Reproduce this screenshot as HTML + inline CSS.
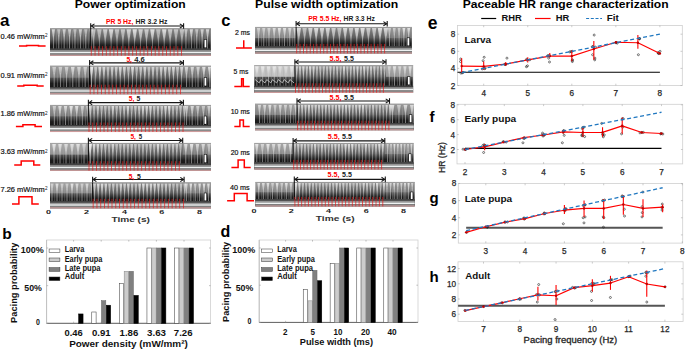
<!DOCTYPE html>
<html><head><meta charset="utf-8"><style>
html,body{margin:0;padding:0;background:#fff;}
svg{display:block;font-family:"Liberation Sans",sans-serif;}
</style></head><body>
<svg width="685" height="350" viewBox="0 0 685 350">
<defs>
<linearGradient id="kbody" x1="0" y1="0" x2="0" y2="1">
<stop offset="0" stop-color="#8a8a8a"/>
<stop offset="0.4" stop-color="#5c5c5c"/>
<stop offset="0.62" stop-color="#1c1c1c"/>
<stop offset="1" stop-color="#141414"/>
</linearGradient>
<linearGradient id="kbeat" x1="0" y1="0" x2="0" y2="1">
<stop offset="0" stop-color="#f4f4f4" stop-opacity="0.95"/>
<stop offset="0.5" stop-color="#e0e0e0" stop-opacity="0.8"/>
<stop offset="1" stop-color="#a0a0a0" stop-opacity="0.15"/>
</linearGradient>
</defs>
<rect width="685" height="350" fill="#fff"/>
<text x="74.7" y="8.2" font-size="10" font-weight="bold" fill="#000" text-anchor="start" textLength="111" lengthAdjust="spacingAndGlyphs">Power optimization</text>
<text x="255.1" y="8.2" font-size="10.3" font-weight="bold" fill="#000" text-anchor="start" textLength="143.2" lengthAdjust="spacingAndGlyphs">Pulse width optimization</text>
<text x="462.8" y="7.9" font-size="10" font-weight="bold" fill="#000" text-anchor="start" textLength="205.8" lengthAdjust="spacingAndGlyphs">Paceable HR range characterization</text>
<text x="0" y="25.9" font-size="17" font-weight="bold" fill="#000" text-anchor="start">a</text>
<text x="221.2" y="25.6" font-size="16.5" font-weight="bold" fill="#000" text-anchor="start">c</text>
<text x="427.8" y="29" font-size="17.5" font-weight="bold" fill="#000" text-anchor="start">e</text>
<text x="2.2" y="238.9" font-size="15.5" font-weight="bold" fill="#000" text-anchor="start">b</text>
<text x="220.4" y="236.5" font-size="16" font-weight="bold" fill="#000" text-anchor="start">d</text>
<text x="429.6" y="121.8" font-size="15" font-weight="bold" fill="#000" text-anchor="start">f</text>
<text x="429.4" y="203.2" font-size="15" font-weight="bold" fill="#000" text-anchor="start">g</text>
<text x="429.4" y="282.1" font-size="15" font-weight="bold" fill="#000" text-anchor="start">h</text>
<g>
<rect x="50" y="28.2" width="161" height="27.5" fill="url(#kbody)"/>
<path d="M51.75,29.2 L54.99,29.2 L53.37,41.95 Z" fill="url(#kbeat)" opacity="0.8"/>
<line x1="53.37" y1="35.08" x2="53.37" y2="48.7" stroke="#d0d0d0" stroke-width="0.7" opacity="0.8"/>
<line x1="56.34" y1="30.2" x2="56.34" y2="48.7" stroke="#a8a8a8" stroke-width="0.5" opacity="0.7"/>
<path d="M57.15,29.2 L60.39,29.2 L58.77,41.95 Z" fill="url(#kbeat)" opacity="0.62"/>
<line x1="58.77" y1="35.08" x2="58.77" y2="48.7" stroke="#d0d0d0" stroke-width="0.7" opacity="0.8"/>
<line x1="61.74" y1="30.2" x2="61.74" y2="48.7" stroke="#a8a8a8" stroke-width="0.5" opacity="0.7"/>
<path d="M62.55,29.2 L65.79,29.2 L64.17,41.95 Z" fill="url(#kbeat)" opacity="0.76"/>
<line x1="64.17" y1="35.08" x2="64.17" y2="48.7" stroke="#d0d0d0" stroke-width="0.7" opacity="0.8"/>
<line x1="67.14" y1="30.2" x2="67.14" y2="48.7" stroke="#a8a8a8" stroke-width="0.5" opacity="0.7"/>
<path d="M67.95,29.2 L71.19,29.2 L69.57,41.95 Z" fill="url(#kbeat)" opacity="0.71"/>
<line x1="69.57" y1="35.08" x2="69.57" y2="48.7" stroke="#d0d0d0" stroke-width="0.7" opacity="0.8"/>
<line x1="72.54" y1="30.2" x2="72.54" y2="48.7" stroke="#a8a8a8" stroke-width="0.5" opacity="0.7"/>
<path d="M73.35,29.2 L76.59,29.2 L74.97,41.95 Z" fill="url(#kbeat)" opacity="0.62"/>
<line x1="74.97" y1="35.08" x2="74.97" y2="48.7" stroke="#d0d0d0" stroke-width="0.7" opacity="0.8"/>
<line x1="77.94" y1="30.2" x2="77.94" y2="48.7" stroke="#a8a8a8" stroke-width="0.5" opacity="0.7"/>
<path d="M78.75,29.2 L81.99,29.2 L80.37,41.95 Z" fill="url(#kbeat)" opacity="0.75"/>
<line x1="80.37" y1="35.08" x2="80.37" y2="48.7" stroke="#d0d0d0" stroke-width="0.7" opacity="0.8"/>
<line x1="83.34" y1="30.2" x2="83.34" y2="48.7" stroke="#a8a8a8" stroke-width="0.5" opacity="0.7"/>
<path d="M84.15,29.2 L87.39,29.2 L85.77,41.95 Z" fill="url(#kbeat)" opacity="0.61"/>
<line x1="85.77" y1="35.08" x2="85.77" y2="48.7" stroke="#d0d0d0" stroke-width="0.7" opacity="0.8"/>
<line x1="88.74" y1="30.2" x2="88.74" y2="48.7" stroke="#a8a8a8" stroke-width="0.5" opacity="0.7"/>
<path d="M89.55,29.2 L92.79,29.2 L91.17,41.95 Z" fill="url(#kbeat)" opacity="0.73"/>
<line x1="91.17" y1="35.08" x2="91.17" y2="48.7" stroke="#d0d0d0" stroke-width="0.7" opacity="0.8"/>
<line x1="94.14" y1="30.2" x2="94.14" y2="48.7" stroke="#a8a8a8" stroke-width="0.5" opacity="0.7"/>
<path d="M91.2,29.2 L95.62,29.2 L93.41,44.7 Z" fill="url(#kbeat)" opacity="0.62"/>
<line x1="93.41" y1="35.08" x2="93.41" y2="48.7" stroke="#d0d0d0" stroke-width="0.55" opacity="0.8"/>
<path d="M97.1,29.2 L101.53,29.2 L99.31,44.7 Z" fill="url(#kbeat)" opacity="0.63"/>
<line x1="99.31" y1="35.08" x2="99.31" y2="48.7" stroke="#d0d0d0" stroke-width="0.55" opacity="0.8"/>
<path d="M103,29.2 L107.43,29.2 L105.21,44.7 Z" fill="url(#kbeat)" opacity="0.73"/>
<line x1="105.21" y1="35.08" x2="105.21" y2="48.7" stroke="#d0d0d0" stroke-width="0.55" opacity="0.8"/>
<path d="M108.9,29.2 L113.33,29.2 L111.11,44.7 Z" fill="url(#kbeat)" opacity="0.85"/>
<line x1="111.11" y1="35.08" x2="111.11" y2="48.7" stroke="#d0d0d0" stroke-width="0.55" opacity="0.8"/>
<path d="M114.8,29.2 L119.23,29.2 L117.01,44.7 Z" fill="url(#kbeat)" opacity="0.64"/>
<line x1="117.01" y1="35.08" x2="117.01" y2="48.7" stroke="#d0d0d0" stroke-width="0.55" opacity="0.8"/>
<path d="M120.7,29.2 L125.13,29.2 L122.91,44.7 Z" fill="url(#kbeat)" opacity="0.67"/>
<line x1="122.91" y1="35.08" x2="122.91" y2="48.7" stroke="#d0d0d0" stroke-width="0.55" opacity="0.8"/>
<path d="M126.6,29.2 L131.03,29.2 L128.81,44.7 Z" fill="url(#kbeat)" opacity="0.79"/>
<line x1="128.81" y1="35.08" x2="128.81" y2="48.7" stroke="#d0d0d0" stroke-width="0.55" opacity="0.8"/>
<path d="M132.5,29.2 L136.93,29.2 L134.71,44.7 Z" fill="url(#kbeat)" opacity="0.88"/>
<line x1="134.71" y1="35.08" x2="134.71" y2="48.7" stroke="#d0d0d0" stroke-width="0.55" opacity="0.8"/>
<path d="M138.4,29.2 L142.83,29.2 L140.61,44.7 Z" fill="url(#kbeat)" opacity="0.77"/>
<line x1="140.61" y1="35.08" x2="140.61" y2="48.7" stroke="#d0d0d0" stroke-width="0.55" opacity="0.8"/>
<path d="M144.3,29.2 L148.73,29.2 L146.51,44.7 Z" fill="url(#kbeat)" opacity="0.72"/>
<line x1="146.51" y1="35.08" x2="146.51" y2="48.7" stroke="#d0d0d0" stroke-width="0.55" opacity="0.8"/>
<path d="M150.2,29.2 L154.63,29.2 L152.41,44.7 Z" fill="url(#kbeat)" opacity="0.89"/>
<line x1="152.41" y1="35.08" x2="152.41" y2="48.7" stroke="#d0d0d0" stroke-width="0.55" opacity="0.8"/>
<path d="M156.1,29.2 L160.53,29.2 L158.31,44.7 Z" fill="url(#kbeat)" opacity="0.61"/>
<line x1="158.31" y1="35.08" x2="158.31" y2="48.7" stroke="#d0d0d0" stroke-width="0.55" opacity="0.8"/>
<path d="M162,29.2 L166.43,29.2 L164.21,44.7 Z" fill="url(#kbeat)" opacity="0.86"/>
<line x1="164.21" y1="35.08" x2="164.21" y2="48.7" stroke="#d0d0d0" stroke-width="0.55" opacity="0.8"/>
<path d="M167.9,29.2 L172.33,29.2 L170.11,44.7 Z" fill="url(#kbeat)" opacity="0.69"/>
<line x1="170.11" y1="35.08" x2="170.11" y2="48.7" stroke="#d0d0d0" stroke-width="0.55" opacity="0.8"/>
<path d="M173.8,29.2 L178.23,29.2 L176.01,44.7 Z" fill="url(#kbeat)" opacity="0.64"/>
<line x1="176.01" y1="35.08" x2="176.01" y2="48.7" stroke="#d0d0d0" stroke-width="0.55" opacity="0.8"/>
<path d="M179.7,29.2 L184.13,29.2 L181.91,44.7 Z" fill="url(#kbeat)" opacity="0.64"/>
<line x1="181.91" y1="35.08" x2="181.91" y2="48.7" stroke="#d0d0d0" stroke-width="0.55" opacity="0.8"/>
<path d="M184.33,29.2 L187.57,29.2 L185.95,41.95 Z" fill="url(#kbeat)" opacity="0.69"/>
<line x1="185.95" y1="35.08" x2="185.95" y2="48.7" stroke="#d0d0d0" stroke-width="0.7" opacity="0.8"/>
<line x1="188.92" y1="30.2" x2="188.92" y2="48.7" stroke="#a8a8a8" stroke-width="0.5" opacity="0.7"/>
<path d="M189.73,29.2 L192.97,29.2 L191.35,41.95 Z" fill="url(#kbeat)" opacity="0.84"/>
<line x1="191.35" y1="35.08" x2="191.35" y2="48.7" stroke="#d0d0d0" stroke-width="0.7" opacity="0.8"/>
<line x1="194.32" y1="30.2" x2="194.32" y2="48.7" stroke="#a8a8a8" stroke-width="0.5" opacity="0.7"/>
<path d="M195.13,29.2 L198.37,29.2 L196.75,41.95 Z" fill="url(#kbeat)" opacity="0.65"/>
<line x1="196.75" y1="35.08" x2="196.75" y2="48.7" stroke="#d0d0d0" stroke-width="0.7" opacity="0.8"/>
<line x1="199.72" y1="30.2" x2="199.72" y2="48.7" stroke="#a8a8a8" stroke-width="0.5" opacity="0.7"/>
<path d="M200.53,29.2 L203.77,29.2 L202.15,41.95 Z" fill="url(#kbeat)" opacity="0.77"/>
<line x1="202.15" y1="35.08" x2="202.15" y2="48.7" stroke="#d0d0d0" stroke-width="0.7" opacity="0.8"/>
<line x1="205.12" y1="30.2" x2="205.12" y2="48.7" stroke="#a8a8a8" stroke-width="0.5" opacity="0.7"/>
<path d="M205.93,29.2 L209.17,29.2 L207.55,41.95 Z" fill="url(#kbeat)" opacity="0.79"/>
<line x1="207.55" y1="35.08" x2="207.55" y2="48.7" stroke="#d0d0d0" stroke-width="0.7" opacity="0.8"/>
<line x1="210.52" y1="30.2" x2="210.52" y2="48.7" stroke="#a8a8a8" stroke-width="0.5" opacity="0.7"/>
<line x1="50" y1="28.6" x2="211" y2="28.6" stroke="#a0a0a0" stroke-width="0.8"/>
<rect x="50" y="48.7" width="161" height="7" fill="#6a6a6a"/>
<line x1="50" y1="49.3" x2="211" y2="49.3" stroke="#3a3a3a" stroke-width="1"/>
<line x1="50" y1="50.9" x2="211" y2="50.9" stroke="#9a9a9a" stroke-width="1"/>
<line x1="50" y1="52.5" x2="211" y2="52.5" stroke="#eef2f2" stroke-width="1.5"/>
<line x1="50" y1="54.2" x2="211" y2="54.2" stroke="#8a8a8a" stroke-width="1"/>
<line x1="50" y1="55.3" x2="211" y2="55.3" stroke="#f4b0b0" stroke-width="0.8"/>
<line x1="90.7" y1="28.2" x2="90.7" y2="48.7" stroke="#000" stroke-width="0.9"/>
<line x1="91.3" y1="46.2" x2="91.3" y2="55.7" stroke="#e81818" stroke-width="0.85" opacity="0.8"/>
<line x1="95.06" y1="46.2" x2="95.06" y2="55.7" stroke="#e81818" stroke-width="0.85" opacity="0.8"/>
<line x1="98.82" y1="46.2" x2="98.82" y2="55.7" stroke="#e81818" stroke-width="0.85" opacity="0.8"/>
<line x1="102.58" y1="46.2" x2="102.58" y2="55.7" stroke="#e81818" stroke-width="0.85" opacity="0.8"/>
<line x1="106.34" y1="46.2" x2="106.34" y2="55.7" stroke="#e81818" stroke-width="0.85" opacity="0.8"/>
<line x1="110.1" y1="46.2" x2="110.1" y2="55.7" stroke="#e81818" stroke-width="0.85" opacity="0.8"/>
<line x1="113.86" y1="46.2" x2="113.86" y2="55.7" stroke="#e81818" stroke-width="0.85" opacity="0.8"/>
<line x1="117.62" y1="46.2" x2="117.62" y2="55.7" stroke="#e81818" stroke-width="0.85" opacity="0.8"/>
<line x1="121.38" y1="46.2" x2="121.38" y2="55.7" stroke="#e81818" stroke-width="0.85" opacity="0.8"/>
<line x1="125.14" y1="46.2" x2="125.14" y2="55.7" stroke="#e81818" stroke-width="0.85" opacity="0.8"/>
<line x1="128.9" y1="46.2" x2="128.9" y2="55.7" stroke="#e81818" stroke-width="0.85" opacity="0.8"/>
<line x1="132.66" y1="46.2" x2="132.66" y2="55.7" stroke="#e81818" stroke-width="0.85" opacity="0.8"/>
<line x1="136.42" y1="46.2" x2="136.42" y2="55.7" stroke="#e81818" stroke-width="0.85" opacity="0.8"/>
<line x1="140.18" y1="46.2" x2="140.18" y2="55.7" stroke="#e81818" stroke-width="0.85" opacity="0.8"/>
<line x1="143.94" y1="46.2" x2="143.94" y2="55.7" stroke="#e81818" stroke-width="0.85" opacity="0.8"/>
<line x1="147.7" y1="46.2" x2="147.7" y2="55.7" stroke="#e81818" stroke-width="0.85" opacity="0.8"/>
<line x1="151.46" y1="46.2" x2="151.46" y2="55.7" stroke="#e81818" stroke-width="0.85" opacity="0.8"/>
<line x1="155.22" y1="46.2" x2="155.22" y2="55.7" stroke="#e81818" stroke-width="0.85" opacity="0.8"/>
<line x1="158.98" y1="46.2" x2="158.98" y2="55.7" stroke="#e81818" stroke-width="0.85" opacity="0.8"/>
<line x1="162.74" y1="46.2" x2="162.74" y2="55.7" stroke="#e81818" stroke-width="0.85" opacity="0.8"/>
<line x1="166.5" y1="46.2" x2="166.5" y2="55.7" stroke="#e81818" stroke-width="0.85" opacity="0.8"/>
<line x1="170.26" y1="46.2" x2="170.26" y2="55.7" stroke="#e81818" stroke-width="0.85" opacity="0.8"/>
<line x1="174.02" y1="46.2" x2="174.02" y2="55.7" stroke="#e81818" stroke-width="0.85" opacity="0.8"/>
<line x1="177.78" y1="46.2" x2="177.78" y2="55.7" stroke="#e81818" stroke-width="0.85" opacity="0.8"/>
<line x1="181.54" y1="46.2" x2="181.54" y2="55.7" stroke="#e81818" stroke-width="0.85" opacity="0.8"/>
<rect x="203.9" y="39.15" width="3" height="8.9" fill="#111111"/>
<rect x="204.5" y="39.75" width="1.8" height="7.7" fill="#ffffff"/>
</g>
<line x1="90.7" y1="26" x2="183.6" y2="26" stroke="#151515" stroke-width="1.15"/>
<line x1="90.7" y1="23.2" x2="90.7" y2="28.8" stroke="#151515" stroke-width="1.1"/>
<line x1="183.6" y1="23.2" x2="183.6" y2="28.8" stroke="#151515" stroke-width="1.1"/>
<path d="M91.3,26 l3.2,-2.1 M91.3,26 l3.2,2.1 M183,26 l-3.2,-2.1 M183,26 l-3.2,2.1" stroke="#151515" stroke-width="1.05" fill="none"/>
<g>
<rect x="50" y="65.8" width="161" height="28.4" fill="url(#kbody)"/>
<rect x="50" y="65.8" width="39.6" height="11.93" fill="#d8d8d8" opacity="0.25"/>
<rect x="183.4" y="65.8" width="27.6" height="11.93" fill="#d8d8d8" opacity="0.15"/>
<path d="M52.31,66.8 L56.03,66.8 L54.17,80 Z" fill="url(#kbeat)" opacity="0.62"/>
<line x1="54.17" y1="72.9" x2="54.17" y2="87.2" stroke="#d0d0d0" stroke-width="0.7" opacity="0.8"/>
<line x1="57.58" y1="67.8" x2="57.58" y2="87.2" stroke="#a8a8a8" stroke-width="0.5" opacity="0.7"/>
<path d="M58.51,66.8 L62.23,66.8 L60.37,80 Z" fill="url(#kbeat)" opacity="0.62"/>
<line x1="60.37" y1="72.9" x2="60.37" y2="87.2" stroke="#d0d0d0" stroke-width="0.7" opacity="0.8"/>
<line x1="63.78" y1="67.8" x2="63.78" y2="87.2" stroke="#a8a8a8" stroke-width="0.5" opacity="0.7"/>
<path d="M64.71,66.8 L68.43,66.8 L66.57,80 Z" fill="url(#kbeat)" opacity="0.66"/>
<line x1="66.57" y1="72.9" x2="66.57" y2="87.2" stroke="#d0d0d0" stroke-width="0.7" opacity="0.8"/>
<line x1="69.98" y1="67.8" x2="69.98" y2="87.2" stroke="#a8a8a8" stroke-width="0.5" opacity="0.7"/>
<path d="M70.91,66.8 L74.63,66.8 L72.77,80 Z" fill="url(#kbeat)" opacity="0.8"/>
<line x1="72.77" y1="72.9" x2="72.77" y2="87.2" stroke="#d0d0d0" stroke-width="0.7" opacity="0.8"/>
<line x1="76.18" y1="67.8" x2="76.18" y2="87.2" stroke="#a8a8a8" stroke-width="0.5" opacity="0.7"/>
<path d="M77.11,66.8 L80.83,66.8 L78.97,80 Z" fill="url(#kbeat)" opacity="0.73"/>
<line x1="78.97" y1="72.9" x2="78.97" y2="87.2" stroke="#d0d0d0" stroke-width="0.7" opacity="0.8"/>
<line x1="82.38" y1="67.8" x2="82.38" y2="87.2" stroke="#a8a8a8" stroke-width="0.5" opacity="0.7"/>
<path d="M83.31,66.8 L87.03,66.8 L85.17,80 Z" fill="url(#kbeat)" opacity="0.69"/>
<line x1="85.17" y1="72.9" x2="85.17" y2="87.2" stroke="#d0d0d0" stroke-width="0.7" opacity="0.8"/>
<line x1="88.58" y1="67.8" x2="88.58" y2="87.2" stroke="#a8a8a8" stroke-width="0.5" opacity="0.7"/>
<path d="M89.51,66.8 L93.23,66.8 L91.37,80 Z" fill="url(#kbeat)" opacity="0.78"/>
<line x1="91.37" y1="72.9" x2="91.37" y2="87.2" stroke="#d0d0d0" stroke-width="0.7" opacity="0.8"/>
<line x1="94.78" y1="67.8" x2="94.78" y2="87.2" stroke="#a8a8a8" stroke-width="0.5" opacity="0.7"/>
<path d="M90.1,66.8 L93.17,66.8 L91.63,82.84 Z" fill="url(#kbeat)" opacity="0.74"/>
<line x1="91.63" y1="72.9" x2="91.63" y2="87.2" stroke="#d0d0d0" stroke-width="0.55" opacity="0.8"/>
<path d="M94.19,66.8 L97.26,66.8 L95.72,82.84 Z" fill="url(#kbeat)" opacity="0.69"/>
<line x1="95.72" y1="72.9" x2="95.72" y2="87.2" stroke="#d0d0d0" stroke-width="0.55" opacity="0.8"/>
<path d="M98.28,66.8 L101.35,66.8 L99.81,82.84 Z" fill="url(#kbeat)" opacity="0.84"/>
<line x1="99.81" y1="72.9" x2="99.81" y2="87.2" stroke="#d0d0d0" stroke-width="0.55" opacity="0.8"/>
<path d="M102.37,66.8 L105.44,66.8 L103.9,82.84 Z" fill="url(#kbeat)" opacity="0.81"/>
<line x1="103.9" y1="72.9" x2="103.9" y2="87.2" stroke="#d0d0d0" stroke-width="0.55" opacity="0.8"/>
<path d="M106.46,66.8 L109.53,66.8 L107.99,82.84 Z" fill="url(#kbeat)" opacity="0.67"/>
<line x1="107.99" y1="72.9" x2="107.99" y2="87.2" stroke="#d0d0d0" stroke-width="0.55" opacity="0.8"/>
<path d="M110.55,66.8 L113.62,66.8 L112.08,82.84 Z" fill="url(#kbeat)" opacity="0.77"/>
<line x1="112.08" y1="72.9" x2="112.08" y2="87.2" stroke="#d0d0d0" stroke-width="0.55" opacity="0.8"/>
<path d="M114.64,66.8 L117.71,66.8 L116.17,82.84 Z" fill="url(#kbeat)" opacity="0.76"/>
<line x1="116.17" y1="72.9" x2="116.17" y2="87.2" stroke="#d0d0d0" stroke-width="0.55" opacity="0.8"/>
<path d="M118.73,66.8 L121.8,66.8 L120.26,82.84 Z" fill="url(#kbeat)" opacity="0.86"/>
<line x1="120.26" y1="72.9" x2="120.26" y2="87.2" stroke="#d0d0d0" stroke-width="0.55" opacity="0.8"/>
<path d="M122.82,66.8 L125.89,66.8 L124.35,82.84 Z" fill="url(#kbeat)" opacity="0.82"/>
<line x1="124.35" y1="72.9" x2="124.35" y2="87.2" stroke="#d0d0d0" stroke-width="0.55" opacity="0.8"/>
<path d="M126.91,66.8 L129.98,66.8 L128.44,82.84 Z" fill="url(#kbeat)" opacity="0.69"/>
<line x1="128.44" y1="72.9" x2="128.44" y2="87.2" stroke="#d0d0d0" stroke-width="0.55" opacity="0.8"/>
<path d="M131,66.8 L134.07,66.8 L132.53,82.84 Z" fill="url(#kbeat)" opacity="0.89"/>
<line x1="132.53" y1="72.9" x2="132.53" y2="87.2" stroke="#d0d0d0" stroke-width="0.55" opacity="0.8"/>
<path d="M135.09,66.8 L138.16,66.8 L136.62,82.84 Z" fill="url(#kbeat)" opacity="0.64"/>
<line x1="136.62" y1="72.9" x2="136.62" y2="87.2" stroke="#d0d0d0" stroke-width="0.55" opacity="0.8"/>
<path d="M139.18,66.8 L142.25,66.8 L140.71,82.84 Z" fill="url(#kbeat)" opacity="0.73"/>
<line x1="140.71" y1="72.9" x2="140.71" y2="87.2" stroke="#d0d0d0" stroke-width="0.55" opacity="0.8"/>
<path d="M143.27,66.8 L146.34,66.8 L144.8,82.84 Z" fill="url(#kbeat)" opacity="0.83"/>
<line x1="144.8" y1="72.9" x2="144.8" y2="87.2" stroke="#d0d0d0" stroke-width="0.55" opacity="0.8"/>
<path d="M147.36,66.8 L150.43,66.8 L148.89,82.84 Z" fill="url(#kbeat)" opacity="0.65"/>
<line x1="148.89" y1="72.9" x2="148.89" y2="87.2" stroke="#d0d0d0" stroke-width="0.55" opacity="0.8"/>
<path d="M151.45,66.8 L154.52,66.8 L152.98,82.84 Z" fill="url(#kbeat)" opacity="0.75"/>
<line x1="152.98" y1="72.9" x2="152.98" y2="87.2" stroke="#d0d0d0" stroke-width="0.55" opacity="0.8"/>
<path d="M155.54,66.8 L158.61,66.8 L157.07,82.84 Z" fill="url(#kbeat)" opacity="0.61"/>
<line x1="157.07" y1="72.9" x2="157.07" y2="87.2" stroke="#d0d0d0" stroke-width="0.55" opacity="0.8"/>
<path d="M159.63,66.8 L162.7,66.8 L161.16,82.84 Z" fill="url(#kbeat)" opacity="0.8"/>
<line x1="161.16" y1="72.9" x2="161.16" y2="87.2" stroke="#d0d0d0" stroke-width="0.55" opacity="0.8"/>
<path d="M163.72,66.8 L166.79,66.8 L165.25,82.84 Z" fill="url(#kbeat)" opacity="0.83"/>
<line x1="165.25" y1="72.9" x2="165.25" y2="87.2" stroke="#d0d0d0" stroke-width="0.55" opacity="0.8"/>
<path d="M167.81,66.8 L170.88,66.8 L169.34,82.84 Z" fill="url(#kbeat)" opacity="0.77"/>
<line x1="169.34" y1="72.9" x2="169.34" y2="87.2" stroke="#d0d0d0" stroke-width="0.55" opacity="0.8"/>
<path d="M171.9,66.8 L174.97,66.8 L173.43,82.84 Z" fill="url(#kbeat)" opacity="0.86"/>
<line x1="173.43" y1="72.9" x2="173.43" y2="87.2" stroke="#d0d0d0" stroke-width="0.55" opacity="0.8"/>
<path d="M175.99,66.8 L179.06,66.8 L177.52,82.84 Z" fill="url(#kbeat)" opacity="0.69"/>
<line x1="177.52" y1="72.9" x2="177.52" y2="87.2" stroke="#d0d0d0" stroke-width="0.55" opacity="0.8"/>
<path d="M180.08,66.8 L183.15,66.8 L181.61,82.84 Z" fill="url(#kbeat)" opacity="0.81"/>
<line x1="181.61" y1="72.9" x2="181.61" y2="87.2" stroke="#d0d0d0" stroke-width="0.55" opacity="0.8"/>
<path d="M184.72,66.8 L188.2,66.8 L186.46,80 Z" fill="url(#kbeat)" opacity="0.78"/>
<line x1="186.46" y1="72.9" x2="186.46" y2="87.2" stroke="#d0d0d0" stroke-width="0.7" opacity="0.8"/>
<line x1="189.65" y1="67.8" x2="189.65" y2="87.2" stroke="#a8a8a8" stroke-width="0.5" opacity="0.7"/>
<path d="M190.52,66.8 L194,66.8 L192.26,80 Z" fill="url(#kbeat)" opacity="0.77"/>
<line x1="192.26" y1="72.9" x2="192.26" y2="87.2" stroke="#d0d0d0" stroke-width="0.7" opacity="0.8"/>
<line x1="195.45" y1="67.8" x2="195.45" y2="87.2" stroke="#a8a8a8" stroke-width="0.5" opacity="0.7"/>
<path d="M196.32,66.8 L199.8,66.8 L198.06,80 Z" fill="url(#kbeat)" opacity="0.74"/>
<line x1="198.06" y1="72.9" x2="198.06" y2="87.2" stroke="#d0d0d0" stroke-width="0.7" opacity="0.8"/>
<line x1="201.25" y1="67.8" x2="201.25" y2="87.2" stroke="#a8a8a8" stroke-width="0.5" opacity="0.7"/>
<path d="M202.12,66.8 L205.6,66.8 L203.86,80 Z" fill="url(#kbeat)" opacity="0.85"/>
<line x1="203.86" y1="72.9" x2="203.86" y2="87.2" stroke="#d0d0d0" stroke-width="0.7" opacity="0.8"/>
<line x1="207.05" y1="67.8" x2="207.05" y2="87.2" stroke="#a8a8a8" stroke-width="0.5" opacity="0.7"/>
<path d="M207.92,66.8 L211,66.8 L209.66,80 Z" fill="url(#kbeat)" opacity="0.88"/>
<line x1="209.66" y1="72.9" x2="209.66" y2="87.2" stroke="#d0d0d0" stroke-width="0.7" opacity="0.8"/>
<line x1="210.6" y1="67.8" x2="210.6" y2="87.2" stroke="#a8a8a8" stroke-width="0.5" opacity="0.7"/>
<line x1="50" y1="66.2" x2="211" y2="66.2" stroke="#a0a0a0" stroke-width="0.8"/>
<rect x="50" y="87.2" width="161" height="7" fill="#6a6a6a"/>
<line x1="50" y1="87.8" x2="211" y2="87.8" stroke="#3a3a3a" stroke-width="1"/>
<line x1="50" y1="89.4" x2="211" y2="89.4" stroke="#9a9a9a" stroke-width="1"/>
<line x1="50" y1="91" x2="211" y2="91" stroke="#eef2f2" stroke-width="1.5"/>
<line x1="50" y1="92.7" x2="211" y2="92.7" stroke="#8a8a8a" stroke-width="1"/>
<line x1="50" y1="93.8" x2="211" y2="93.8" stroke="#f4b0b0" stroke-width="0.8"/>
<line x1="89.6" y1="65.8" x2="89.6" y2="87.2" stroke="#000" stroke-width="0.9"/>
<line x1="90.2" y1="84.7" x2="90.2" y2="94.2" stroke="#e81818" stroke-width="0.85" opacity="0.8"/>
<line x1="93.96" y1="84.7" x2="93.96" y2="94.2" stroke="#e81818" stroke-width="0.85" opacity="0.8"/>
<line x1="97.72" y1="84.7" x2="97.72" y2="94.2" stroke="#e81818" stroke-width="0.85" opacity="0.8"/>
<line x1="101.48" y1="84.7" x2="101.48" y2="94.2" stroke="#e81818" stroke-width="0.85" opacity="0.8"/>
<line x1="105.24" y1="84.7" x2="105.24" y2="94.2" stroke="#e81818" stroke-width="0.85" opacity="0.8"/>
<line x1="109" y1="84.7" x2="109" y2="94.2" stroke="#e81818" stroke-width="0.85" opacity="0.8"/>
<line x1="112.76" y1="84.7" x2="112.76" y2="94.2" stroke="#e81818" stroke-width="0.85" opacity="0.8"/>
<line x1="116.52" y1="84.7" x2="116.52" y2="94.2" stroke="#e81818" stroke-width="0.85" opacity="0.8"/>
<line x1="120.28" y1="84.7" x2="120.28" y2="94.2" stroke="#e81818" stroke-width="0.85" opacity="0.8"/>
<line x1="124.04" y1="84.7" x2="124.04" y2="94.2" stroke="#e81818" stroke-width="0.85" opacity="0.8"/>
<line x1="127.8" y1="84.7" x2="127.8" y2="94.2" stroke="#e81818" stroke-width="0.85" opacity="0.8"/>
<line x1="131.56" y1="84.7" x2="131.56" y2="94.2" stroke="#e81818" stroke-width="0.85" opacity="0.8"/>
<line x1="135.32" y1="84.7" x2="135.32" y2="94.2" stroke="#e81818" stroke-width="0.85" opacity="0.8"/>
<line x1="139.08" y1="84.7" x2="139.08" y2="94.2" stroke="#e81818" stroke-width="0.85" opacity="0.8"/>
<line x1="142.84" y1="84.7" x2="142.84" y2="94.2" stroke="#e81818" stroke-width="0.85" opacity="0.8"/>
<line x1="146.6" y1="84.7" x2="146.6" y2="94.2" stroke="#e81818" stroke-width="0.85" opacity="0.8"/>
<line x1="150.36" y1="84.7" x2="150.36" y2="94.2" stroke="#e81818" stroke-width="0.85" opacity="0.8"/>
<line x1="154.12" y1="84.7" x2="154.12" y2="94.2" stroke="#e81818" stroke-width="0.85" opacity="0.8"/>
<line x1="157.88" y1="84.7" x2="157.88" y2="94.2" stroke="#e81818" stroke-width="0.85" opacity="0.8"/>
<line x1="161.64" y1="84.7" x2="161.64" y2="94.2" stroke="#e81818" stroke-width="0.85" opacity="0.8"/>
<line x1="165.4" y1="84.7" x2="165.4" y2="94.2" stroke="#e81818" stroke-width="0.85" opacity="0.8"/>
<line x1="169.16" y1="84.7" x2="169.16" y2="94.2" stroke="#e81818" stroke-width="0.85" opacity="0.8"/>
<line x1="172.92" y1="84.7" x2="172.92" y2="94.2" stroke="#e81818" stroke-width="0.85" opacity="0.8"/>
<line x1="176.68" y1="84.7" x2="176.68" y2="94.2" stroke="#e81818" stroke-width="0.85" opacity="0.8"/>
<line x1="180.44" y1="84.7" x2="180.44" y2="94.2" stroke="#e81818" stroke-width="0.85" opacity="0.8"/>
<rect x="203.9" y="77.13" width="3" height="9.15" fill="#111111"/>
<rect x="204.5" y="77.73" width="1.8" height="7.95" fill="#ffffff"/>
</g>
<line x1="89.6" y1="62.8" x2="183.4" y2="62.8" stroke="#151515" stroke-width="1.15"/>
<line x1="89.6" y1="60" x2="89.6" y2="65.6" stroke="#151515" stroke-width="1.1"/>
<line x1="183.4" y1="60" x2="183.4" y2="65.6" stroke="#151515" stroke-width="1.1"/>
<path d="M90.2,62.8 l3.2,-2.1 M90.2,62.8 l3.2,2.1 M182.8,62.8 l-3.2,-2.1 M182.8,62.8 l-3.2,2.1" stroke="#151515" stroke-width="1.05" fill="none"/>
<g>
<rect x="50" y="105" width="161" height="27" fill="url(#kbody)"/>
<rect x="50" y="105" width="38.4" height="11.34" fill="#d8d8d8" opacity="0.25"/>
<rect x="183.4" y="105" width="27.6" height="11.34" fill="#d8d8d8" opacity="0.15"/>
<path d="M52.65,106 L56.01,106 L54.33,118.5 Z" fill="url(#kbeat)" opacity="0.62"/>
<line x1="54.33" y1="111.75" x2="54.33" y2="125" stroke="#d0d0d0" stroke-width="0.7" opacity="0.8"/>
<line x1="57.41" y1="107" x2="57.41" y2="125" stroke="#a8a8a8" stroke-width="0.5" opacity="0.7"/>
<path d="M58.25,106 L61.61,106 L59.93,118.5 Z" fill="url(#kbeat)" opacity="0.81"/>
<line x1="59.93" y1="111.75" x2="59.93" y2="125" stroke="#d0d0d0" stroke-width="0.7" opacity="0.8"/>
<line x1="63.01" y1="107" x2="63.01" y2="125" stroke="#a8a8a8" stroke-width="0.5" opacity="0.7"/>
<path d="M63.85,106 L67.21,106 L65.53,118.5 Z" fill="url(#kbeat)" opacity="0.79"/>
<line x1="65.53" y1="111.75" x2="65.53" y2="125" stroke="#d0d0d0" stroke-width="0.7" opacity="0.8"/>
<line x1="68.61" y1="107" x2="68.61" y2="125" stroke="#a8a8a8" stroke-width="0.5" opacity="0.7"/>
<path d="M69.45,106 L72.81,106 L71.13,118.5 Z" fill="url(#kbeat)" opacity="0.9"/>
<line x1="71.13" y1="111.75" x2="71.13" y2="125" stroke="#d0d0d0" stroke-width="0.7" opacity="0.8"/>
<line x1="74.21" y1="107" x2="74.21" y2="125" stroke="#a8a8a8" stroke-width="0.5" opacity="0.7"/>
<path d="M75.05,106 L78.41,106 L76.73,118.5 Z" fill="url(#kbeat)" opacity="0.85"/>
<line x1="76.73" y1="111.75" x2="76.73" y2="125" stroke="#d0d0d0" stroke-width="0.7" opacity="0.8"/>
<line x1="79.81" y1="107" x2="79.81" y2="125" stroke="#a8a8a8" stroke-width="0.5" opacity="0.7"/>
<path d="M80.65,106 L84.01,106 L82.33,118.5 Z" fill="url(#kbeat)" opacity="0.69"/>
<line x1="82.33" y1="111.75" x2="82.33" y2="125" stroke="#d0d0d0" stroke-width="0.7" opacity="0.8"/>
<line x1="85.41" y1="107" x2="85.41" y2="125" stroke="#a8a8a8" stroke-width="0.5" opacity="0.7"/>
<path d="M86.25,106 L89.61,106 L87.93,118.5 Z" fill="url(#kbeat)" opacity="0.72"/>
<line x1="87.93" y1="111.75" x2="87.93" y2="125" stroke="#d0d0d0" stroke-width="0.7" opacity="0.8"/>
<line x1="91.01" y1="107" x2="91.01" y2="125" stroke="#a8a8a8" stroke-width="0.5" opacity="0.7"/>
<path d="M88.9,106 L91.72,106 L90.31,121.2 Z" fill="url(#kbeat)" opacity="0.8"/>
<line x1="90.31" y1="111.75" x2="90.31" y2="125" stroke="#d0d0d0" stroke-width="0.55" opacity="0.8"/>
<path d="M92.66,106 L95.48,106 L94.07,121.2 Z" fill="url(#kbeat)" opacity="0.61"/>
<line x1="94.07" y1="111.75" x2="94.07" y2="125" stroke="#d0d0d0" stroke-width="0.55" opacity="0.8"/>
<path d="M96.42,106 L99.24,106 L97.83,121.2 Z" fill="url(#kbeat)" opacity="0.74"/>
<line x1="97.83" y1="111.75" x2="97.83" y2="125" stroke="#d0d0d0" stroke-width="0.55" opacity="0.8"/>
<path d="M100.18,106 L103,106 L101.59,121.2 Z" fill="url(#kbeat)" opacity="0.65"/>
<line x1="101.59" y1="111.75" x2="101.59" y2="125" stroke="#d0d0d0" stroke-width="0.55" opacity="0.8"/>
<path d="M103.94,106 L106.76,106 L105.35,121.2 Z" fill="url(#kbeat)" opacity="0.64"/>
<line x1="105.35" y1="111.75" x2="105.35" y2="125" stroke="#d0d0d0" stroke-width="0.55" opacity="0.8"/>
<path d="M107.7,106 L110.52,106 L109.11,121.2 Z" fill="url(#kbeat)" opacity="0.62"/>
<line x1="109.11" y1="111.75" x2="109.11" y2="125" stroke="#d0d0d0" stroke-width="0.55" opacity="0.8"/>
<path d="M111.46,106 L114.28,106 L112.87,121.2 Z" fill="url(#kbeat)" opacity="0.83"/>
<line x1="112.87" y1="111.75" x2="112.87" y2="125" stroke="#d0d0d0" stroke-width="0.55" opacity="0.8"/>
<path d="M115.22,106 L118.04,106 L116.63,121.2 Z" fill="url(#kbeat)" opacity="0.64"/>
<line x1="116.63" y1="111.75" x2="116.63" y2="125" stroke="#d0d0d0" stroke-width="0.55" opacity="0.8"/>
<path d="M118.98,106 L121.8,106 L120.39,121.2 Z" fill="url(#kbeat)" opacity="0.67"/>
<line x1="120.39" y1="111.75" x2="120.39" y2="125" stroke="#d0d0d0" stroke-width="0.55" opacity="0.8"/>
<path d="M122.74,106 L125.56,106 L124.15,121.2 Z" fill="url(#kbeat)" opacity="0.72"/>
<line x1="124.15" y1="111.75" x2="124.15" y2="125" stroke="#d0d0d0" stroke-width="0.55" opacity="0.8"/>
<path d="M126.5,106 L129.32,106 L127.91,121.2 Z" fill="url(#kbeat)" opacity="0.86"/>
<line x1="127.91" y1="111.75" x2="127.91" y2="125" stroke="#d0d0d0" stroke-width="0.55" opacity="0.8"/>
<path d="M130.26,106 L133.08,106 L131.67,121.2 Z" fill="url(#kbeat)" opacity="0.62"/>
<line x1="131.67" y1="111.75" x2="131.67" y2="125" stroke="#d0d0d0" stroke-width="0.55" opacity="0.8"/>
<path d="M134.02,106 L136.84,106 L135.43,121.2 Z" fill="url(#kbeat)" opacity="0.73"/>
<line x1="135.43" y1="111.75" x2="135.43" y2="125" stroke="#d0d0d0" stroke-width="0.55" opacity="0.8"/>
<path d="M137.78,106 L140.6,106 L139.19,121.2 Z" fill="url(#kbeat)" opacity="0.76"/>
<line x1="139.19" y1="111.75" x2="139.19" y2="125" stroke="#d0d0d0" stroke-width="0.55" opacity="0.8"/>
<path d="M141.54,106 L144.36,106 L142.95,121.2 Z" fill="url(#kbeat)" opacity="0.87"/>
<line x1="142.95" y1="111.75" x2="142.95" y2="125" stroke="#d0d0d0" stroke-width="0.55" opacity="0.8"/>
<path d="M145.3,106 L148.12,106 L146.71,121.2 Z" fill="url(#kbeat)" opacity="0.85"/>
<line x1="146.71" y1="111.75" x2="146.71" y2="125" stroke="#d0d0d0" stroke-width="0.55" opacity="0.8"/>
<path d="M149.06,106 L151.88,106 L150.47,121.2 Z" fill="url(#kbeat)" opacity="0.86"/>
<line x1="150.47" y1="111.75" x2="150.47" y2="125" stroke="#d0d0d0" stroke-width="0.55" opacity="0.8"/>
<path d="M152.82,106 L155.64,106 L154.23,121.2 Z" fill="url(#kbeat)" opacity="0.68"/>
<line x1="154.23" y1="111.75" x2="154.23" y2="125" stroke="#d0d0d0" stroke-width="0.55" opacity="0.8"/>
<path d="M156.58,106 L159.4,106 L157.99,121.2 Z" fill="url(#kbeat)" opacity="0.72"/>
<line x1="157.99" y1="111.75" x2="157.99" y2="125" stroke="#d0d0d0" stroke-width="0.55" opacity="0.8"/>
<path d="M160.34,106 L163.16,106 L161.75,121.2 Z" fill="url(#kbeat)" opacity="0.71"/>
<line x1="161.75" y1="111.75" x2="161.75" y2="125" stroke="#d0d0d0" stroke-width="0.55" opacity="0.8"/>
<path d="M164.1,106 L166.92,106 L165.51,121.2 Z" fill="url(#kbeat)" opacity="0.87"/>
<line x1="165.51" y1="111.75" x2="165.51" y2="125" stroke="#d0d0d0" stroke-width="0.55" opacity="0.8"/>
<path d="M167.86,106 L170.68,106 L169.27,121.2 Z" fill="url(#kbeat)" opacity="0.89"/>
<line x1="169.27" y1="111.75" x2="169.27" y2="125" stroke="#d0d0d0" stroke-width="0.55" opacity="0.8"/>
<path d="M171.62,106 L174.44,106 L173.03,121.2 Z" fill="url(#kbeat)" opacity="0.65"/>
<line x1="173.03" y1="111.75" x2="173.03" y2="125" stroke="#d0d0d0" stroke-width="0.55" opacity="0.8"/>
<path d="M175.38,106 L178.2,106 L176.79,121.2 Z" fill="url(#kbeat)" opacity="0.65"/>
<line x1="176.79" y1="111.75" x2="176.79" y2="125" stroke="#d0d0d0" stroke-width="0.55" opacity="0.8"/>
<path d="M179.14,106 L181.96,106 L180.55,121.2 Z" fill="url(#kbeat)" opacity="0.67"/>
<line x1="180.55" y1="111.75" x2="180.55" y2="125" stroke="#d0d0d0" stroke-width="0.55" opacity="0.8"/>
<path d="M182.9,106 L185.72,106 L184.31,121.2 Z" fill="url(#kbeat)" opacity="0.67"/>
<line x1="184.31" y1="111.75" x2="184.31" y2="125" stroke="#d0d0d0" stroke-width="0.55" opacity="0.8"/>
<path d="M184.9,106 L188.26,106 L186.58,118.5 Z" fill="url(#kbeat)" opacity="0.75"/>
<line x1="186.58" y1="111.75" x2="186.58" y2="125" stroke="#d0d0d0" stroke-width="0.7" opacity="0.8"/>
<line x1="189.66" y1="107" x2="189.66" y2="125" stroke="#a8a8a8" stroke-width="0.5" opacity="0.7"/>
<path d="M190.5,106 L193.86,106 L192.18,118.5 Z" fill="url(#kbeat)" opacity="0.78"/>
<line x1="192.18" y1="111.75" x2="192.18" y2="125" stroke="#d0d0d0" stroke-width="0.7" opacity="0.8"/>
<line x1="195.26" y1="107" x2="195.26" y2="125" stroke="#a8a8a8" stroke-width="0.5" opacity="0.7"/>
<path d="M196.1,106 L199.46,106 L197.78,118.5 Z" fill="url(#kbeat)" opacity="0.68"/>
<line x1="197.78" y1="111.75" x2="197.78" y2="125" stroke="#d0d0d0" stroke-width="0.7" opacity="0.8"/>
<line x1="200.86" y1="107" x2="200.86" y2="125" stroke="#a8a8a8" stroke-width="0.5" opacity="0.7"/>
<path d="M201.7,106 L205.06,106 L203.38,118.5 Z" fill="url(#kbeat)" opacity="0.6"/>
<line x1="203.38" y1="111.75" x2="203.38" y2="125" stroke="#d0d0d0" stroke-width="0.7" opacity="0.8"/>
<line x1="206.46" y1="107" x2="206.46" y2="125" stroke="#a8a8a8" stroke-width="0.5" opacity="0.7"/>
<path d="M207.3,106 L210.66,106 L208.98,118.5 Z" fill="url(#kbeat)" opacity="0.73"/>
<line x1="208.98" y1="111.75" x2="208.98" y2="125" stroke="#d0d0d0" stroke-width="0.7" opacity="0.8"/>
<line x1="210.6" y1="107" x2="210.6" y2="125" stroke="#a8a8a8" stroke-width="0.5" opacity="0.7"/>
<line x1="50" y1="105.4" x2="211" y2="105.4" stroke="#a0a0a0" stroke-width="0.8"/>
<rect x="50" y="125" width="161" height="7" fill="#6a6a6a"/>
<line x1="50" y1="125.6" x2="211" y2="125.6" stroke="#3a3a3a" stroke-width="1"/>
<line x1="50" y1="127.2" x2="211" y2="127.2" stroke="#9a9a9a" stroke-width="1"/>
<line x1="50" y1="128.8" x2="211" y2="128.8" stroke="#eef2f2" stroke-width="1.5"/>
<line x1="50" y1="130.5" x2="211" y2="130.5" stroke="#8a8a8a" stroke-width="1"/>
<line x1="50" y1="131.6" x2="211" y2="131.6" stroke="#f4b0b0" stroke-width="0.8"/>
<line x1="88.4" y1="105" x2="88.4" y2="125" stroke="#000" stroke-width="0.9"/>
<line x1="89" y1="122.5" x2="89" y2="132" stroke="#e81818" stroke-width="0.85" opacity="0.8"/>
<line x1="92.76" y1="122.5" x2="92.76" y2="132" stroke="#e81818" stroke-width="0.85" opacity="0.8"/>
<line x1="96.52" y1="122.5" x2="96.52" y2="132" stroke="#e81818" stroke-width="0.85" opacity="0.8"/>
<line x1="100.28" y1="122.5" x2="100.28" y2="132" stroke="#e81818" stroke-width="0.85" opacity="0.8"/>
<line x1="104.04" y1="122.5" x2="104.04" y2="132" stroke="#e81818" stroke-width="0.85" opacity="0.8"/>
<line x1="107.8" y1="122.5" x2="107.8" y2="132" stroke="#e81818" stroke-width="0.85" opacity="0.8"/>
<line x1="111.56" y1="122.5" x2="111.56" y2="132" stroke="#e81818" stroke-width="0.85" opacity="0.8"/>
<line x1="115.32" y1="122.5" x2="115.32" y2="132" stroke="#e81818" stroke-width="0.85" opacity="0.8"/>
<line x1="119.08" y1="122.5" x2="119.08" y2="132" stroke="#e81818" stroke-width="0.85" opacity="0.8"/>
<line x1="122.84" y1="122.5" x2="122.84" y2="132" stroke="#e81818" stroke-width="0.85" opacity="0.8"/>
<line x1="126.6" y1="122.5" x2="126.6" y2="132" stroke="#e81818" stroke-width="0.85" opacity="0.8"/>
<line x1="130.36" y1="122.5" x2="130.36" y2="132" stroke="#e81818" stroke-width="0.85" opacity="0.8"/>
<line x1="134.12" y1="122.5" x2="134.12" y2="132" stroke="#e81818" stroke-width="0.85" opacity="0.8"/>
<line x1="137.88" y1="122.5" x2="137.88" y2="132" stroke="#e81818" stroke-width="0.85" opacity="0.8"/>
<line x1="141.64" y1="122.5" x2="141.64" y2="132" stroke="#e81818" stroke-width="0.85" opacity="0.8"/>
<line x1="145.4" y1="122.5" x2="145.4" y2="132" stroke="#e81818" stroke-width="0.85" opacity="0.8"/>
<line x1="149.16" y1="122.5" x2="149.16" y2="132" stroke="#e81818" stroke-width="0.85" opacity="0.8"/>
<line x1="152.92" y1="122.5" x2="152.92" y2="132" stroke="#e81818" stroke-width="0.85" opacity="0.8"/>
<line x1="156.68" y1="122.5" x2="156.68" y2="132" stroke="#e81818" stroke-width="0.85" opacity="0.8"/>
<line x1="160.44" y1="122.5" x2="160.44" y2="132" stroke="#e81818" stroke-width="0.85" opacity="0.8"/>
<line x1="164.2" y1="122.5" x2="164.2" y2="132" stroke="#e81818" stroke-width="0.85" opacity="0.8"/>
<line x1="167.96" y1="122.5" x2="167.96" y2="132" stroke="#e81818" stroke-width="0.85" opacity="0.8"/>
<line x1="171.72" y1="122.5" x2="171.72" y2="132" stroke="#e81818" stroke-width="0.85" opacity="0.8"/>
<line x1="175.48" y1="122.5" x2="175.48" y2="132" stroke="#e81818" stroke-width="0.85" opacity="0.8"/>
<line x1="179.24" y1="122.5" x2="179.24" y2="132" stroke="#e81818" stroke-width="0.85" opacity="0.8"/>
<line x1="183" y1="122.5" x2="183" y2="132" stroke="#e81818" stroke-width="0.85" opacity="0.8"/>
<rect x="203.9" y="115.74" width="3" height="8.76" fill="#111111"/>
<rect x="204.5" y="116.34" width="1.8" height="7.56" fill="#ffffff"/>
</g>
<line x1="88.4" y1="102.6" x2="183.4" y2="102.6" stroke="#151515" stroke-width="1.15"/>
<line x1="88.4" y1="99.8" x2="88.4" y2="105.4" stroke="#151515" stroke-width="1.1"/>
<line x1="183.4" y1="99.8" x2="183.4" y2="105.4" stroke="#151515" stroke-width="1.1"/>
<path d="M89,102.6 l3.2,-2.1 M89,102.6 l3.2,2.1 M182.8,102.6 l-3.2,-2.1 M182.8,102.6 l-3.2,2.1" stroke="#151515" stroke-width="1.05" fill="none"/>
<g>
<rect x="50" y="143" width="161" height="27.7" fill="url(#kbody)"/>
<rect x="50" y="143" width="38.4" height="11.63" fill="#d8d8d8" opacity="0.45"/>
<rect x="182.7" y="143" width="28.3" height="11.63" fill="#d8d8d8" opacity="0.27"/>
<path d="M52.22,144 L55.82,144 L54.02,156.85 Z" fill="url(#kbeat)" opacity="0.89"/>
<line x1="54.02" y1="149.93" x2="54.02" y2="163.7" stroke="#d0d0d0" stroke-width="0.7" opacity="0.8"/>
<line x1="57.32" y1="145" x2="57.32" y2="163.7" stroke="#a8a8a8" stroke-width="0.5" opacity="0.7"/>
<path d="M58.22,144 L61.82,144 L60.02,156.85 Z" fill="url(#kbeat)" opacity="0.81"/>
<line x1="60.02" y1="149.93" x2="60.02" y2="163.7" stroke="#d0d0d0" stroke-width="0.7" opacity="0.8"/>
<line x1="63.32" y1="145" x2="63.32" y2="163.7" stroke="#a8a8a8" stroke-width="0.5" opacity="0.7"/>
<path d="M64.22,144 L67.82,144 L66.02,156.85 Z" fill="url(#kbeat)" opacity="0.75"/>
<line x1="66.02" y1="149.93" x2="66.02" y2="163.7" stroke="#d0d0d0" stroke-width="0.7" opacity="0.8"/>
<line x1="69.32" y1="145" x2="69.32" y2="163.7" stroke="#a8a8a8" stroke-width="0.5" opacity="0.7"/>
<path d="M70.22,144 L73.82,144 L72.02,156.85 Z" fill="url(#kbeat)" opacity="0.79"/>
<line x1="72.02" y1="149.93" x2="72.02" y2="163.7" stroke="#d0d0d0" stroke-width="0.7" opacity="0.8"/>
<line x1="75.32" y1="145" x2="75.32" y2="163.7" stroke="#a8a8a8" stroke-width="0.5" opacity="0.7"/>
<path d="M76.22,144 L79.82,144 L78.02,156.85 Z" fill="url(#kbeat)" opacity="0.8"/>
<line x1="78.02" y1="149.93" x2="78.02" y2="163.7" stroke="#d0d0d0" stroke-width="0.7" opacity="0.8"/>
<line x1="81.32" y1="145" x2="81.32" y2="163.7" stroke="#a8a8a8" stroke-width="0.5" opacity="0.7"/>
<path d="M82.22,144 L85.82,144 L84.02,156.85 Z" fill="url(#kbeat)" opacity="0.62"/>
<line x1="84.02" y1="149.93" x2="84.02" y2="163.7" stroke="#d0d0d0" stroke-width="0.7" opacity="0.8"/>
<line x1="87.32" y1="145" x2="87.32" y2="163.7" stroke="#a8a8a8" stroke-width="0.5" opacity="0.7"/>
<path d="M88.22,144 L91.82,144 L90.02,156.85 Z" fill="url(#kbeat)" opacity="0.87"/>
<line x1="90.02" y1="149.93" x2="90.02" y2="163.7" stroke="#d0d0d0" stroke-width="0.7" opacity="0.8"/>
<line x1="93.32" y1="145" x2="93.32" y2="163.7" stroke="#a8a8a8" stroke-width="0.5" opacity="0.7"/>
<path d="M88.9,144 L91.72,144 L90.31,159.62 Z" fill="url(#kbeat)" opacity="0.83"/>
<line x1="90.31" y1="149.93" x2="90.31" y2="163.7" stroke="#d0d0d0" stroke-width="0.55" opacity="0.8"/>
<path d="M92.66,144 L95.48,144 L94.07,159.62 Z" fill="url(#kbeat)" opacity="0.86"/>
<line x1="94.07" y1="149.93" x2="94.07" y2="163.7" stroke="#d0d0d0" stroke-width="0.55" opacity="0.8"/>
<path d="M96.42,144 L99.24,144 L97.83,159.62 Z" fill="url(#kbeat)" opacity="0.84"/>
<line x1="97.83" y1="149.93" x2="97.83" y2="163.7" stroke="#d0d0d0" stroke-width="0.55" opacity="0.8"/>
<path d="M100.18,144 L103,144 L101.59,159.62 Z" fill="url(#kbeat)" opacity="0.72"/>
<line x1="101.59" y1="149.93" x2="101.59" y2="163.7" stroke="#d0d0d0" stroke-width="0.55" opacity="0.8"/>
<path d="M103.94,144 L106.76,144 L105.35,159.62 Z" fill="url(#kbeat)" opacity="0.72"/>
<line x1="105.35" y1="149.93" x2="105.35" y2="163.7" stroke="#d0d0d0" stroke-width="0.55" opacity="0.8"/>
<path d="M107.7,144 L110.52,144 L109.11,159.62 Z" fill="url(#kbeat)" opacity="0.63"/>
<line x1="109.11" y1="149.93" x2="109.11" y2="163.7" stroke="#d0d0d0" stroke-width="0.55" opacity="0.8"/>
<path d="M111.46,144 L114.28,144 L112.87,159.62 Z" fill="url(#kbeat)" opacity="0.79"/>
<line x1="112.87" y1="149.93" x2="112.87" y2="163.7" stroke="#d0d0d0" stroke-width="0.55" opacity="0.8"/>
<path d="M115.22,144 L118.04,144 L116.63,159.62 Z" fill="url(#kbeat)" opacity="0.62"/>
<line x1="116.63" y1="149.93" x2="116.63" y2="163.7" stroke="#d0d0d0" stroke-width="0.55" opacity="0.8"/>
<path d="M118.98,144 L121.8,144 L120.39,159.62 Z" fill="url(#kbeat)" opacity="0.62"/>
<line x1="120.39" y1="149.93" x2="120.39" y2="163.7" stroke="#d0d0d0" stroke-width="0.55" opacity="0.8"/>
<path d="M122.74,144 L125.56,144 L124.15,159.62 Z" fill="url(#kbeat)" opacity="0.66"/>
<line x1="124.15" y1="149.93" x2="124.15" y2="163.7" stroke="#d0d0d0" stroke-width="0.55" opacity="0.8"/>
<path d="M126.5,144 L129.32,144 L127.91,159.62 Z" fill="url(#kbeat)" opacity="0.65"/>
<line x1="127.91" y1="149.93" x2="127.91" y2="163.7" stroke="#d0d0d0" stroke-width="0.55" opacity="0.8"/>
<path d="M130.26,144 L133.08,144 L131.67,159.62 Z" fill="url(#kbeat)" opacity="0.7"/>
<line x1="131.67" y1="149.93" x2="131.67" y2="163.7" stroke="#d0d0d0" stroke-width="0.55" opacity="0.8"/>
<path d="M134.02,144 L136.84,144 L135.43,159.62 Z" fill="url(#kbeat)" opacity="0.62"/>
<line x1="135.43" y1="149.93" x2="135.43" y2="163.7" stroke="#d0d0d0" stroke-width="0.55" opacity="0.8"/>
<path d="M137.78,144 L140.6,144 L139.19,159.62 Z" fill="url(#kbeat)" opacity="0.6"/>
<line x1="139.19" y1="149.93" x2="139.19" y2="163.7" stroke="#d0d0d0" stroke-width="0.55" opacity="0.8"/>
<path d="M141.54,144 L144.36,144 L142.95,159.62 Z" fill="url(#kbeat)" opacity="0.65"/>
<line x1="142.95" y1="149.93" x2="142.95" y2="163.7" stroke="#d0d0d0" stroke-width="0.55" opacity="0.8"/>
<path d="M145.3,144 L148.12,144 L146.71,159.62 Z" fill="url(#kbeat)" opacity="0.63"/>
<line x1="146.71" y1="149.93" x2="146.71" y2="163.7" stroke="#d0d0d0" stroke-width="0.55" opacity="0.8"/>
<path d="M149.06,144 L151.88,144 L150.47,159.62 Z" fill="url(#kbeat)" opacity="0.71"/>
<line x1="150.47" y1="149.93" x2="150.47" y2="163.7" stroke="#d0d0d0" stroke-width="0.55" opacity="0.8"/>
<path d="M152.82,144 L155.64,144 L154.23,159.62 Z" fill="url(#kbeat)" opacity="0.61"/>
<line x1="154.23" y1="149.93" x2="154.23" y2="163.7" stroke="#d0d0d0" stroke-width="0.55" opacity="0.8"/>
<path d="M156.58,144 L159.4,144 L157.99,159.62 Z" fill="url(#kbeat)" opacity="0.86"/>
<line x1="157.99" y1="149.93" x2="157.99" y2="163.7" stroke="#d0d0d0" stroke-width="0.55" opacity="0.8"/>
<path d="M160.34,144 L163.16,144 L161.75,159.62 Z" fill="url(#kbeat)" opacity="0.78"/>
<line x1="161.75" y1="149.93" x2="161.75" y2="163.7" stroke="#d0d0d0" stroke-width="0.55" opacity="0.8"/>
<path d="M164.1,144 L166.92,144 L165.51,159.62 Z" fill="url(#kbeat)" opacity="0.64"/>
<line x1="165.51" y1="149.93" x2="165.51" y2="163.7" stroke="#d0d0d0" stroke-width="0.55" opacity="0.8"/>
<path d="M167.86,144 L170.68,144 L169.27,159.62 Z" fill="url(#kbeat)" opacity="0.68"/>
<line x1="169.27" y1="149.93" x2="169.27" y2="163.7" stroke="#d0d0d0" stroke-width="0.55" opacity="0.8"/>
<path d="M171.62,144 L174.44,144 L173.03,159.62 Z" fill="url(#kbeat)" opacity="0.7"/>
<line x1="173.03" y1="149.93" x2="173.03" y2="163.7" stroke="#d0d0d0" stroke-width="0.55" opacity="0.8"/>
<path d="M175.38,144 L178.2,144 L176.79,159.62 Z" fill="url(#kbeat)" opacity="0.71"/>
<line x1="176.79" y1="149.93" x2="176.79" y2="163.7" stroke="#d0d0d0" stroke-width="0.55" opacity="0.8"/>
<path d="M179.14,144 L181.96,144 L180.55,159.62 Z" fill="url(#kbeat)" opacity="0.64"/>
<line x1="180.55" y1="149.93" x2="180.55" y2="163.7" stroke="#d0d0d0" stroke-width="0.55" opacity="0.8"/>
<path d="M184.05,144 L187.53,144 L185.79,156.85 Z" fill="url(#kbeat)" opacity="0.85"/>
<line x1="185.79" y1="149.93" x2="185.79" y2="163.7" stroke="#d0d0d0" stroke-width="0.7" opacity="0.8"/>
<line x1="188.98" y1="145" x2="188.98" y2="163.7" stroke="#a8a8a8" stroke-width="0.5" opacity="0.7"/>
<path d="M189.85,144 L193.33,144 L191.59,156.85 Z" fill="url(#kbeat)" opacity="0.9"/>
<line x1="191.59" y1="149.93" x2="191.59" y2="163.7" stroke="#d0d0d0" stroke-width="0.7" opacity="0.8"/>
<line x1="194.78" y1="145" x2="194.78" y2="163.7" stroke="#a8a8a8" stroke-width="0.5" opacity="0.7"/>
<path d="M195.65,144 L199.13,144 L197.39,156.85 Z" fill="url(#kbeat)" opacity="0.74"/>
<line x1="197.39" y1="149.93" x2="197.39" y2="163.7" stroke="#d0d0d0" stroke-width="0.7" opacity="0.8"/>
<line x1="200.58" y1="145" x2="200.58" y2="163.7" stroke="#a8a8a8" stroke-width="0.5" opacity="0.7"/>
<path d="M201.45,144 L204.93,144 L203.19,156.85 Z" fill="url(#kbeat)" opacity="0.75"/>
<line x1="203.19" y1="149.93" x2="203.19" y2="163.7" stroke="#d0d0d0" stroke-width="0.7" opacity="0.8"/>
<line x1="206.38" y1="145" x2="206.38" y2="163.7" stroke="#a8a8a8" stroke-width="0.5" opacity="0.7"/>
<path d="M207.25,144 L210.73,144 L208.99,156.85 Z" fill="url(#kbeat)" opacity="0.63"/>
<line x1="208.99" y1="149.93" x2="208.99" y2="163.7" stroke="#d0d0d0" stroke-width="0.7" opacity="0.8"/>
<line x1="210.6" y1="145" x2="210.6" y2="163.7" stroke="#a8a8a8" stroke-width="0.5" opacity="0.7"/>
<line x1="50" y1="143.4" x2="211" y2="143.4" stroke="#a0a0a0" stroke-width="0.8"/>
<rect x="50" y="163.7" width="161" height="7" fill="#6a6a6a"/>
<line x1="50" y1="164.3" x2="211" y2="164.3" stroke="#3a3a3a" stroke-width="1"/>
<line x1="50" y1="165.9" x2="211" y2="165.9" stroke="#9a9a9a" stroke-width="1"/>
<line x1="50" y1="167.5" x2="211" y2="167.5" stroke="#eef2f2" stroke-width="1.5"/>
<line x1="50" y1="169.2" x2="211" y2="169.2" stroke="#8a8a8a" stroke-width="1"/>
<line x1="50" y1="170.3" x2="211" y2="170.3" stroke="#f4b0b0" stroke-width="0.8"/>
<line x1="88.4" y1="143" x2="88.4" y2="163.7" stroke="#000" stroke-width="0.9"/>
<line x1="89" y1="161.2" x2="89" y2="170.7" stroke="#e81818" stroke-width="0.85" opacity="0.8"/>
<line x1="92.76" y1="161.2" x2="92.76" y2="170.7" stroke="#e81818" stroke-width="0.85" opacity="0.8"/>
<line x1="96.52" y1="161.2" x2="96.52" y2="170.7" stroke="#e81818" stroke-width="0.85" opacity="0.8"/>
<line x1="100.28" y1="161.2" x2="100.28" y2="170.7" stroke="#e81818" stroke-width="0.85" opacity="0.8"/>
<line x1="104.04" y1="161.2" x2="104.04" y2="170.7" stroke="#e81818" stroke-width="0.85" opacity="0.8"/>
<line x1="107.8" y1="161.2" x2="107.8" y2="170.7" stroke="#e81818" stroke-width="0.85" opacity="0.8"/>
<line x1="111.56" y1="161.2" x2="111.56" y2="170.7" stroke="#e81818" stroke-width="0.85" opacity="0.8"/>
<line x1="115.32" y1="161.2" x2="115.32" y2="170.7" stroke="#e81818" stroke-width="0.85" opacity="0.8"/>
<line x1="119.08" y1="161.2" x2="119.08" y2="170.7" stroke="#e81818" stroke-width="0.85" opacity="0.8"/>
<line x1="122.84" y1="161.2" x2="122.84" y2="170.7" stroke="#e81818" stroke-width="0.85" opacity="0.8"/>
<line x1="126.6" y1="161.2" x2="126.6" y2="170.7" stroke="#e81818" stroke-width="0.85" opacity="0.8"/>
<line x1="130.36" y1="161.2" x2="130.36" y2="170.7" stroke="#e81818" stroke-width="0.85" opacity="0.8"/>
<line x1="134.12" y1="161.2" x2="134.12" y2="170.7" stroke="#e81818" stroke-width="0.85" opacity="0.8"/>
<line x1="137.88" y1="161.2" x2="137.88" y2="170.7" stroke="#e81818" stroke-width="0.85" opacity="0.8"/>
<line x1="141.64" y1="161.2" x2="141.64" y2="170.7" stroke="#e81818" stroke-width="0.85" opacity="0.8"/>
<line x1="145.4" y1="161.2" x2="145.4" y2="170.7" stroke="#e81818" stroke-width="0.85" opacity="0.8"/>
<line x1="149.16" y1="161.2" x2="149.16" y2="170.7" stroke="#e81818" stroke-width="0.85" opacity="0.8"/>
<line x1="152.92" y1="161.2" x2="152.92" y2="170.7" stroke="#e81818" stroke-width="0.85" opacity="0.8"/>
<line x1="156.68" y1="161.2" x2="156.68" y2="170.7" stroke="#e81818" stroke-width="0.85" opacity="0.8"/>
<line x1="160.44" y1="161.2" x2="160.44" y2="170.7" stroke="#e81818" stroke-width="0.85" opacity="0.8"/>
<line x1="164.2" y1="161.2" x2="164.2" y2="170.7" stroke="#e81818" stroke-width="0.85" opacity="0.8"/>
<line x1="167.96" y1="161.2" x2="167.96" y2="170.7" stroke="#e81818" stroke-width="0.85" opacity="0.8"/>
<line x1="171.72" y1="161.2" x2="171.72" y2="170.7" stroke="#e81818" stroke-width="0.85" opacity="0.8"/>
<line x1="175.48" y1="161.2" x2="175.48" y2="170.7" stroke="#e81818" stroke-width="0.85" opacity="0.8"/>
<line x1="179.24" y1="161.2" x2="179.24" y2="170.7" stroke="#e81818" stroke-width="0.85" opacity="0.8"/>
<rect x="203.9" y="154.03" width="3" height="8.96" fill="#111111"/>
<rect x="204.5" y="154.63" width="1.8" height="7.76" fill="#ffffff"/>
</g>
<line x1="88.4" y1="140.5" x2="182.7" y2="140.5" stroke="#151515" stroke-width="1.15"/>
<line x1="88.4" y1="137.7" x2="88.4" y2="143.3" stroke="#151515" stroke-width="1.1"/>
<line x1="182.7" y1="137.7" x2="182.7" y2="143.3" stroke="#151515" stroke-width="1.1"/>
<path d="M89,140.5 l3.2,-2.1 M89,140.5 l3.2,2.1 M182.1,140.5 l-3.2,-2.1 M182.1,140.5 l-3.2,2.1" stroke="#151515" stroke-width="1.05" fill="none"/>
<g>
<rect x="50" y="182.4" width="161" height="25.9" fill="url(#kbody)"/>
<rect x="50" y="182.4" width="42.6" height="10.88" fill="#d8d8d8" opacity="0.35"/>
<rect x="184.1" y="182.4" width="26.9" height="10.88" fill="#d8d8d8" opacity="0.21"/>
<path d="M50.51,183.4 L53.51,183.4 L52.01,195.35 Z" fill="url(#kbeat)" opacity="0.68"/>
<line x1="52.01" y1="188.88" x2="52.01" y2="201.3" stroke="#d0d0d0" stroke-width="0.7" opacity="0.8"/>
<line x1="54.76" y1="184.4" x2="54.76" y2="201.3" stroke="#a8a8a8" stroke-width="0.5" opacity="0.7"/>
<path d="M55.51,183.4 L58.51,183.4 L57.01,195.35 Z" fill="url(#kbeat)" opacity="0.85"/>
<line x1="57.01" y1="188.88" x2="57.01" y2="201.3" stroke="#d0d0d0" stroke-width="0.7" opacity="0.8"/>
<line x1="59.76" y1="184.4" x2="59.76" y2="201.3" stroke="#a8a8a8" stroke-width="0.5" opacity="0.7"/>
<path d="M60.51,183.4 L63.51,183.4 L62.01,195.35 Z" fill="url(#kbeat)" opacity="0.65"/>
<line x1="62.01" y1="188.88" x2="62.01" y2="201.3" stroke="#d0d0d0" stroke-width="0.7" opacity="0.8"/>
<line x1="64.76" y1="184.4" x2="64.76" y2="201.3" stroke="#a8a8a8" stroke-width="0.5" opacity="0.7"/>
<path d="M65.51,183.4 L68.51,183.4 L67.01,195.35 Z" fill="url(#kbeat)" opacity="0.61"/>
<line x1="67.01" y1="188.88" x2="67.01" y2="201.3" stroke="#d0d0d0" stroke-width="0.7" opacity="0.8"/>
<line x1="69.76" y1="184.4" x2="69.76" y2="201.3" stroke="#a8a8a8" stroke-width="0.5" opacity="0.7"/>
<path d="M70.51,183.4 L73.51,183.4 L72.01,195.35 Z" fill="url(#kbeat)" opacity="0.89"/>
<line x1="72.01" y1="188.88" x2="72.01" y2="201.3" stroke="#d0d0d0" stroke-width="0.7" opacity="0.8"/>
<line x1="74.76" y1="184.4" x2="74.76" y2="201.3" stroke="#a8a8a8" stroke-width="0.5" opacity="0.7"/>
<path d="M75.51,183.4 L78.51,183.4 L77.01,195.35 Z" fill="url(#kbeat)" opacity="0.76"/>
<line x1="77.01" y1="188.88" x2="77.01" y2="201.3" stroke="#d0d0d0" stroke-width="0.7" opacity="0.8"/>
<line x1="79.76" y1="184.4" x2="79.76" y2="201.3" stroke="#a8a8a8" stroke-width="0.5" opacity="0.7"/>
<path d="M80.51,183.4 L83.51,183.4 L82.01,195.35 Z" fill="url(#kbeat)" opacity="0.64"/>
<line x1="82.01" y1="188.88" x2="82.01" y2="201.3" stroke="#d0d0d0" stroke-width="0.7" opacity="0.8"/>
<line x1="84.76" y1="184.4" x2="84.76" y2="201.3" stroke="#a8a8a8" stroke-width="0.5" opacity="0.7"/>
<path d="M85.51,183.4 L88.51,183.4 L87.01,195.35 Z" fill="url(#kbeat)" opacity="0.76"/>
<line x1="87.01" y1="188.88" x2="87.01" y2="201.3" stroke="#d0d0d0" stroke-width="0.7" opacity="0.8"/>
<line x1="89.76" y1="184.4" x2="89.76" y2="201.3" stroke="#a8a8a8" stroke-width="0.5" opacity="0.7"/>
<path d="M90.51,183.4 L93.51,183.4 L92.01,195.35 Z" fill="url(#kbeat)" opacity="0.61"/>
<line x1="92.01" y1="188.88" x2="92.01" y2="201.3" stroke="#d0d0d0" stroke-width="0.7" opacity="0.8"/>
<line x1="94.76" y1="184.4" x2="94.76" y2="201.3" stroke="#a8a8a8" stroke-width="0.5" opacity="0.7"/>
<path d="M93.1,183.4 L95.92,183.4 L94.51,197.94 Z" fill="url(#kbeat)" opacity="0.76"/>
<line x1="94.51" y1="188.88" x2="94.51" y2="201.3" stroke="#d0d0d0" stroke-width="0.55" opacity="0.8"/>
<path d="M96.86,183.4 L99.68,183.4 L98.27,197.94 Z" fill="url(#kbeat)" opacity="0.89"/>
<line x1="98.27" y1="188.88" x2="98.27" y2="201.3" stroke="#d0d0d0" stroke-width="0.55" opacity="0.8"/>
<path d="M100.62,183.4 L103.44,183.4 L102.03,197.94 Z" fill="url(#kbeat)" opacity="0.86"/>
<line x1="102.03" y1="188.88" x2="102.03" y2="201.3" stroke="#d0d0d0" stroke-width="0.55" opacity="0.8"/>
<path d="M104.38,183.4 L107.2,183.4 L105.79,197.94 Z" fill="url(#kbeat)" opacity="0.81"/>
<line x1="105.79" y1="188.88" x2="105.79" y2="201.3" stroke="#d0d0d0" stroke-width="0.55" opacity="0.8"/>
<path d="M108.14,183.4 L110.96,183.4 L109.55,197.94 Z" fill="url(#kbeat)" opacity="0.68"/>
<line x1="109.55" y1="188.88" x2="109.55" y2="201.3" stroke="#d0d0d0" stroke-width="0.55" opacity="0.8"/>
<path d="M111.9,183.4 L114.72,183.4 L113.31,197.94 Z" fill="url(#kbeat)" opacity="0.71"/>
<line x1="113.31" y1="188.88" x2="113.31" y2="201.3" stroke="#d0d0d0" stroke-width="0.55" opacity="0.8"/>
<path d="M115.66,183.4 L118.48,183.4 L117.07,197.94 Z" fill="url(#kbeat)" opacity="0.65"/>
<line x1="117.07" y1="188.88" x2="117.07" y2="201.3" stroke="#d0d0d0" stroke-width="0.55" opacity="0.8"/>
<path d="M119.42,183.4 L122.24,183.4 L120.83,197.94 Z" fill="url(#kbeat)" opacity="0.83"/>
<line x1="120.83" y1="188.88" x2="120.83" y2="201.3" stroke="#d0d0d0" stroke-width="0.55" opacity="0.8"/>
<path d="M123.18,183.4 L126,183.4 L124.59,197.94 Z" fill="url(#kbeat)" opacity="0.76"/>
<line x1="124.59" y1="188.88" x2="124.59" y2="201.3" stroke="#d0d0d0" stroke-width="0.55" opacity="0.8"/>
<path d="M126.94,183.4 L129.76,183.4 L128.35,197.94 Z" fill="url(#kbeat)" opacity="0.83"/>
<line x1="128.35" y1="188.88" x2="128.35" y2="201.3" stroke="#d0d0d0" stroke-width="0.55" opacity="0.8"/>
<path d="M130.7,183.4 L133.52,183.4 L132.11,197.94 Z" fill="url(#kbeat)" opacity="0.7"/>
<line x1="132.11" y1="188.88" x2="132.11" y2="201.3" stroke="#d0d0d0" stroke-width="0.55" opacity="0.8"/>
<path d="M134.46,183.4 L137.28,183.4 L135.87,197.94 Z" fill="url(#kbeat)" opacity="0.67"/>
<line x1="135.87" y1="188.88" x2="135.87" y2="201.3" stroke="#d0d0d0" stroke-width="0.55" opacity="0.8"/>
<path d="M138.22,183.4 L141.04,183.4 L139.63,197.94 Z" fill="url(#kbeat)" opacity="0.84"/>
<line x1="139.63" y1="188.88" x2="139.63" y2="201.3" stroke="#d0d0d0" stroke-width="0.55" opacity="0.8"/>
<path d="M141.98,183.4 L144.8,183.4 L143.39,197.94 Z" fill="url(#kbeat)" opacity="0.9"/>
<line x1="143.39" y1="188.88" x2="143.39" y2="201.3" stroke="#d0d0d0" stroke-width="0.55" opacity="0.8"/>
<path d="M145.74,183.4 L148.56,183.4 L147.15,197.94 Z" fill="url(#kbeat)" opacity="0.86"/>
<line x1="147.15" y1="188.88" x2="147.15" y2="201.3" stroke="#d0d0d0" stroke-width="0.55" opacity="0.8"/>
<path d="M149.5,183.4 L152.32,183.4 L150.91,197.94 Z" fill="url(#kbeat)" opacity="0.84"/>
<line x1="150.91" y1="188.88" x2="150.91" y2="201.3" stroke="#d0d0d0" stroke-width="0.55" opacity="0.8"/>
<path d="M153.26,183.4 L156.08,183.4 L154.67,197.94 Z" fill="url(#kbeat)" opacity="0.85"/>
<line x1="154.67" y1="188.88" x2="154.67" y2="201.3" stroke="#d0d0d0" stroke-width="0.55" opacity="0.8"/>
<path d="M157.02,183.4 L159.84,183.4 L158.43,197.94 Z" fill="url(#kbeat)" opacity="0.82"/>
<line x1="158.43" y1="188.88" x2="158.43" y2="201.3" stroke="#d0d0d0" stroke-width="0.55" opacity="0.8"/>
<path d="M160.78,183.4 L163.6,183.4 L162.19,197.94 Z" fill="url(#kbeat)" opacity="0.67"/>
<line x1="162.19" y1="188.88" x2="162.19" y2="201.3" stroke="#d0d0d0" stroke-width="0.55" opacity="0.8"/>
<path d="M164.54,183.4 L167.36,183.4 L165.95,197.94 Z" fill="url(#kbeat)" opacity="0.76"/>
<line x1="165.95" y1="188.88" x2="165.95" y2="201.3" stroke="#d0d0d0" stroke-width="0.55" opacity="0.8"/>
<path d="M168.3,183.4 L171.12,183.4 L169.71,197.94 Z" fill="url(#kbeat)" opacity="0.71"/>
<line x1="169.71" y1="188.88" x2="169.71" y2="201.3" stroke="#d0d0d0" stroke-width="0.55" opacity="0.8"/>
<path d="M172.06,183.4 L174.88,183.4 L173.47,197.94 Z" fill="url(#kbeat)" opacity="0.61"/>
<line x1="173.47" y1="188.88" x2="173.47" y2="201.3" stroke="#d0d0d0" stroke-width="0.55" opacity="0.8"/>
<path d="M175.82,183.4 L178.64,183.4 L177.23,197.94 Z" fill="url(#kbeat)" opacity="0.61"/>
<line x1="177.23" y1="188.88" x2="177.23" y2="201.3" stroke="#d0d0d0" stroke-width="0.55" opacity="0.8"/>
<path d="M179.58,183.4 L182.4,183.4 L180.99,197.94 Z" fill="url(#kbeat)" opacity="0.68"/>
<line x1="180.99" y1="188.88" x2="180.99" y2="201.3" stroke="#d0d0d0" stroke-width="0.55" opacity="0.8"/>
<path d="M183.34,183.4 L186.16,183.4 L184.75,197.94 Z" fill="url(#kbeat)" opacity="0.68"/>
<line x1="184.75" y1="188.88" x2="184.75" y2="201.3" stroke="#d0d0d0" stroke-width="0.55" opacity="0.8"/>
<path d="M185.11,183.4 L187.75,183.4 L186.43,195.35 Z" fill="url(#kbeat)" opacity="0.81"/>
<line x1="186.43" y1="188.88" x2="186.43" y2="201.3" stroke="#d0d0d0" stroke-width="0.7" opacity="0.8"/>
<line x1="188.85" y1="184.4" x2="188.85" y2="201.3" stroke="#a8a8a8" stroke-width="0.5" opacity="0.7"/>
<path d="M189.51,183.4 L192.15,183.4 L190.83,195.35 Z" fill="url(#kbeat)" opacity="0.89"/>
<line x1="190.83" y1="188.88" x2="190.83" y2="201.3" stroke="#d0d0d0" stroke-width="0.7" opacity="0.8"/>
<line x1="193.25" y1="184.4" x2="193.25" y2="201.3" stroke="#a8a8a8" stroke-width="0.5" opacity="0.7"/>
<path d="M193.91,183.4 L196.55,183.4 L195.23,195.35 Z" fill="url(#kbeat)" opacity="0.73"/>
<line x1="195.23" y1="188.88" x2="195.23" y2="201.3" stroke="#d0d0d0" stroke-width="0.7" opacity="0.8"/>
<line x1="197.65" y1="184.4" x2="197.65" y2="201.3" stroke="#a8a8a8" stroke-width="0.5" opacity="0.7"/>
<path d="M198.31,183.4 L200.95,183.4 L199.63,195.35 Z" fill="url(#kbeat)" opacity="0.88"/>
<line x1="199.63" y1="188.88" x2="199.63" y2="201.3" stroke="#d0d0d0" stroke-width="0.7" opacity="0.8"/>
<line x1="202.05" y1="184.4" x2="202.05" y2="201.3" stroke="#a8a8a8" stroke-width="0.5" opacity="0.7"/>
<path d="M202.71,183.4 L205.35,183.4 L204.03,195.35 Z" fill="url(#kbeat)" opacity="0.9"/>
<line x1="204.03" y1="188.88" x2="204.03" y2="201.3" stroke="#d0d0d0" stroke-width="0.7" opacity="0.8"/>
<line x1="206.45" y1="184.4" x2="206.45" y2="201.3" stroke="#a8a8a8" stroke-width="0.5" opacity="0.7"/>
<path d="M207.11,183.4 L209.75,183.4 L208.43,195.35 Z" fill="url(#kbeat)" opacity="0.89"/>
<line x1="208.43" y1="188.88" x2="208.43" y2="201.3" stroke="#d0d0d0" stroke-width="0.7" opacity="0.8"/>
<line x1="210.6" y1="184.4" x2="210.6" y2="201.3" stroke="#a8a8a8" stroke-width="0.5" opacity="0.7"/>
<line x1="50" y1="182.8" x2="211" y2="182.8" stroke="#a0a0a0" stroke-width="0.8"/>
<rect x="50" y="201.3" width="161" height="7" fill="#6a6a6a"/>
<line x1="50" y1="201.9" x2="211" y2="201.9" stroke="#3a3a3a" stroke-width="1"/>
<line x1="50" y1="203.5" x2="211" y2="203.5" stroke="#9a9a9a" stroke-width="1"/>
<line x1="50" y1="205.1" x2="211" y2="205.1" stroke="#eef2f2" stroke-width="1.5"/>
<line x1="50" y1="206.8" x2="211" y2="206.8" stroke="#8a8a8a" stroke-width="1"/>
<line x1="50" y1="207.9" x2="211" y2="207.9" stroke="#f4b0b0" stroke-width="0.8"/>
<line x1="92.6" y1="182.4" x2="92.6" y2="201.3" stroke="#000" stroke-width="0.9"/>
<line x1="93.2" y1="198.8" x2="93.2" y2="208.3" stroke="#e81818" stroke-width="0.85" opacity="0.8"/>
<line x1="96.96" y1="198.8" x2="96.96" y2="208.3" stroke="#e81818" stroke-width="0.85" opacity="0.8"/>
<line x1="100.72" y1="198.8" x2="100.72" y2="208.3" stroke="#e81818" stroke-width="0.85" opacity="0.8"/>
<line x1="104.48" y1="198.8" x2="104.48" y2="208.3" stroke="#e81818" stroke-width="0.85" opacity="0.8"/>
<line x1="108.24" y1="198.8" x2="108.24" y2="208.3" stroke="#e81818" stroke-width="0.85" opacity="0.8"/>
<line x1="112" y1="198.8" x2="112" y2="208.3" stroke="#e81818" stroke-width="0.85" opacity="0.8"/>
<line x1="115.76" y1="198.8" x2="115.76" y2="208.3" stroke="#e81818" stroke-width="0.85" opacity="0.8"/>
<line x1="119.52" y1="198.8" x2="119.52" y2="208.3" stroke="#e81818" stroke-width="0.85" opacity="0.8"/>
<line x1="123.28" y1="198.8" x2="123.28" y2="208.3" stroke="#e81818" stroke-width="0.85" opacity="0.8"/>
<line x1="127.04" y1="198.8" x2="127.04" y2="208.3" stroke="#e81818" stroke-width="0.85" opacity="0.8"/>
<line x1="130.8" y1="198.8" x2="130.8" y2="208.3" stroke="#e81818" stroke-width="0.85" opacity="0.8"/>
<line x1="134.56" y1="198.8" x2="134.56" y2="208.3" stroke="#e81818" stroke-width="0.85" opacity="0.8"/>
<line x1="138.32" y1="198.8" x2="138.32" y2="208.3" stroke="#e81818" stroke-width="0.85" opacity="0.8"/>
<line x1="142.08" y1="198.8" x2="142.08" y2="208.3" stroke="#e81818" stroke-width="0.85" opacity="0.8"/>
<line x1="145.84" y1="198.8" x2="145.84" y2="208.3" stroke="#e81818" stroke-width="0.85" opacity="0.8"/>
<line x1="149.6" y1="198.8" x2="149.6" y2="208.3" stroke="#e81818" stroke-width="0.85" opacity="0.8"/>
<line x1="153.36" y1="198.8" x2="153.36" y2="208.3" stroke="#e81818" stroke-width="0.85" opacity="0.8"/>
<line x1="157.12" y1="198.8" x2="157.12" y2="208.3" stroke="#e81818" stroke-width="0.85" opacity="0.8"/>
<line x1="160.88" y1="198.8" x2="160.88" y2="208.3" stroke="#e81818" stroke-width="0.85" opacity="0.8"/>
<line x1="164.64" y1="198.8" x2="164.64" y2="208.3" stroke="#e81818" stroke-width="0.85" opacity="0.8"/>
<line x1="168.4" y1="198.8" x2="168.4" y2="208.3" stroke="#e81818" stroke-width="0.85" opacity="0.8"/>
<line x1="172.16" y1="198.8" x2="172.16" y2="208.3" stroke="#e81818" stroke-width="0.85" opacity="0.8"/>
<line x1="175.92" y1="198.8" x2="175.92" y2="208.3" stroke="#e81818" stroke-width="0.85" opacity="0.8"/>
<line x1="179.68" y1="198.8" x2="179.68" y2="208.3" stroke="#e81818" stroke-width="0.85" opacity="0.8"/>
<line x1="183.44" y1="198.8" x2="183.44" y2="208.3" stroke="#e81818" stroke-width="0.85" opacity="0.8"/>
<rect x="203.9" y="192.68" width="3" height="8.45" fill="#111111"/>
<rect x="204.5" y="193.28" width="1.8" height="7.25" fill="#ffffff"/>
</g>
<line x1="92.6" y1="179.5" x2="184.1" y2="179.5" stroke="#151515" stroke-width="1.15"/>
<line x1="92.6" y1="176.7" x2="92.6" y2="182.3" stroke="#151515" stroke-width="1.1"/>
<line x1="184.1" y1="176.7" x2="184.1" y2="182.3" stroke="#151515" stroke-width="1.1"/>
<path d="M93.2,179.5 l3.2,-2.1 M93.2,179.5 l3.2,2.1 M183.5,179.5 l-3.2,-2.1 M183.5,179.5 l-3.2,2.1" stroke="#151515" stroke-width="1.05" fill="none"/>
<g>
<rect x="255.1" y="27" width="156.9" height="26.4" fill="url(#kbody)"/>
<rect x="255.1" y="27" width="41" height="11.09" fill="#d8d8d8" opacity="0.35"/>
<rect x="387.2" y="27" width="24.8" height="11.09" fill="#d8d8d8" opacity="0.21"/>
<path d="M257,28 L260.12,28 L258.56,40.2 Z" fill="url(#kbeat)" opacity="0.67"/>
<line x1="258.56" y1="33.6" x2="258.56" y2="46.4" stroke="#d0d0d0" stroke-width="0.7" opacity="0.8"/>
<line x1="261.42" y1="29" x2="261.42" y2="46.4" stroke="#a8a8a8" stroke-width="0.5" opacity="0.7"/>
<path d="M262.2,28 L265.32,28 L263.76,40.2 Z" fill="url(#kbeat)" opacity="0.66"/>
<line x1="263.76" y1="33.6" x2="263.76" y2="46.4" stroke="#d0d0d0" stroke-width="0.7" opacity="0.8"/>
<line x1="266.62" y1="29" x2="266.62" y2="46.4" stroke="#a8a8a8" stroke-width="0.5" opacity="0.7"/>
<path d="M267.4,28 L270.52,28 L268.96,40.2 Z" fill="url(#kbeat)" opacity="0.66"/>
<line x1="268.96" y1="33.6" x2="268.96" y2="46.4" stroke="#d0d0d0" stroke-width="0.7" opacity="0.8"/>
<line x1="271.82" y1="29" x2="271.82" y2="46.4" stroke="#a8a8a8" stroke-width="0.5" opacity="0.7"/>
<path d="M272.6,28 L275.72,28 L274.16,40.2 Z" fill="url(#kbeat)" opacity="0.79"/>
<line x1="274.16" y1="33.6" x2="274.16" y2="46.4" stroke="#d0d0d0" stroke-width="0.7" opacity="0.8"/>
<line x1="277.02" y1="29" x2="277.02" y2="46.4" stroke="#a8a8a8" stroke-width="0.5" opacity="0.7"/>
<path d="M277.8,28 L280.92,28 L279.36,40.2 Z" fill="url(#kbeat)" opacity="0.87"/>
<line x1="279.36" y1="33.6" x2="279.36" y2="46.4" stroke="#d0d0d0" stroke-width="0.7" opacity="0.8"/>
<line x1="282.22" y1="29" x2="282.22" y2="46.4" stroke="#a8a8a8" stroke-width="0.5" opacity="0.7"/>
<path d="M283,28 L286.12,28 L284.56,40.2 Z" fill="url(#kbeat)" opacity="0.85"/>
<line x1="284.56" y1="33.6" x2="284.56" y2="46.4" stroke="#d0d0d0" stroke-width="0.7" opacity="0.8"/>
<line x1="287.42" y1="29" x2="287.42" y2="46.4" stroke="#a8a8a8" stroke-width="0.5" opacity="0.7"/>
<path d="M288.2,28 L291.32,28 L289.76,40.2 Z" fill="url(#kbeat)" opacity="0.74"/>
<line x1="289.76" y1="33.6" x2="289.76" y2="46.4" stroke="#d0d0d0" stroke-width="0.7" opacity="0.8"/>
<line x1="292.62" y1="29" x2="292.62" y2="46.4" stroke="#a8a8a8" stroke-width="0.5" opacity="0.7"/>
<path d="M293.4,28 L296.52,28 L294.96,40.2 Z" fill="url(#kbeat)" opacity="0.8"/>
<line x1="294.96" y1="33.6" x2="294.96" y2="46.4" stroke="#d0d0d0" stroke-width="0.7" opacity="0.8"/>
<line x1="297.82" y1="29" x2="297.82" y2="46.4" stroke="#a8a8a8" stroke-width="0.5" opacity="0.7"/>
<path d="M296.6,28 L300.95,28 L298.78,42.84 Z" fill="url(#kbeat)" opacity="0.84"/>
<line x1="298.78" y1="33.6" x2="298.78" y2="46.4" stroke="#d0d0d0" stroke-width="0.55" opacity="0.8"/>
<path d="M302.4,28 L306.75,28 L304.58,42.84 Z" fill="url(#kbeat)" opacity="0.63"/>
<line x1="304.58" y1="33.6" x2="304.58" y2="46.4" stroke="#d0d0d0" stroke-width="0.55" opacity="0.8"/>
<path d="M308.2,28 L312.55,28 L310.38,42.84 Z" fill="url(#kbeat)" opacity="0.8"/>
<line x1="310.38" y1="33.6" x2="310.38" y2="46.4" stroke="#d0d0d0" stroke-width="0.55" opacity="0.8"/>
<path d="M314,28 L318.35,28 L316.18,42.84 Z" fill="url(#kbeat)" opacity="0.87"/>
<line x1="316.18" y1="33.6" x2="316.18" y2="46.4" stroke="#d0d0d0" stroke-width="0.55" opacity="0.8"/>
<path d="M319.8,28 L324.15,28 L321.98,42.84 Z" fill="url(#kbeat)" opacity="0.83"/>
<line x1="321.98" y1="33.6" x2="321.98" y2="46.4" stroke="#d0d0d0" stroke-width="0.55" opacity="0.8"/>
<path d="M325.6,28 L329.95,28 L327.78,42.84 Z" fill="url(#kbeat)" opacity="0.83"/>
<line x1="327.78" y1="33.6" x2="327.78" y2="46.4" stroke="#d0d0d0" stroke-width="0.55" opacity="0.8"/>
<path d="M331.4,28 L335.75,28 L333.58,42.84 Z" fill="url(#kbeat)" opacity="0.74"/>
<line x1="333.58" y1="33.6" x2="333.58" y2="46.4" stroke="#d0d0d0" stroke-width="0.55" opacity="0.8"/>
<path d="M337.2,28 L341.55,28 L339.38,42.84 Z" fill="url(#kbeat)" opacity="0.65"/>
<line x1="339.38" y1="33.6" x2="339.38" y2="46.4" stroke="#d0d0d0" stroke-width="0.55" opacity="0.8"/>
<path d="M343,28 L347.35,28 L345.18,42.84 Z" fill="url(#kbeat)" opacity="0.84"/>
<line x1="345.18" y1="33.6" x2="345.18" y2="46.4" stroke="#d0d0d0" stroke-width="0.55" opacity="0.8"/>
<path d="M348.8,28 L353.15,28 L350.98,42.84 Z" fill="url(#kbeat)" opacity="0.7"/>
<line x1="350.98" y1="33.6" x2="350.98" y2="46.4" stroke="#d0d0d0" stroke-width="0.55" opacity="0.8"/>
<path d="M354.6,28 L358.95,28 L356.78,42.84 Z" fill="url(#kbeat)" opacity="0.84"/>
<line x1="356.78" y1="33.6" x2="356.78" y2="46.4" stroke="#d0d0d0" stroke-width="0.55" opacity="0.8"/>
<path d="M360.4,28 L364.75,28 L362.58,42.84 Z" fill="url(#kbeat)" opacity="0.89"/>
<line x1="362.58" y1="33.6" x2="362.58" y2="46.4" stroke="#d0d0d0" stroke-width="0.55" opacity="0.8"/>
<path d="M366.2,28 L370.55,28 L368.38,42.84 Z" fill="url(#kbeat)" opacity="0.72"/>
<line x1="368.38" y1="33.6" x2="368.38" y2="46.4" stroke="#d0d0d0" stroke-width="0.55" opacity="0.8"/>
<path d="M372,28 L376.35,28 L374.18,42.84 Z" fill="url(#kbeat)" opacity="0.72"/>
<line x1="374.18" y1="33.6" x2="374.18" y2="46.4" stroke="#d0d0d0" stroke-width="0.55" opacity="0.8"/>
<path d="M377.8,28 L382.15,28 L379.98,42.84 Z" fill="url(#kbeat)" opacity="0.88"/>
<line x1="379.98" y1="33.6" x2="379.98" y2="46.4" stroke="#d0d0d0" stroke-width="0.55" opacity="0.8"/>
<path d="M383.6,28 L387.95,28 L385.78,42.84 Z" fill="url(#kbeat)" opacity="0.82"/>
<line x1="385.78" y1="33.6" x2="385.78" y2="46.4" stroke="#d0d0d0" stroke-width="0.55" opacity="0.8"/>
<path d="M388.03,28 L390.91,28 L389.47,40.2 Z" fill="url(#kbeat)" opacity="0.65"/>
<line x1="389.47" y1="33.6" x2="389.47" y2="46.4" stroke="#d0d0d0" stroke-width="0.7" opacity="0.8"/>
<line x1="392.11" y1="29" x2="392.11" y2="46.4" stroke="#a8a8a8" stroke-width="0.5" opacity="0.7"/>
<path d="M392.83,28 L395.71,28 L394.27,40.2 Z" fill="url(#kbeat)" opacity="0.64"/>
<line x1="394.27" y1="33.6" x2="394.27" y2="46.4" stroke="#d0d0d0" stroke-width="0.7" opacity="0.8"/>
<line x1="396.91" y1="29" x2="396.91" y2="46.4" stroke="#a8a8a8" stroke-width="0.5" opacity="0.7"/>
<path d="M397.63,28 L400.51,28 L399.07,40.2 Z" fill="url(#kbeat)" opacity="0.65"/>
<line x1="399.07" y1="33.6" x2="399.07" y2="46.4" stroke="#d0d0d0" stroke-width="0.7" opacity="0.8"/>
<line x1="401.71" y1="29" x2="401.71" y2="46.4" stroke="#a8a8a8" stroke-width="0.5" opacity="0.7"/>
<path d="M402.43,28 L405.31,28 L403.87,40.2 Z" fill="url(#kbeat)" opacity="0.87"/>
<line x1="403.87" y1="33.6" x2="403.87" y2="46.4" stroke="#d0d0d0" stroke-width="0.7" opacity="0.8"/>
<line x1="406.51" y1="29" x2="406.51" y2="46.4" stroke="#a8a8a8" stroke-width="0.5" opacity="0.7"/>
<path d="M407.23,28 L410.11,28 L408.67,40.2 Z" fill="url(#kbeat)" opacity="0.84"/>
<line x1="408.67" y1="33.6" x2="408.67" y2="46.4" stroke="#d0d0d0" stroke-width="0.7" opacity="0.8"/>
<line x1="411.31" y1="29" x2="411.31" y2="46.4" stroke="#a8a8a8" stroke-width="0.5" opacity="0.7"/>
<line x1="255.1" y1="27.4" x2="412" y2="27.4" stroke="#a0a0a0" stroke-width="0.8"/>
<rect x="255.1" y="46.4" width="156.9" height="7" fill="#6a6a6a"/>
<line x1="255.1" y1="47" x2="412" y2="47" stroke="#3a3a3a" stroke-width="1"/>
<line x1="255.1" y1="48.6" x2="412" y2="48.6" stroke="#9a9a9a" stroke-width="1"/>
<line x1="255.1" y1="50.2" x2="412" y2="50.2" stroke="#eef2f2" stroke-width="1.5"/>
<line x1="255.1" y1="51.9" x2="412" y2="51.9" stroke="#8a8a8a" stroke-width="1"/>
<line x1="255.1" y1="53" x2="412" y2="53" stroke="#f4b0b0" stroke-width="0.8"/>
<line x1="296.1" y1="27" x2="296.1" y2="46.4" stroke="#000" stroke-width="0.9"/>
<line x1="296.7" y1="43.9" x2="296.7" y2="53.4" stroke="#e81818" stroke-width="0.85" opacity="0.8"/>
<line x1="300.08" y1="43.9" x2="300.08" y2="53.4" stroke="#e81818" stroke-width="0.85" opacity="0.8"/>
<line x1="303.46" y1="43.9" x2="303.46" y2="53.4" stroke="#e81818" stroke-width="0.85" opacity="0.8"/>
<line x1="306.84" y1="43.9" x2="306.84" y2="53.4" stroke="#e81818" stroke-width="0.85" opacity="0.8"/>
<line x1="310.22" y1="43.9" x2="310.22" y2="53.4" stroke="#e81818" stroke-width="0.85" opacity="0.8"/>
<line x1="313.6" y1="43.9" x2="313.6" y2="53.4" stroke="#e81818" stroke-width="0.85" opacity="0.8"/>
<line x1="316.98" y1="43.9" x2="316.98" y2="53.4" stroke="#e81818" stroke-width="0.85" opacity="0.8"/>
<line x1="320.36" y1="43.9" x2="320.36" y2="53.4" stroke="#e81818" stroke-width="0.85" opacity="0.8"/>
<line x1="323.74" y1="43.9" x2="323.74" y2="53.4" stroke="#e81818" stroke-width="0.85" opacity="0.8"/>
<line x1="327.12" y1="43.9" x2="327.12" y2="53.4" stroke="#e81818" stroke-width="0.85" opacity="0.8"/>
<line x1="330.5" y1="43.9" x2="330.5" y2="53.4" stroke="#e81818" stroke-width="0.85" opacity="0.8"/>
<line x1="333.88" y1="43.9" x2="333.88" y2="53.4" stroke="#e81818" stroke-width="0.85" opacity="0.8"/>
<line x1="337.26" y1="43.9" x2="337.26" y2="53.4" stroke="#e81818" stroke-width="0.85" opacity="0.8"/>
<line x1="340.64" y1="43.9" x2="340.64" y2="53.4" stroke="#e81818" stroke-width="0.85" opacity="0.8"/>
<line x1="344.02" y1="43.9" x2="344.02" y2="53.4" stroke="#e81818" stroke-width="0.85" opacity="0.8"/>
<line x1="347.4" y1="43.9" x2="347.4" y2="53.4" stroke="#e81818" stroke-width="0.85" opacity="0.8"/>
<line x1="350.78" y1="43.9" x2="350.78" y2="53.4" stroke="#e81818" stroke-width="0.85" opacity="0.8"/>
<line x1="354.16" y1="43.9" x2="354.16" y2="53.4" stroke="#e81818" stroke-width="0.85" opacity="0.8"/>
<line x1="357.54" y1="43.9" x2="357.54" y2="53.4" stroke="#e81818" stroke-width="0.85" opacity="0.8"/>
<line x1="360.92" y1="43.9" x2="360.92" y2="53.4" stroke="#e81818" stroke-width="0.85" opacity="0.8"/>
<line x1="364.3" y1="43.9" x2="364.3" y2="53.4" stroke="#e81818" stroke-width="0.85" opacity="0.8"/>
<line x1="367.68" y1="43.9" x2="367.68" y2="53.4" stroke="#e81818" stroke-width="0.85" opacity="0.8"/>
<line x1="371.06" y1="43.9" x2="371.06" y2="53.4" stroke="#e81818" stroke-width="0.85" opacity="0.8"/>
<line x1="374.44" y1="43.9" x2="374.44" y2="53.4" stroke="#e81818" stroke-width="0.85" opacity="0.8"/>
<line x1="377.82" y1="43.9" x2="377.82" y2="53.4" stroke="#e81818" stroke-width="0.85" opacity="0.8"/>
<line x1="381.2" y1="43.9" x2="381.2" y2="53.4" stroke="#e81818" stroke-width="0.85" opacity="0.8"/>
<line x1="384.58" y1="43.9" x2="384.58" y2="53.4" stroke="#e81818" stroke-width="0.85" opacity="0.8"/>
<rect x="406.9" y="37.49" width="3" height="8.59" fill="#111111"/>
<rect x="407.5" y="38.09" width="1.8" height="7.39" fill="#ffffff"/>
</g>
<line x1="296.1" y1="23.7" x2="387.2" y2="23.7" stroke="#151515" stroke-width="1.15"/>
<line x1="296.1" y1="20.9" x2="296.1" y2="26.5" stroke="#151515" stroke-width="1.1"/>
<line x1="387.2" y1="20.9" x2="387.2" y2="26.5" stroke="#151515" stroke-width="1.1"/>
<path d="M296.7,23.7 l3.2,-2.1 M296.7,23.7 l3.2,2.1 M386.6,23.7 l-3.2,-2.1 M386.6,23.7 l-3.2,2.1" stroke="#151515" stroke-width="1.05" fill="none"/>
<g>
<rect x="254.3" y="65.2" width="158.8" height="27.6" fill="url(#kbody)"/>
<rect x="254.3" y="65.2" width="40.6" height="11.59" fill="#d8d8d8" opacity="0.8"/>
<rect x="386" y="65.2" width="27.1" height="11.59" fill="#d8d8d8" opacity="0.48"/>
<path d="M255.15,66.2 L258.63,66.2 L256.89,79 Z" fill="url(#kbeat)" opacity="0.89"/>
<line x1="256.89" y1="72.1" x2="256.89" y2="85.8" stroke="#d0d0d0" stroke-width="0.7" opacity="0.8"/>
<line x1="260.08" y1="67.2" x2="260.08" y2="85.8" stroke="#a8a8a8" stroke-width="0.5" opacity="0.7"/>
<path d="M260.95,66.2 L264.43,66.2 L262.69,79 Z" fill="url(#kbeat)" opacity="0.8"/>
<line x1="262.69" y1="72.1" x2="262.69" y2="85.8" stroke="#d0d0d0" stroke-width="0.7" opacity="0.8"/>
<line x1="265.88" y1="67.2" x2="265.88" y2="85.8" stroke="#a8a8a8" stroke-width="0.5" opacity="0.7"/>
<path d="M266.75,66.2 L270.23,66.2 L268.49,79 Z" fill="url(#kbeat)" opacity="0.71"/>
<line x1="268.49" y1="72.1" x2="268.49" y2="85.8" stroke="#d0d0d0" stroke-width="0.7" opacity="0.8"/>
<line x1="271.68" y1="67.2" x2="271.68" y2="85.8" stroke="#a8a8a8" stroke-width="0.5" opacity="0.7"/>
<path d="M272.55,66.2 L276.03,66.2 L274.29,79 Z" fill="url(#kbeat)" opacity="0.76"/>
<line x1="274.29" y1="72.1" x2="274.29" y2="85.8" stroke="#d0d0d0" stroke-width="0.7" opacity="0.8"/>
<line x1="277.48" y1="67.2" x2="277.48" y2="85.8" stroke="#a8a8a8" stroke-width="0.5" opacity="0.7"/>
<path d="M278.35,66.2 L281.83,66.2 L280.09,79 Z" fill="url(#kbeat)" opacity="0.64"/>
<line x1="280.09" y1="72.1" x2="280.09" y2="85.8" stroke="#d0d0d0" stroke-width="0.7" opacity="0.8"/>
<line x1="283.28" y1="67.2" x2="283.28" y2="85.8" stroke="#a8a8a8" stroke-width="0.5" opacity="0.7"/>
<path d="M284.15,66.2 L287.63,66.2 L285.89,79 Z" fill="url(#kbeat)" opacity="0.6"/>
<line x1="285.89" y1="72.1" x2="285.89" y2="85.8" stroke="#d0d0d0" stroke-width="0.7" opacity="0.8"/>
<line x1="289.08" y1="67.2" x2="289.08" y2="85.8" stroke="#a8a8a8" stroke-width="0.5" opacity="0.7"/>
<path d="M289.95,66.2 L293.43,66.2 L291.69,79 Z" fill="url(#kbeat)" opacity="0.89"/>
<line x1="291.69" y1="72.1" x2="291.69" y2="85.8" stroke="#d0d0d0" stroke-width="0.7" opacity="0.8"/>
<line x1="294.88" y1="67.2" x2="294.88" y2="85.8" stroke="#a8a8a8" stroke-width="0.5" opacity="0.7"/>
<path d="M295.4,66.2 L297.94,66.2 L296.67,81.76 Z" fill="url(#kbeat)" opacity="0.79"/>
<line x1="296.67" y1="72.1" x2="296.67" y2="85.8" stroke="#d0d0d0" stroke-width="0.55" opacity="0.8"/>
<path d="M298.78,66.2 L301.31,66.2 L300.05,81.76 Z" fill="url(#kbeat)" opacity="0.76"/>
<line x1="300.05" y1="72.1" x2="300.05" y2="85.8" stroke="#d0d0d0" stroke-width="0.55" opacity="0.8"/>
<path d="M302.16,66.2 L304.69,66.2 L303.43,81.76 Z" fill="url(#kbeat)" opacity="0.88"/>
<line x1="303.43" y1="72.1" x2="303.43" y2="85.8" stroke="#d0d0d0" stroke-width="0.55" opacity="0.8"/>
<path d="M305.54,66.2 L308.07,66.2 L306.81,81.76 Z" fill="url(#kbeat)" opacity="0.73"/>
<line x1="306.81" y1="72.1" x2="306.81" y2="85.8" stroke="#d0d0d0" stroke-width="0.55" opacity="0.8"/>
<path d="M308.92,66.2 L311.45,66.2 L310.19,81.76 Z" fill="url(#kbeat)" opacity="0.86"/>
<line x1="310.19" y1="72.1" x2="310.19" y2="85.8" stroke="#d0d0d0" stroke-width="0.55" opacity="0.8"/>
<path d="M312.3,66.2 L314.83,66.2 L313.57,81.76 Z" fill="url(#kbeat)" opacity="0.85"/>
<line x1="313.57" y1="72.1" x2="313.57" y2="85.8" stroke="#d0d0d0" stroke-width="0.55" opacity="0.8"/>
<path d="M315.68,66.2 L318.21,66.2 L316.95,81.76 Z" fill="url(#kbeat)" opacity="0.66"/>
<line x1="316.95" y1="72.1" x2="316.95" y2="85.8" stroke="#d0d0d0" stroke-width="0.55" opacity="0.8"/>
<path d="M319.06,66.2 L321.59,66.2 L320.33,81.76 Z" fill="url(#kbeat)" opacity="0.68"/>
<line x1="320.33" y1="72.1" x2="320.33" y2="85.8" stroke="#d0d0d0" stroke-width="0.55" opacity="0.8"/>
<path d="M322.44,66.2 L324.97,66.2 L323.71,81.76 Z" fill="url(#kbeat)" opacity="0.69"/>
<line x1="323.71" y1="72.1" x2="323.71" y2="85.8" stroke="#d0d0d0" stroke-width="0.55" opacity="0.8"/>
<path d="M325.82,66.2 L328.35,66.2 L327.09,81.76 Z" fill="url(#kbeat)" opacity="0.67"/>
<line x1="327.09" y1="72.1" x2="327.09" y2="85.8" stroke="#d0d0d0" stroke-width="0.55" opacity="0.8"/>
<path d="M329.2,66.2 L331.73,66.2 L330.47,81.76 Z" fill="url(#kbeat)" opacity="0.78"/>
<line x1="330.47" y1="72.1" x2="330.47" y2="85.8" stroke="#d0d0d0" stroke-width="0.55" opacity="0.8"/>
<path d="M332.58,66.2 L335.11,66.2 L333.85,81.76 Z" fill="url(#kbeat)" opacity="0.68"/>
<line x1="333.85" y1="72.1" x2="333.85" y2="85.8" stroke="#d0d0d0" stroke-width="0.55" opacity="0.8"/>
<path d="M335.96,66.2 L338.49,66.2 L337.23,81.76 Z" fill="url(#kbeat)" opacity="0.73"/>
<line x1="337.23" y1="72.1" x2="337.23" y2="85.8" stroke="#d0d0d0" stroke-width="0.55" opacity="0.8"/>
<path d="M339.34,66.2 L341.87,66.2 L340.61,81.76 Z" fill="url(#kbeat)" opacity="0.64"/>
<line x1="340.61" y1="72.1" x2="340.61" y2="85.8" stroke="#d0d0d0" stroke-width="0.55" opacity="0.8"/>
<path d="M342.72,66.2 L345.25,66.2 L343.99,81.76 Z" fill="url(#kbeat)" opacity="0.87"/>
<line x1="343.99" y1="72.1" x2="343.99" y2="85.8" stroke="#d0d0d0" stroke-width="0.55" opacity="0.8"/>
<path d="M346.1,66.2 L348.63,66.2 L347.37,81.76 Z" fill="url(#kbeat)" opacity="0.71"/>
<line x1="347.37" y1="72.1" x2="347.37" y2="85.8" stroke="#d0d0d0" stroke-width="0.55" opacity="0.8"/>
<path d="M349.48,66.2 L352.01,66.2 L350.75,81.76 Z" fill="url(#kbeat)" opacity="0.74"/>
<line x1="350.75" y1="72.1" x2="350.75" y2="85.8" stroke="#d0d0d0" stroke-width="0.55" opacity="0.8"/>
<path d="M352.86,66.2 L355.39,66.2 L354.13,81.76 Z" fill="url(#kbeat)" opacity="0.78"/>
<line x1="354.13" y1="72.1" x2="354.13" y2="85.8" stroke="#d0d0d0" stroke-width="0.55" opacity="0.8"/>
<path d="M356.24,66.2 L358.77,66.2 L357.51,81.76 Z" fill="url(#kbeat)" opacity="0.87"/>
<line x1="357.51" y1="72.1" x2="357.51" y2="85.8" stroke="#d0d0d0" stroke-width="0.55" opacity="0.8"/>
<path d="M359.62,66.2 L362.15,66.2 L360.89,81.76 Z" fill="url(#kbeat)" opacity="0.73"/>
<line x1="360.89" y1="72.1" x2="360.89" y2="85.8" stroke="#d0d0d0" stroke-width="0.55" opacity="0.8"/>
<path d="M363,66.2 L365.53,66.2 L364.27,81.76 Z" fill="url(#kbeat)" opacity="0.88"/>
<line x1="364.27" y1="72.1" x2="364.27" y2="85.8" stroke="#d0d0d0" stroke-width="0.55" opacity="0.8"/>
<path d="M366.38,66.2 L368.91,66.2 L367.65,81.76 Z" fill="url(#kbeat)" opacity="0.75"/>
<line x1="367.65" y1="72.1" x2="367.65" y2="85.8" stroke="#d0d0d0" stroke-width="0.55" opacity="0.8"/>
<path d="M369.76,66.2 L372.29,66.2 L371.03,81.76 Z" fill="url(#kbeat)" opacity="0.76"/>
<line x1="371.03" y1="72.1" x2="371.03" y2="85.8" stroke="#d0d0d0" stroke-width="0.55" opacity="0.8"/>
<path d="M373.14,66.2 L375.67,66.2 L374.41,81.76 Z" fill="url(#kbeat)" opacity="0.76"/>
<line x1="374.41" y1="72.1" x2="374.41" y2="85.8" stroke="#d0d0d0" stroke-width="0.55" opacity="0.8"/>
<path d="M376.52,66.2 L379.05,66.2 L377.79,81.76 Z" fill="url(#kbeat)" opacity="0.61"/>
<line x1="377.79" y1="72.1" x2="377.79" y2="85.8" stroke="#d0d0d0" stroke-width="0.55" opacity="0.8"/>
<path d="M379.9,66.2 L382.43,66.2 L381.17,81.76 Z" fill="url(#kbeat)" opacity="0.73"/>
<line x1="381.17" y1="72.1" x2="381.17" y2="85.8" stroke="#d0d0d0" stroke-width="0.55" opacity="0.8"/>
<path d="M383.28,66.2 L385.81,66.2 L384.55,81.76 Z" fill="url(#kbeat)" opacity="0.65"/>
<line x1="384.55" y1="72.1" x2="384.55" y2="85.8" stroke="#d0d0d0" stroke-width="0.55" opacity="0.8"/>
<path d="M387.74,66.2 L390.86,66.2 L389.3,79 Z" fill="url(#kbeat)" opacity="0.6"/>
<line x1="389.3" y1="72.1" x2="389.3" y2="85.8" stroke="#d0d0d0" stroke-width="0.7" opacity="0.8"/>
<line x1="392.16" y1="67.2" x2="392.16" y2="85.8" stroke="#a8a8a8" stroke-width="0.5" opacity="0.7"/>
<path d="M392.94,66.2 L396.06,66.2 L394.5,79 Z" fill="url(#kbeat)" opacity="0.84"/>
<line x1="394.5" y1="72.1" x2="394.5" y2="85.8" stroke="#d0d0d0" stroke-width="0.7" opacity="0.8"/>
<line x1="397.36" y1="67.2" x2="397.36" y2="85.8" stroke="#a8a8a8" stroke-width="0.5" opacity="0.7"/>
<path d="M398.14,66.2 L401.26,66.2 L399.7,79 Z" fill="url(#kbeat)" opacity="0.65"/>
<line x1="399.7" y1="72.1" x2="399.7" y2="85.8" stroke="#d0d0d0" stroke-width="0.7" opacity="0.8"/>
<line x1="402.56" y1="67.2" x2="402.56" y2="85.8" stroke="#a8a8a8" stroke-width="0.5" opacity="0.7"/>
<path d="M403.34,66.2 L406.46,66.2 L404.9,79 Z" fill="url(#kbeat)" opacity="0.74"/>
<line x1="404.9" y1="72.1" x2="404.9" y2="85.8" stroke="#d0d0d0" stroke-width="0.7" opacity="0.8"/>
<line x1="407.76" y1="67.2" x2="407.76" y2="85.8" stroke="#a8a8a8" stroke-width="0.5" opacity="0.7"/>
<path d="M408.54,66.2 L411.66,66.2 L410.1,79 Z" fill="url(#kbeat)" opacity="0.82"/>
<line x1="410.1" y1="72.1" x2="410.1" y2="85.8" stroke="#d0d0d0" stroke-width="0.7" opacity="0.8"/>
<line x1="412.7" y1="67.2" x2="412.7" y2="85.8" stroke="#a8a8a8" stroke-width="0.5" opacity="0.7"/>
<polyline points="255.15,79.55 259.21,82.86 260.95,79.55 265.01,82.86 266.75,79.55 270.81,82.86 272.55,79.55 276.61,82.86 278.35,79.55 282.41,82.86 284.15,79.55 288.21,82.86 289.95,79.55 294.01,82.86" fill="none" stroke="#d0d0d0" stroke-width="0.8"/>
<line x1="254.3" y1="65.6" x2="413.1" y2="65.6" stroke="#a0a0a0" stroke-width="0.8"/>
<rect x="254.3" y="85.8" width="158.8" height="7" fill="#6a6a6a"/>
<line x1="254.3" y1="86.4" x2="413.1" y2="86.4" stroke="#3a3a3a" stroke-width="1"/>
<line x1="254.3" y1="88" x2="413.1" y2="88" stroke="#9a9a9a" stroke-width="1"/>
<line x1="254.3" y1="89.6" x2="413.1" y2="89.6" stroke="#eef2f2" stroke-width="1.5"/>
<line x1="254.3" y1="91.3" x2="413.1" y2="91.3" stroke="#8a8a8a" stroke-width="1"/>
<line x1="254.3" y1="92.4" x2="413.1" y2="92.4" stroke="#f4b0b0" stroke-width="0.8"/>
<line x1="294.9" y1="65.2" x2="294.9" y2="85.8" stroke="#000" stroke-width="0.9"/>
<line x1="295.5" y1="83.3" x2="295.5" y2="92.8" stroke="#e81818" stroke-width="0.85" opacity="0.8"/>
<line x1="298.88" y1="83.3" x2="298.88" y2="92.8" stroke="#e81818" stroke-width="0.85" opacity="0.8"/>
<line x1="302.26" y1="83.3" x2="302.26" y2="92.8" stroke="#e81818" stroke-width="0.85" opacity="0.8"/>
<line x1="305.64" y1="83.3" x2="305.64" y2="92.8" stroke="#e81818" stroke-width="0.85" opacity="0.8"/>
<line x1="309.02" y1="83.3" x2="309.02" y2="92.8" stroke="#e81818" stroke-width="0.85" opacity="0.8"/>
<line x1="312.4" y1="83.3" x2="312.4" y2="92.8" stroke="#e81818" stroke-width="0.85" opacity="0.8"/>
<line x1="315.78" y1="83.3" x2="315.78" y2="92.8" stroke="#e81818" stroke-width="0.85" opacity="0.8"/>
<line x1="319.16" y1="83.3" x2="319.16" y2="92.8" stroke="#e81818" stroke-width="0.85" opacity="0.8"/>
<line x1="322.54" y1="83.3" x2="322.54" y2="92.8" stroke="#e81818" stroke-width="0.85" opacity="0.8"/>
<line x1="325.92" y1="83.3" x2="325.92" y2="92.8" stroke="#e81818" stroke-width="0.85" opacity="0.8"/>
<line x1="329.3" y1="83.3" x2="329.3" y2="92.8" stroke="#e81818" stroke-width="0.85" opacity="0.8"/>
<line x1="332.68" y1="83.3" x2="332.68" y2="92.8" stroke="#e81818" stroke-width="0.85" opacity="0.8"/>
<line x1="336.06" y1="83.3" x2="336.06" y2="92.8" stroke="#e81818" stroke-width="0.85" opacity="0.8"/>
<line x1="339.44" y1="83.3" x2="339.44" y2="92.8" stroke="#e81818" stroke-width="0.85" opacity="0.8"/>
<line x1="342.82" y1="83.3" x2="342.82" y2="92.8" stroke="#e81818" stroke-width="0.85" opacity="0.8"/>
<line x1="346.2" y1="83.3" x2="346.2" y2="92.8" stroke="#e81818" stroke-width="0.85" opacity="0.8"/>
<line x1="349.58" y1="83.3" x2="349.58" y2="92.8" stroke="#e81818" stroke-width="0.85" opacity="0.8"/>
<line x1="352.96" y1="83.3" x2="352.96" y2="92.8" stroke="#e81818" stroke-width="0.85" opacity="0.8"/>
<line x1="356.34" y1="83.3" x2="356.34" y2="92.8" stroke="#e81818" stroke-width="0.85" opacity="0.8"/>
<line x1="359.72" y1="83.3" x2="359.72" y2="92.8" stroke="#e81818" stroke-width="0.85" opacity="0.8"/>
<line x1="363.1" y1="83.3" x2="363.1" y2="92.8" stroke="#e81818" stroke-width="0.85" opacity="0.8"/>
<line x1="366.48" y1="83.3" x2="366.48" y2="92.8" stroke="#e81818" stroke-width="0.85" opacity="0.8"/>
<line x1="369.86" y1="83.3" x2="369.86" y2="92.8" stroke="#e81818" stroke-width="0.85" opacity="0.8"/>
<line x1="373.24" y1="83.3" x2="373.24" y2="92.8" stroke="#e81818" stroke-width="0.85" opacity="0.8"/>
<line x1="376.62" y1="83.3" x2="376.62" y2="92.8" stroke="#e81818" stroke-width="0.85" opacity="0.8"/>
<line x1="380" y1="83.3" x2="380" y2="92.8" stroke="#e81818" stroke-width="0.85" opacity="0.8"/>
<line x1="383.38" y1="83.3" x2="383.38" y2="92.8" stroke="#e81818" stroke-width="0.85" opacity="0.8"/>
<rect x="407.3" y="76.19" width="3" height="8.93" fill="#111111"/>
<rect x="407.9" y="76.79" width="1.8" height="7.73" fill="#ffffff"/>
</g>
<line x1="294.9" y1="62" x2="386" y2="62" stroke="#151515" stroke-width="1.15"/>
<line x1="294.9" y1="59.2" x2="294.9" y2="64.8" stroke="#151515" stroke-width="1.1"/>
<line x1="386" y1="59.2" x2="386" y2="64.8" stroke="#151515" stroke-width="1.1"/>
<path d="M295.5,62 l3.2,-2.1 M295.5,62 l3.2,2.1 M385.4,62 l-3.2,-2.1 M385.4,62 l-3.2,2.1" stroke="#151515" stroke-width="1.05" fill="none"/>
<g>
<rect x="255" y="103.8" width="158.8" height="26.4" fill="url(#kbody)"/>
<rect x="255" y="103.8" width="42" height="11.09" fill="#d8d8d8" opacity="0.3"/>
<rect x="389.5" y="103.8" width="24.3" height="11.09" fill="#d8d8d8" opacity="0.18"/>
<path d="M257.89,104.8 L261.01,104.8 L259.45,117 Z" fill="url(#kbeat)" opacity="0.76"/>
<line x1="259.45" y1="110.4" x2="259.45" y2="123.2" stroke="#d0d0d0" stroke-width="0.7" opacity="0.8"/>
<line x1="262.31" y1="105.8" x2="262.31" y2="123.2" stroke="#a8a8a8" stroke-width="0.5" opacity="0.7"/>
<path d="M263.09,104.8 L266.21,104.8 L264.65,117 Z" fill="url(#kbeat)" opacity="0.77"/>
<line x1="264.65" y1="110.4" x2="264.65" y2="123.2" stroke="#d0d0d0" stroke-width="0.7" opacity="0.8"/>
<line x1="267.51" y1="105.8" x2="267.51" y2="123.2" stroke="#a8a8a8" stroke-width="0.5" opacity="0.7"/>
<path d="M268.29,104.8 L271.41,104.8 L269.85,117 Z" fill="url(#kbeat)" opacity="0.84"/>
<line x1="269.85" y1="110.4" x2="269.85" y2="123.2" stroke="#d0d0d0" stroke-width="0.7" opacity="0.8"/>
<line x1="272.71" y1="105.8" x2="272.71" y2="123.2" stroke="#a8a8a8" stroke-width="0.5" opacity="0.7"/>
<path d="M273.49,104.8 L276.61,104.8 L275.05,117 Z" fill="url(#kbeat)" opacity="0.63"/>
<line x1="275.05" y1="110.4" x2="275.05" y2="123.2" stroke="#d0d0d0" stroke-width="0.7" opacity="0.8"/>
<line x1="277.91" y1="105.8" x2="277.91" y2="123.2" stroke="#a8a8a8" stroke-width="0.5" opacity="0.7"/>
<path d="M278.69,104.8 L281.81,104.8 L280.25,117 Z" fill="url(#kbeat)" opacity="0.77"/>
<line x1="280.25" y1="110.4" x2="280.25" y2="123.2" stroke="#d0d0d0" stroke-width="0.7" opacity="0.8"/>
<line x1="283.11" y1="105.8" x2="283.11" y2="123.2" stroke="#a8a8a8" stroke-width="0.5" opacity="0.7"/>
<path d="M283.89,104.8 L287.01,104.8 L285.45,117 Z" fill="url(#kbeat)" opacity="0.67"/>
<line x1="285.45" y1="110.4" x2="285.45" y2="123.2" stroke="#d0d0d0" stroke-width="0.7" opacity="0.8"/>
<line x1="288.31" y1="105.8" x2="288.31" y2="123.2" stroke="#a8a8a8" stroke-width="0.5" opacity="0.7"/>
<path d="M289.09,104.8 L292.21,104.8 L290.65,117 Z" fill="url(#kbeat)" opacity="0.68"/>
<line x1="290.65" y1="110.4" x2="290.65" y2="123.2" stroke="#d0d0d0" stroke-width="0.7" opacity="0.8"/>
<line x1="293.51" y1="105.8" x2="293.51" y2="123.2" stroke="#a8a8a8" stroke-width="0.5" opacity="0.7"/>
<path d="M294.29,104.8 L297.41,104.8 L295.85,117 Z" fill="url(#kbeat)" opacity="0.83"/>
<line x1="295.85" y1="110.4" x2="295.85" y2="123.2" stroke="#d0d0d0" stroke-width="0.7" opacity="0.8"/>
<line x1="298.71" y1="105.8" x2="298.71" y2="123.2" stroke="#a8a8a8" stroke-width="0.5" opacity="0.7"/>
<path d="M297.5,104.8 L300.04,104.8 L298.77,119.64 Z" fill="url(#kbeat)" opacity="0.75"/>
<line x1="298.77" y1="110.4" x2="298.77" y2="123.2" stroke="#d0d0d0" stroke-width="0.55" opacity="0.8"/>
<path d="M300.88,104.8 L303.42,104.8 L302.15,119.64 Z" fill="url(#kbeat)" opacity="0.77"/>
<line x1="302.15" y1="110.4" x2="302.15" y2="123.2" stroke="#d0d0d0" stroke-width="0.55" opacity="0.8"/>
<path d="M304.26,104.8 L306.8,104.8 L305.53,119.64 Z" fill="url(#kbeat)" opacity="0.83"/>
<line x1="305.53" y1="110.4" x2="305.53" y2="123.2" stroke="#d0d0d0" stroke-width="0.55" opacity="0.8"/>
<path d="M307.64,104.8 L310.18,104.8 L308.91,119.64 Z" fill="url(#kbeat)" opacity="0.87"/>
<line x1="308.91" y1="110.4" x2="308.91" y2="123.2" stroke="#d0d0d0" stroke-width="0.55" opacity="0.8"/>
<path d="M311.02,104.8 L313.56,104.8 L312.29,119.64 Z" fill="url(#kbeat)" opacity="0.73"/>
<line x1="312.29" y1="110.4" x2="312.29" y2="123.2" stroke="#d0d0d0" stroke-width="0.55" opacity="0.8"/>
<path d="M314.4,104.8 L316.94,104.8 L315.67,119.64 Z" fill="url(#kbeat)" opacity="0.78"/>
<line x1="315.67" y1="110.4" x2="315.67" y2="123.2" stroke="#d0d0d0" stroke-width="0.55" opacity="0.8"/>
<path d="M317.78,104.8 L320.31,104.8 L319.05,119.64 Z" fill="url(#kbeat)" opacity="0.75"/>
<line x1="319.05" y1="110.4" x2="319.05" y2="123.2" stroke="#d0d0d0" stroke-width="0.55" opacity="0.8"/>
<path d="M321.16,104.8 L323.69,104.8 L322.43,119.64 Z" fill="url(#kbeat)" opacity="0.75"/>
<line x1="322.43" y1="110.4" x2="322.43" y2="123.2" stroke="#d0d0d0" stroke-width="0.55" opacity="0.8"/>
<path d="M324.54,104.8 L327.07,104.8 L325.81,119.64 Z" fill="url(#kbeat)" opacity="0.81"/>
<line x1="325.81" y1="110.4" x2="325.81" y2="123.2" stroke="#d0d0d0" stroke-width="0.55" opacity="0.8"/>
<path d="M327.92,104.8 L330.45,104.8 L329.19,119.64 Z" fill="url(#kbeat)" opacity="0.74"/>
<line x1="329.19" y1="110.4" x2="329.19" y2="123.2" stroke="#d0d0d0" stroke-width="0.55" opacity="0.8"/>
<path d="M331.3,104.8 L333.83,104.8 L332.57,119.64 Z" fill="url(#kbeat)" opacity="0.76"/>
<line x1="332.57" y1="110.4" x2="332.57" y2="123.2" stroke="#d0d0d0" stroke-width="0.55" opacity="0.8"/>
<path d="M334.68,104.8 L337.21,104.8 L335.95,119.64 Z" fill="url(#kbeat)" opacity="0.74"/>
<line x1="335.95" y1="110.4" x2="335.95" y2="123.2" stroke="#d0d0d0" stroke-width="0.55" opacity="0.8"/>
<path d="M338.06,104.8 L340.59,104.8 L339.33,119.64 Z" fill="url(#kbeat)" opacity="0.88"/>
<line x1="339.33" y1="110.4" x2="339.33" y2="123.2" stroke="#d0d0d0" stroke-width="0.55" opacity="0.8"/>
<path d="M341.44,104.8 L343.97,104.8 L342.71,119.64 Z" fill="url(#kbeat)" opacity="0.81"/>
<line x1="342.71" y1="110.4" x2="342.71" y2="123.2" stroke="#d0d0d0" stroke-width="0.55" opacity="0.8"/>
<path d="M344.82,104.8 L347.35,104.8 L346.09,119.64 Z" fill="url(#kbeat)" opacity="0.86"/>
<line x1="346.09" y1="110.4" x2="346.09" y2="123.2" stroke="#d0d0d0" stroke-width="0.55" opacity="0.8"/>
<path d="M348.2,104.8 L350.73,104.8 L349.47,119.64 Z" fill="url(#kbeat)" opacity="0.88"/>
<line x1="349.47" y1="110.4" x2="349.47" y2="123.2" stroke="#d0d0d0" stroke-width="0.55" opacity="0.8"/>
<path d="M351.58,104.8 L354.11,104.8 L352.85,119.64 Z" fill="url(#kbeat)" opacity="0.68"/>
<line x1="352.85" y1="110.4" x2="352.85" y2="123.2" stroke="#d0d0d0" stroke-width="0.55" opacity="0.8"/>
<path d="M354.96,104.8 L357.49,104.8 L356.23,119.64 Z" fill="url(#kbeat)" opacity="0.77"/>
<line x1="356.23" y1="110.4" x2="356.23" y2="123.2" stroke="#d0d0d0" stroke-width="0.55" opacity="0.8"/>
<path d="M358.34,104.8 L360.87,104.8 L359.61,119.64 Z" fill="url(#kbeat)" opacity="0.88"/>
<line x1="359.61" y1="110.4" x2="359.61" y2="123.2" stroke="#d0d0d0" stroke-width="0.55" opacity="0.8"/>
<path d="M361.72,104.8 L364.25,104.8 L362.99,119.64 Z" fill="url(#kbeat)" opacity="0.85"/>
<line x1="362.99" y1="110.4" x2="362.99" y2="123.2" stroke="#d0d0d0" stroke-width="0.55" opacity="0.8"/>
<path d="M365.1,104.8 L367.63,104.8 L366.37,119.64 Z" fill="url(#kbeat)" opacity="0.64"/>
<line x1="366.37" y1="110.4" x2="366.37" y2="123.2" stroke="#d0d0d0" stroke-width="0.55" opacity="0.8"/>
<path d="M368.48,104.8 L371.01,104.8 L369.75,119.64 Z" fill="url(#kbeat)" opacity="0.64"/>
<line x1="369.75" y1="110.4" x2="369.75" y2="123.2" stroke="#d0d0d0" stroke-width="0.55" opacity="0.8"/>
<path d="M371.86,104.8 L374.39,104.8 L373.13,119.64 Z" fill="url(#kbeat)" opacity="0.73"/>
<line x1="373.13" y1="110.4" x2="373.13" y2="123.2" stroke="#d0d0d0" stroke-width="0.55" opacity="0.8"/>
<path d="M375.24,104.8 L377.77,104.8 L376.51,119.64 Z" fill="url(#kbeat)" opacity="0.62"/>
<line x1="376.51" y1="110.4" x2="376.51" y2="123.2" stroke="#d0d0d0" stroke-width="0.55" opacity="0.8"/>
<path d="M378.62,104.8 L381.15,104.8 L379.89,119.64 Z" fill="url(#kbeat)" opacity="0.67"/>
<line x1="379.89" y1="110.4" x2="379.89" y2="123.2" stroke="#d0d0d0" stroke-width="0.55" opacity="0.8"/>
<path d="M382,104.8 L384.53,104.8 L383.27,119.64 Z" fill="url(#kbeat)" opacity="0.62"/>
<line x1="383.27" y1="110.4" x2="383.27" y2="123.2" stroke="#d0d0d0" stroke-width="0.55" opacity="0.8"/>
<path d="M385.38,104.8 L387.91,104.8 L386.65,119.64 Z" fill="url(#kbeat)" opacity="0.8"/>
<line x1="386.65" y1="110.4" x2="386.65" y2="123.2" stroke="#d0d0d0" stroke-width="0.55" opacity="0.8"/>
<path d="M388.76,104.8 L391.29,104.8 L390.03,119.64 Z" fill="url(#kbeat)" opacity="0.84"/>
<line x1="390.03" y1="110.4" x2="390.03" y2="123.2" stroke="#d0d0d0" stroke-width="0.55" opacity="0.8"/>
<path d="M390.49,104.8 L394.39,104.8 L392.44,117 Z" fill="url(#kbeat)" opacity="0.87"/>
<line x1="392.44" y1="110.4" x2="392.44" y2="123.2" stroke="#d0d0d0" stroke-width="0.7" opacity="0.8"/>
<line x1="396.01" y1="105.8" x2="396.01" y2="123.2" stroke="#a8a8a8" stroke-width="0.5" opacity="0.7"/>
<path d="M396.99,104.8 L400.89,104.8 L398.94,117 Z" fill="url(#kbeat)" opacity="0.65"/>
<line x1="398.94" y1="110.4" x2="398.94" y2="123.2" stroke="#d0d0d0" stroke-width="0.7" opacity="0.8"/>
<line x1="402.51" y1="105.8" x2="402.51" y2="123.2" stroke="#a8a8a8" stroke-width="0.5" opacity="0.7"/>
<path d="M403.49,104.8 L407.39,104.8 L405.44,117 Z" fill="url(#kbeat)" opacity="0.81"/>
<line x1="405.44" y1="110.4" x2="405.44" y2="123.2" stroke="#d0d0d0" stroke-width="0.7" opacity="0.8"/>
<line x1="409.01" y1="105.8" x2="409.01" y2="123.2" stroke="#a8a8a8" stroke-width="0.5" opacity="0.7"/>
<path d="M409.99,104.8 L413.8,104.8 L411.94,117 Z" fill="url(#kbeat)" opacity="0.8"/>
<line x1="411.94" y1="110.4" x2="411.94" y2="123.2" stroke="#d0d0d0" stroke-width="0.7" opacity="0.8"/>
<line x1="413.4" y1="105.8" x2="413.4" y2="123.2" stroke="#a8a8a8" stroke-width="0.5" opacity="0.7"/>
<line x1="255" y1="104.2" x2="413.8" y2="104.2" stroke="#a0a0a0" stroke-width="0.8"/>
<rect x="255" y="123.2" width="158.8" height="7" fill="#6a6a6a"/>
<line x1="255" y1="123.8" x2="413.8" y2="123.8" stroke="#3a3a3a" stroke-width="1"/>
<line x1="255" y1="125.4" x2="413.8" y2="125.4" stroke="#9a9a9a" stroke-width="1"/>
<line x1="255" y1="127" x2="413.8" y2="127" stroke="#eef2f2" stroke-width="1.5"/>
<line x1="255" y1="128.7" x2="413.8" y2="128.7" stroke="#8a8a8a" stroke-width="1"/>
<line x1="255" y1="129.8" x2="413.8" y2="129.8" stroke="#f4b0b0" stroke-width="0.8"/>
<line x1="297" y1="103.8" x2="297" y2="123.2" stroke="#000" stroke-width="0.9"/>
<line x1="297.6" y1="120.7" x2="297.6" y2="130.2" stroke="#e81818" stroke-width="0.85" opacity="0.8"/>
<line x1="300.98" y1="120.7" x2="300.98" y2="130.2" stroke="#e81818" stroke-width="0.85" opacity="0.8"/>
<line x1="304.36" y1="120.7" x2="304.36" y2="130.2" stroke="#e81818" stroke-width="0.85" opacity="0.8"/>
<line x1="307.74" y1="120.7" x2="307.74" y2="130.2" stroke="#e81818" stroke-width="0.85" opacity="0.8"/>
<line x1="311.12" y1="120.7" x2="311.12" y2="130.2" stroke="#e81818" stroke-width="0.85" opacity="0.8"/>
<line x1="314.5" y1="120.7" x2="314.5" y2="130.2" stroke="#e81818" stroke-width="0.85" opacity="0.8"/>
<line x1="317.88" y1="120.7" x2="317.88" y2="130.2" stroke="#e81818" stroke-width="0.85" opacity="0.8"/>
<line x1="321.26" y1="120.7" x2="321.26" y2="130.2" stroke="#e81818" stroke-width="0.85" opacity="0.8"/>
<line x1="324.64" y1="120.7" x2="324.64" y2="130.2" stroke="#e81818" stroke-width="0.85" opacity="0.8"/>
<line x1="328.02" y1="120.7" x2="328.02" y2="130.2" stroke="#e81818" stroke-width="0.85" opacity="0.8"/>
<line x1="331.4" y1="120.7" x2="331.4" y2="130.2" stroke="#e81818" stroke-width="0.85" opacity="0.8"/>
<line x1="334.78" y1="120.7" x2="334.78" y2="130.2" stroke="#e81818" stroke-width="0.85" opacity="0.8"/>
<line x1="338.16" y1="120.7" x2="338.16" y2="130.2" stroke="#e81818" stroke-width="0.85" opacity="0.8"/>
<line x1="341.54" y1="120.7" x2="341.54" y2="130.2" stroke="#e81818" stroke-width="0.85" opacity="0.8"/>
<line x1="344.92" y1="120.7" x2="344.92" y2="130.2" stroke="#e81818" stroke-width="0.85" opacity="0.8"/>
<line x1="348.3" y1="120.7" x2="348.3" y2="130.2" stroke="#e81818" stroke-width="0.85" opacity="0.8"/>
<line x1="351.68" y1="120.7" x2="351.68" y2="130.2" stroke="#e81818" stroke-width="0.85" opacity="0.8"/>
<line x1="355.06" y1="120.7" x2="355.06" y2="130.2" stroke="#e81818" stroke-width="0.85" opacity="0.8"/>
<line x1="358.44" y1="120.7" x2="358.44" y2="130.2" stroke="#e81818" stroke-width="0.85" opacity="0.8"/>
<line x1="361.82" y1="120.7" x2="361.82" y2="130.2" stroke="#e81818" stroke-width="0.85" opacity="0.8"/>
<line x1="365.2" y1="120.7" x2="365.2" y2="130.2" stroke="#e81818" stroke-width="0.85" opacity="0.8"/>
<line x1="368.58" y1="120.7" x2="368.58" y2="130.2" stroke="#e81818" stroke-width="0.85" opacity="0.8"/>
<line x1="371.96" y1="120.7" x2="371.96" y2="130.2" stroke="#e81818" stroke-width="0.85" opacity="0.8"/>
<line x1="375.34" y1="120.7" x2="375.34" y2="130.2" stroke="#e81818" stroke-width="0.85" opacity="0.8"/>
<line x1="378.72" y1="120.7" x2="378.72" y2="130.2" stroke="#e81818" stroke-width="0.85" opacity="0.8"/>
<line x1="382.1" y1="120.7" x2="382.1" y2="130.2" stroke="#e81818" stroke-width="0.85" opacity="0.8"/>
<line x1="385.48" y1="120.7" x2="385.48" y2="130.2" stroke="#e81818" stroke-width="0.85" opacity="0.8"/>
<line x1="388.86" y1="120.7" x2="388.86" y2="130.2" stroke="#e81818" stroke-width="0.85" opacity="0.8"/>
<rect x="409.1" y="114.29" width="3" height="8.59" fill="#111111"/>
<rect x="409.7" y="114.89" width="1.8" height="7.39" fill="#ffffff"/>
</g>
<line x1="297" y1="101" x2="389.5" y2="101" stroke="#151515" stroke-width="1.15"/>
<line x1="297" y1="98.2" x2="297" y2="103.8" stroke="#151515" stroke-width="1.1"/>
<line x1="389.5" y1="98.2" x2="389.5" y2="103.8" stroke="#151515" stroke-width="1.1"/>
<path d="M297.6,101 l3.2,-2.1 M297.6,101 l3.2,2.1 M388.9,101 l-3.2,-2.1 M388.9,101 l-3.2,2.1" stroke="#151515" stroke-width="1.05" fill="none"/>
<g>
<rect x="254.3" y="143" width="159.3" height="26.4" fill="url(#kbody)"/>
<rect x="254.3" y="143" width="38.8" height="11.09" fill="#d8d8d8" opacity="0.4"/>
<rect x="384.8" y="143" width="28.8" height="11.09" fill="#d8d8d8" opacity="0.24"/>
<path d="M255.1,144 L258.46,144 L256.78,156.2 Z" fill="url(#kbeat)" opacity="0.89"/>
<line x1="256.78" y1="149.6" x2="256.78" y2="162.4" stroke="#d0d0d0" stroke-width="0.7" opacity="0.8"/>
<line x1="259.86" y1="145" x2="259.86" y2="162.4" stroke="#a8a8a8" stroke-width="0.5" opacity="0.7"/>
<path d="M260.7,144 L264.06,144 L262.38,156.2 Z" fill="url(#kbeat)" opacity="0.67"/>
<line x1="262.38" y1="149.6" x2="262.38" y2="162.4" stroke="#d0d0d0" stroke-width="0.7" opacity="0.8"/>
<line x1="265.46" y1="145" x2="265.46" y2="162.4" stroke="#a8a8a8" stroke-width="0.5" opacity="0.7"/>
<path d="M266.3,144 L269.66,144 L267.98,156.2 Z" fill="url(#kbeat)" opacity="0.89"/>
<line x1="267.98" y1="149.6" x2="267.98" y2="162.4" stroke="#d0d0d0" stroke-width="0.7" opacity="0.8"/>
<line x1="271.06" y1="145" x2="271.06" y2="162.4" stroke="#a8a8a8" stroke-width="0.5" opacity="0.7"/>
<path d="M271.9,144 L275.26,144 L273.58,156.2 Z" fill="url(#kbeat)" opacity="0.72"/>
<line x1="273.58" y1="149.6" x2="273.58" y2="162.4" stroke="#d0d0d0" stroke-width="0.7" opacity="0.8"/>
<line x1="276.66" y1="145" x2="276.66" y2="162.4" stroke="#a8a8a8" stroke-width="0.5" opacity="0.7"/>
<path d="M277.5,144 L280.86,144 L279.18,156.2 Z" fill="url(#kbeat)" opacity="0.75"/>
<line x1="279.18" y1="149.6" x2="279.18" y2="162.4" stroke="#d0d0d0" stroke-width="0.7" opacity="0.8"/>
<line x1="282.26" y1="145" x2="282.26" y2="162.4" stroke="#a8a8a8" stroke-width="0.5" opacity="0.7"/>
<path d="M283.1,144 L286.46,144 L284.78,156.2 Z" fill="url(#kbeat)" opacity="0.9"/>
<line x1="284.78" y1="149.6" x2="284.78" y2="162.4" stroke="#d0d0d0" stroke-width="0.7" opacity="0.8"/>
<line x1="287.86" y1="145" x2="287.86" y2="162.4" stroke="#a8a8a8" stroke-width="0.5" opacity="0.7"/>
<path d="M288.7,144 L292.06,144 L290.38,156.2 Z" fill="url(#kbeat)" opacity="0.85"/>
<line x1="290.38" y1="149.6" x2="290.38" y2="162.4" stroke="#d0d0d0" stroke-width="0.7" opacity="0.8"/>
<line x1="293.46" y1="145" x2="293.46" y2="162.4" stroke="#a8a8a8" stroke-width="0.5" opacity="0.7"/>
<path d="M293.6,144 L296.14,144 L294.87,158.84 Z" fill="url(#kbeat)" opacity="0.65"/>
<line x1="294.87" y1="149.6" x2="294.87" y2="162.4" stroke="#d0d0d0" stroke-width="0.55" opacity="0.8"/>
<path d="M296.98,144 L299.52,144 L298.25,158.84 Z" fill="url(#kbeat)" opacity="0.73"/>
<line x1="298.25" y1="149.6" x2="298.25" y2="162.4" stroke="#d0d0d0" stroke-width="0.55" opacity="0.8"/>
<path d="M300.36,144 L302.9,144 L301.63,158.84 Z" fill="url(#kbeat)" opacity="0.75"/>
<line x1="301.63" y1="149.6" x2="301.63" y2="162.4" stroke="#d0d0d0" stroke-width="0.55" opacity="0.8"/>
<path d="M303.74,144 L306.28,144 L305.01,158.84 Z" fill="url(#kbeat)" opacity="0.7"/>
<line x1="305.01" y1="149.6" x2="305.01" y2="162.4" stroke="#d0d0d0" stroke-width="0.55" opacity="0.8"/>
<path d="M307.12,144 L309.66,144 L308.39,158.84 Z" fill="url(#kbeat)" opacity="0.66"/>
<line x1="308.39" y1="149.6" x2="308.39" y2="162.4" stroke="#d0d0d0" stroke-width="0.55" opacity="0.8"/>
<path d="M310.5,144 L313.04,144 L311.77,158.84 Z" fill="url(#kbeat)" opacity="0.7"/>
<line x1="311.77" y1="149.6" x2="311.77" y2="162.4" stroke="#d0d0d0" stroke-width="0.55" opacity="0.8"/>
<path d="M313.88,144 L316.42,144 L315.15,158.84 Z" fill="url(#kbeat)" opacity="0.82"/>
<line x1="315.15" y1="149.6" x2="315.15" y2="162.4" stroke="#d0d0d0" stroke-width="0.55" opacity="0.8"/>
<path d="M317.26,144 L319.8,144 L318.53,158.84 Z" fill="url(#kbeat)" opacity="0.61"/>
<line x1="318.53" y1="149.6" x2="318.53" y2="162.4" stroke="#d0d0d0" stroke-width="0.55" opacity="0.8"/>
<path d="M320.64,144 L323.18,144 L321.91,158.84 Z" fill="url(#kbeat)" opacity="0.77"/>
<line x1="321.91" y1="149.6" x2="321.91" y2="162.4" stroke="#d0d0d0" stroke-width="0.55" opacity="0.8"/>
<path d="M324.02,144 L326.56,144 L325.29,158.84 Z" fill="url(#kbeat)" opacity="0.73"/>
<line x1="325.29" y1="149.6" x2="325.29" y2="162.4" stroke="#d0d0d0" stroke-width="0.55" opacity="0.8"/>
<path d="M327.4,144 L329.94,144 L328.67,158.84 Z" fill="url(#kbeat)" opacity="0.61"/>
<line x1="328.67" y1="149.6" x2="328.67" y2="162.4" stroke="#d0d0d0" stroke-width="0.55" opacity="0.8"/>
<path d="M330.78,144 L333.31,144 L332.05,158.84 Z" fill="url(#kbeat)" opacity="0.7"/>
<line x1="332.05" y1="149.6" x2="332.05" y2="162.4" stroke="#d0d0d0" stroke-width="0.55" opacity="0.8"/>
<path d="M334.16,144 L336.69,144 L335.43,158.84 Z" fill="url(#kbeat)" opacity="0.79"/>
<line x1="335.43" y1="149.6" x2="335.43" y2="162.4" stroke="#d0d0d0" stroke-width="0.55" opacity="0.8"/>
<path d="M337.54,144 L340.07,144 L338.81,158.84 Z" fill="url(#kbeat)" opacity="0.75"/>
<line x1="338.81" y1="149.6" x2="338.81" y2="162.4" stroke="#d0d0d0" stroke-width="0.55" opacity="0.8"/>
<path d="M340.92,144 L343.45,144 L342.19,158.84 Z" fill="url(#kbeat)" opacity="0.62"/>
<line x1="342.19" y1="149.6" x2="342.19" y2="162.4" stroke="#d0d0d0" stroke-width="0.55" opacity="0.8"/>
<path d="M344.3,144 L346.83,144 L345.57,158.84 Z" fill="url(#kbeat)" opacity="0.9"/>
<line x1="345.57" y1="149.6" x2="345.57" y2="162.4" stroke="#d0d0d0" stroke-width="0.55" opacity="0.8"/>
<path d="M347.68,144 L350.21,144 L348.95,158.84 Z" fill="url(#kbeat)" opacity="0.84"/>
<line x1="348.95" y1="149.6" x2="348.95" y2="162.4" stroke="#d0d0d0" stroke-width="0.55" opacity="0.8"/>
<path d="M351.06,144 L353.59,144 L352.33,158.84 Z" fill="url(#kbeat)" opacity="0.89"/>
<line x1="352.33" y1="149.6" x2="352.33" y2="162.4" stroke="#d0d0d0" stroke-width="0.55" opacity="0.8"/>
<path d="M354.44,144 L356.97,144 L355.71,158.84 Z" fill="url(#kbeat)" opacity="0.63"/>
<line x1="355.71" y1="149.6" x2="355.71" y2="162.4" stroke="#d0d0d0" stroke-width="0.55" opacity="0.8"/>
<path d="M357.82,144 L360.35,144 L359.09,158.84 Z" fill="url(#kbeat)" opacity="0.68"/>
<line x1="359.09" y1="149.6" x2="359.09" y2="162.4" stroke="#d0d0d0" stroke-width="0.55" opacity="0.8"/>
<path d="M361.2,144 L363.73,144 L362.47,158.84 Z" fill="url(#kbeat)" opacity="0.61"/>
<line x1="362.47" y1="149.6" x2="362.47" y2="162.4" stroke="#d0d0d0" stroke-width="0.55" opacity="0.8"/>
<path d="M364.58,144 L367.11,144 L365.85,158.84 Z" fill="url(#kbeat)" opacity="0.83"/>
<line x1="365.85" y1="149.6" x2="365.85" y2="162.4" stroke="#d0d0d0" stroke-width="0.55" opacity="0.8"/>
<path d="M367.96,144 L370.49,144 L369.23,158.84 Z" fill="url(#kbeat)" opacity="0.68"/>
<line x1="369.23" y1="149.6" x2="369.23" y2="162.4" stroke="#d0d0d0" stroke-width="0.55" opacity="0.8"/>
<path d="M371.34,144 L373.87,144 L372.61,158.84 Z" fill="url(#kbeat)" opacity="0.64"/>
<line x1="372.61" y1="149.6" x2="372.61" y2="162.4" stroke="#d0d0d0" stroke-width="0.55" opacity="0.8"/>
<path d="M374.72,144 L377.25,144 L375.99,158.84 Z" fill="url(#kbeat)" opacity="0.73"/>
<line x1="375.99" y1="149.6" x2="375.99" y2="162.4" stroke="#d0d0d0" stroke-width="0.55" opacity="0.8"/>
<path d="M378.1,144 L380.63,144 L379.37,158.84 Z" fill="url(#kbeat)" opacity="0.87"/>
<line x1="379.37" y1="149.6" x2="379.37" y2="162.4" stroke="#d0d0d0" stroke-width="0.55" opacity="0.8"/>
<path d="M381.48,144 L384.01,144 L382.75,158.84 Z" fill="url(#kbeat)" opacity="0.85"/>
<line x1="382.75" y1="149.6" x2="382.75" y2="162.4" stroke="#d0d0d0" stroke-width="0.55" opacity="0.8"/>
<path d="M386.62,144 L388.66,144 L387.64,156.2 Z" fill="url(#kbeat)" opacity="0.68"/>
<line x1="387.64" y1="149.6" x2="387.64" y2="162.4" stroke="#d0d0d0" stroke-width="0.7" opacity="0.8"/>
<line x1="389.51" y1="145" x2="389.51" y2="162.4" stroke="#a8a8a8" stroke-width="0.5" opacity="0.7"/>
<path d="M390.02,144 L392.06,144 L391.04,156.2 Z" fill="url(#kbeat)" opacity="0.64"/>
<line x1="391.04" y1="149.6" x2="391.04" y2="162.4" stroke="#d0d0d0" stroke-width="0.7" opacity="0.8"/>
<line x1="392.91" y1="145" x2="392.91" y2="162.4" stroke="#a8a8a8" stroke-width="0.5" opacity="0.7"/>
<path d="M393.42,144 L395.46,144 L394.44,156.2 Z" fill="url(#kbeat)" opacity="0.88"/>
<line x1="394.44" y1="149.6" x2="394.44" y2="162.4" stroke="#d0d0d0" stroke-width="0.7" opacity="0.8"/>
<line x1="396.31" y1="145" x2="396.31" y2="162.4" stroke="#a8a8a8" stroke-width="0.5" opacity="0.7"/>
<path d="M396.82,144 L398.86,144 L397.84,156.2 Z" fill="url(#kbeat)" opacity="0.77"/>
<line x1="397.84" y1="149.6" x2="397.84" y2="162.4" stroke="#d0d0d0" stroke-width="0.7" opacity="0.8"/>
<line x1="399.71" y1="145" x2="399.71" y2="162.4" stroke="#a8a8a8" stroke-width="0.5" opacity="0.7"/>
<path d="M400.22,144 L402.26,144 L401.24,156.2 Z" fill="url(#kbeat)" opacity="0.81"/>
<line x1="401.24" y1="149.6" x2="401.24" y2="162.4" stroke="#d0d0d0" stroke-width="0.7" opacity="0.8"/>
<line x1="403.11" y1="145" x2="403.11" y2="162.4" stroke="#a8a8a8" stroke-width="0.5" opacity="0.7"/>
<path d="M403.62,144 L405.66,144 L404.64,156.2 Z" fill="url(#kbeat)" opacity="0.63"/>
<line x1="404.64" y1="149.6" x2="404.64" y2="162.4" stroke="#d0d0d0" stroke-width="0.7" opacity="0.8"/>
<line x1="406.51" y1="145" x2="406.51" y2="162.4" stroke="#a8a8a8" stroke-width="0.5" opacity="0.7"/>
<path d="M407.02,144 L409.06,144 L408.04,156.2 Z" fill="url(#kbeat)" opacity="0.62"/>
<line x1="408.04" y1="149.6" x2="408.04" y2="162.4" stroke="#d0d0d0" stroke-width="0.7" opacity="0.8"/>
<line x1="409.91" y1="145" x2="409.91" y2="162.4" stroke="#a8a8a8" stroke-width="0.5" opacity="0.7"/>
<path d="M410.42,144 L412.46,144 L411.44,156.2 Z" fill="url(#kbeat)" opacity="0.81"/>
<line x1="411.44" y1="149.6" x2="411.44" y2="162.4" stroke="#d0d0d0" stroke-width="0.7" opacity="0.8"/>
<line x1="413.2" y1="145" x2="413.2" y2="162.4" stroke="#a8a8a8" stroke-width="0.5" opacity="0.7"/>
<line x1="254.3" y1="143.4" x2="413.6" y2="143.4" stroke="#a0a0a0" stroke-width="0.8"/>
<rect x="254.3" y="162.4" width="159.3" height="7" fill="#6a6a6a"/>
<line x1="254.3" y1="163" x2="413.6" y2="163" stroke="#3a3a3a" stroke-width="1"/>
<line x1="254.3" y1="164.6" x2="413.6" y2="164.6" stroke="#9a9a9a" stroke-width="1"/>
<line x1="254.3" y1="166.2" x2="413.6" y2="166.2" stroke="#eef2f2" stroke-width="1.5"/>
<line x1="254.3" y1="167.9" x2="413.6" y2="167.9" stroke="#8a8a8a" stroke-width="1"/>
<line x1="254.3" y1="169" x2="413.6" y2="169" stroke="#f4b0b0" stroke-width="0.8"/>
<line x1="293.1" y1="143" x2="293.1" y2="162.4" stroke="#000" stroke-width="0.9"/>
<line x1="293.7" y1="159.9" x2="293.7" y2="169.4" stroke="#e81818" stroke-width="0.85" opacity="0.8"/>
<line x1="297.08" y1="159.9" x2="297.08" y2="169.4" stroke="#e81818" stroke-width="0.85" opacity="0.8"/>
<line x1="300.46" y1="159.9" x2="300.46" y2="169.4" stroke="#e81818" stroke-width="0.85" opacity="0.8"/>
<line x1="303.84" y1="159.9" x2="303.84" y2="169.4" stroke="#e81818" stroke-width="0.85" opacity="0.8"/>
<line x1="307.22" y1="159.9" x2="307.22" y2="169.4" stroke="#e81818" stroke-width="0.85" opacity="0.8"/>
<line x1="310.6" y1="159.9" x2="310.6" y2="169.4" stroke="#e81818" stroke-width="0.85" opacity="0.8"/>
<line x1="313.98" y1="159.9" x2="313.98" y2="169.4" stroke="#e81818" stroke-width="0.85" opacity="0.8"/>
<line x1="317.36" y1="159.9" x2="317.36" y2="169.4" stroke="#e81818" stroke-width="0.85" opacity="0.8"/>
<line x1="320.74" y1="159.9" x2="320.74" y2="169.4" stroke="#e81818" stroke-width="0.85" opacity="0.8"/>
<line x1="324.12" y1="159.9" x2="324.12" y2="169.4" stroke="#e81818" stroke-width="0.85" opacity="0.8"/>
<line x1="327.5" y1="159.9" x2="327.5" y2="169.4" stroke="#e81818" stroke-width="0.85" opacity="0.8"/>
<line x1="330.88" y1="159.9" x2="330.88" y2="169.4" stroke="#e81818" stroke-width="0.85" opacity="0.8"/>
<line x1="334.26" y1="159.9" x2="334.26" y2="169.4" stroke="#e81818" stroke-width="0.85" opacity="0.8"/>
<line x1="337.64" y1="159.9" x2="337.64" y2="169.4" stroke="#e81818" stroke-width="0.85" opacity="0.8"/>
<line x1="341.02" y1="159.9" x2="341.02" y2="169.4" stroke="#e81818" stroke-width="0.85" opacity="0.8"/>
<line x1="344.4" y1="159.9" x2="344.4" y2="169.4" stroke="#e81818" stroke-width="0.85" opacity="0.8"/>
<line x1="347.78" y1="159.9" x2="347.78" y2="169.4" stroke="#e81818" stroke-width="0.85" opacity="0.8"/>
<line x1="351.16" y1="159.9" x2="351.16" y2="169.4" stroke="#e81818" stroke-width="0.85" opacity="0.8"/>
<line x1="354.54" y1="159.9" x2="354.54" y2="169.4" stroke="#e81818" stroke-width="0.85" opacity="0.8"/>
<line x1="357.92" y1="159.9" x2="357.92" y2="169.4" stroke="#e81818" stroke-width="0.85" opacity="0.8"/>
<line x1="361.3" y1="159.9" x2="361.3" y2="169.4" stroke="#e81818" stroke-width="0.85" opacity="0.8"/>
<line x1="364.68" y1="159.9" x2="364.68" y2="169.4" stroke="#e81818" stroke-width="0.85" opacity="0.8"/>
<line x1="368.06" y1="159.9" x2="368.06" y2="169.4" stroke="#e81818" stroke-width="0.85" opacity="0.8"/>
<line x1="371.44" y1="159.9" x2="371.44" y2="169.4" stroke="#e81818" stroke-width="0.85" opacity="0.8"/>
<line x1="374.82" y1="159.9" x2="374.82" y2="169.4" stroke="#e81818" stroke-width="0.85" opacity="0.8"/>
<line x1="378.2" y1="159.9" x2="378.2" y2="169.4" stroke="#e81818" stroke-width="0.85" opacity="0.8"/>
<line x1="381.58" y1="159.9" x2="381.58" y2="169.4" stroke="#e81818" stroke-width="0.85" opacity="0.8"/>
<rect x="408.4" y="153.49" width="3" height="8.59" fill="#111111"/>
<rect x="409" y="154.09" width="1.8" height="7.39" fill="#ffffff"/>
</g>
<line x1="293.1" y1="140.8" x2="384.8" y2="140.8" stroke="#151515" stroke-width="1.15"/>
<line x1="293.1" y1="138" x2="293.1" y2="143.6" stroke="#151515" stroke-width="1.1"/>
<line x1="384.8" y1="138" x2="384.8" y2="143.6" stroke="#151515" stroke-width="1.1"/>
<path d="M293.7,140.8 l3.2,-2.1 M293.7,140.8 l3.2,2.1 M384.2,140.8 l-3.2,-2.1 M384.2,140.8 l-3.2,2.1" stroke="#151515" stroke-width="1.05" fill="none"/>
<g>
<rect x="255.4" y="182" width="159.3" height="24.4" fill="url(#kbody)"/>
<rect x="255.4" y="182" width="38.9" height="10.25" fill="#d8d8d8" opacity="0.3"/>
<rect x="385.3" y="182" width="29.4" height="10.25" fill="#d8d8d8" opacity="0.18"/>
<path d="M257.36,183 L260.12,183 L258.74,194.2 Z" fill="url(#kbeat)" opacity="0.88"/>
<line x1="258.74" y1="188.1" x2="258.74" y2="199.4" stroke="#d0d0d0" stroke-width="0.7" opacity="0.8"/>
<line x1="261.27" y1="184" x2="261.27" y2="199.4" stroke="#a8a8a8" stroke-width="0.5" opacity="0.7"/>
<path d="M261.96,183 L264.72,183 L263.34,194.2 Z" fill="url(#kbeat)" opacity="0.79"/>
<line x1="263.34" y1="188.1" x2="263.34" y2="199.4" stroke="#d0d0d0" stroke-width="0.7" opacity="0.8"/>
<line x1="265.87" y1="184" x2="265.87" y2="199.4" stroke="#a8a8a8" stroke-width="0.5" opacity="0.7"/>
<path d="M266.56,183 L269.32,183 L267.94,194.2 Z" fill="url(#kbeat)" opacity="0.84"/>
<line x1="267.94" y1="188.1" x2="267.94" y2="199.4" stroke="#d0d0d0" stroke-width="0.7" opacity="0.8"/>
<line x1="270.47" y1="184" x2="270.47" y2="199.4" stroke="#a8a8a8" stroke-width="0.5" opacity="0.7"/>
<path d="M271.16,183 L273.92,183 L272.54,194.2 Z" fill="url(#kbeat)" opacity="0.63"/>
<line x1="272.54" y1="188.1" x2="272.54" y2="199.4" stroke="#d0d0d0" stroke-width="0.7" opacity="0.8"/>
<line x1="275.07" y1="184" x2="275.07" y2="199.4" stroke="#a8a8a8" stroke-width="0.5" opacity="0.7"/>
<path d="M275.76,183 L278.52,183 L277.14,194.2 Z" fill="url(#kbeat)" opacity="0.86"/>
<line x1="277.14" y1="188.1" x2="277.14" y2="199.4" stroke="#d0d0d0" stroke-width="0.7" opacity="0.8"/>
<line x1="279.67" y1="184" x2="279.67" y2="199.4" stroke="#a8a8a8" stroke-width="0.5" opacity="0.7"/>
<path d="M280.36,183 L283.12,183 L281.74,194.2 Z" fill="url(#kbeat)" opacity="0.62"/>
<line x1="281.74" y1="188.1" x2="281.74" y2="199.4" stroke="#d0d0d0" stroke-width="0.7" opacity="0.8"/>
<line x1="284.27" y1="184" x2="284.27" y2="199.4" stroke="#a8a8a8" stroke-width="0.5" opacity="0.7"/>
<path d="M284.96,183 L287.72,183 L286.34,194.2 Z" fill="url(#kbeat)" opacity="0.86"/>
<line x1="286.34" y1="188.1" x2="286.34" y2="199.4" stroke="#d0d0d0" stroke-width="0.7" opacity="0.8"/>
<line x1="288.87" y1="184" x2="288.87" y2="199.4" stroke="#a8a8a8" stroke-width="0.5" opacity="0.7"/>
<path d="M289.56,183 L292.32,183 L290.94,194.2 Z" fill="url(#kbeat)" opacity="0.74"/>
<line x1="290.94" y1="188.1" x2="290.94" y2="199.4" stroke="#d0d0d0" stroke-width="0.7" opacity="0.8"/>
<line x1="293.47" y1="184" x2="293.47" y2="199.4" stroke="#a8a8a8" stroke-width="0.5" opacity="0.7"/>
<path d="M294.16,183 L296.92,183 L295.54,194.2 Z" fill="url(#kbeat)" opacity="0.7"/>
<line x1="295.54" y1="188.1" x2="295.54" y2="199.4" stroke="#d0d0d0" stroke-width="0.7" opacity="0.8"/>
<line x1="298.07" y1="184" x2="298.07" y2="199.4" stroke="#a8a8a8" stroke-width="0.5" opacity="0.7"/>
<path d="M294.8,183 L297.34,183 L296.07,196.64 Z" fill="url(#kbeat)" opacity="0.77"/>
<line x1="296.07" y1="188.1" x2="296.07" y2="199.4" stroke="#d0d0d0" stroke-width="0.55" opacity="0.8"/>
<path d="M298.18,183 L300.72,183 L299.45,196.64 Z" fill="url(#kbeat)" opacity="0.88"/>
<line x1="299.45" y1="188.1" x2="299.45" y2="199.4" stroke="#d0d0d0" stroke-width="0.55" opacity="0.8"/>
<path d="M301.56,183 L304.1,183 L302.83,196.64 Z" fill="url(#kbeat)" opacity="0.68"/>
<line x1="302.83" y1="188.1" x2="302.83" y2="199.4" stroke="#d0d0d0" stroke-width="0.55" opacity="0.8"/>
<path d="M304.94,183 L307.48,183 L306.21,196.64 Z" fill="url(#kbeat)" opacity="0.64"/>
<line x1="306.21" y1="188.1" x2="306.21" y2="199.4" stroke="#d0d0d0" stroke-width="0.55" opacity="0.8"/>
<path d="M308.32,183 L310.86,183 L309.59,196.64 Z" fill="url(#kbeat)" opacity="0.76"/>
<line x1="309.59" y1="188.1" x2="309.59" y2="199.4" stroke="#d0d0d0" stroke-width="0.55" opacity="0.8"/>
<path d="M311.7,183 L314.24,183 L312.97,196.64 Z" fill="url(#kbeat)" opacity="0.67"/>
<line x1="312.97" y1="188.1" x2="312.97" y2="199.4" stroke="#d0d0d0" stroke-width="0.55" opacity="0.8"/>
<path d="M315.08,183 L317.62,183 L316.35,196.64 Z" fill="url(#kbeat)" opacity="0.63"/>
<line x1="316.35" y1="188.1" x2="316.35" y2="199.4" stroke="#d0d0d0" stroke-width="0.55" opacity="0.8"/>
<path d="M318.46,183 L321,183 L319.73,196.64 Z" fill="url(#kbeat)" opacity="0.65"/>
<line x1="319.73" y1="188.1" x2="319.73" y2="199.4" stroke="#d0d0d0" stroke-width="0.55" opacity="0.8"/>
<path d="M321.84,183 L324.38,183 L323.11,196.64 Z" fill="url(#kbeat)" opacity="0.62"/>
<line x1="323.11" y1="188.1" x2="323.11" y2="199.4" stroke="#d0d0d0" stroke-width="0.55" opacity="0.8"/>
<path d="M325.22,183 L327.75,183 L326.49,196.64 Z" fill="url(#kbeat)" opacity="0.66"/>
<line x1="326.49" y1="188.1" x2="326.49" y2="199.4" stroke="#d0d0d0" stroke-width="0.55" opacity="0.8"/>
<path d="M328.6,183 L331.13,183 L329.87,196.64 Z" fill="url(#kbeat)" opacity="0.69"/>
<line x1="329.87" y1="188.1" x2="329.87" y2="199.4" stroke="#d0d0d0" stroke-width="0.55" opacity="0.8"/>
<path d="M331.98,183 L334.51,183 L333.25,196.64 Z" fill="url(#kbeat)" opacity="0.69"/>
<line x1="333.25" y1="188.1" x2="333.25" y2="199.4" stroke="#d0d0d0" stroke-width="0.55" opacity="0.8"/>
<path d="M335.36,183 L337.89,183 L336.63,196.64 Z" fill="url(#kbeat)" opacity="0.83"/>
<line x1="336.63" y1="188.1" x2="336.63" y2="199.4" stroke="#d0d0d0" stroke-width="0.55" opacity="0.8"/>
<path d="M338.74,183 L341.27,183 L340.01,196.64 Z" fill="url(#kbeat)" opacity="0.69"/>
<line x1="340.01" y1="188.1" x2="340.01" y2="199.4" stroke="#d0d0d0" stroke-width="0.55" opacity="0.8"/>
<path d="M342.12,183 L344.65,183 L343.39,196.64 Z" fill="url(#kbeat)" opacity="0.75"/>
<line x1="343.39" y1="188.1" x2="343.39" y2="199.4" stroke="#d0d0d0" stroke-width="0.55" opacity="0.8"/>
<path d="M345.5,183 L348.03,183 L346.77,196.64 Z" fill="url(#kbeat)" opacity="0.65"/>
<line x1="346.77" y1="188.1" x2="346.77" y2="199.4" stroke="#d0d0d0" stroke-width="0.55" opacity="0.8"/>
<path d="M348.88,183 L351.41,183 L350.15,196.64 Z" fill="url(#kbeat)" opacity="0.7"/>
<line x1="350.15" y1="188.1" x2="350.15" y2="199.4" stroke="#d0d0d0" stroke-width="0.55" opacity="0.8"/>
<path d="M352.26,183 L354.79,183 L353.53,196.64 Z" fill="url(#kbeat)" opacity="0.61"/>
<line x1="353.53" y1="188.1" x2="353.53" y2="199.4" stroke="#d0d0d0" stroke-width="0.55" opacity="0.8"/>
<path d="M355.64,183 L358.17,183 L356.91,196.64 Z" fill="url(#kbeat)" opacity="0.68"/>
<line x1="356.91" y1="188.1" x2="356.91" y2="199.4" stroke="#d0d0d0" stroke-width="0.55" opacity="0.8"/>
<path d="M359.02,183 L361.55,183 L360.29,196.64 Z" fill="url(#kbeat)" opacity="0.6"/>
<line x1="360.29" y1="188.1" x2="360.29" y2="199.4" stroke="#d0d0d0" stroke-width="0.55" opacity="0.8"/>
<path d="M362.4,183 L364.93,183 L363.67,196.64 Z" fill="url(#kbeat)" opacity="0.82"/>
<line x1="363.67" y1="188.1" x2="363.67" y2="199.4" stroke="#d0d0d0" stroke-width="0.55" opacity="0.8"/>
<path d="M365.78,183 L368.31,183 L367.05,196.64 Z" fill="url(#kbeat)" opacity="0.77"/>
<line x1="367.05" y1="188.1" x2="367.05" y2="199.4" stroke="#d0d0d0" stroke-width="0.55" opacity="0.8"/>
<path d="M369.16,183 L371.69,183 L370.43,196.64 Z" fill="url(#kbeat)" opacity="0.66"/>
<line x1="370.43" y1="188.1" x2="370.43" y2="199.4" stroke="#d0d0d0" stroke-width="0.55" opacity="0.8"/>
<path d="M372.54,183 L375.07,183 L373.81,196.64 Z" fill="url(#kbeat)" opacity="0.74"/>
<line x1="373.81" y1="188.1" x2="373.81" y2="199.4" stroke="#d0d0d0" stroke-width="0.55" opacity="0.8"/>
<path d="M375.92,183 L378.45,183 L377.19,196.64 Z" fill="url(#kbeat)" opacity="0.88"/>
<line x1="377.19" y1="188.1" x2="377.19" y2="199.4" stroke="#d0d0d0" stroke-width="0.55" opacity="0.8"/>
<path d="M379.3,183 L381.83,183 L380.57,196.64 Z" fill="url(#kbeat)" opacity="0.63"/>
<line x1="380.57" y1="188.1" x2="380.57" y2="199.4" stroke="#d0d0d0" stroke-width="0.55" opacity="0.8"/>
<path d="M382.68,183 L385.21,183 L383.95,196.64 Z" fill="url(#kbeat)" opacity="0.85"/>
<line x1="383.95" y1="188.1" x2="383.95" y2="199.4" stroke="#d0d0d0" stroke-width="0.55" opacity="0.8"/>
<path d="M385.91,183 L388.07,183 L386.99,194.2 Z" fill="url(#kbeat)" opacity="0.73"/>
<line x1="386.99" y1="188.1" x2="386.99" y2="199.4" stroke="#d0d0d0" stroke-width="0.7" opacity="0.8"/>
<line x1="388.97" y1="184" x2="388.97" y2="199.4" stroke="#a8a8a8" stroke-width="0.5" opacity="0.7"/>
<path d="M389.51,183 L391.67,183 L390.59,194.2 Z" fill="url(#kbeat)" opacity="0.75"/>
<line x1="390.59" y1="188.1" x2="390.59" y2="199.4" stroke="#d0d0d0" stroke-width="0.7" opacity="0.8"/>
<line x1="392.57" y1="184" x2="392.57" y2="199.4" stroke="#a8a8a8" stroke-width="0.5" opacity="0.7"/>
<path d="M393.11,183 L395.27,183 L394.19,194.2 Z" fill="url(#kbeat)" opacity="0.85"/>
<line x1="394.19" y1="188.1" x2="394.19" y2="199.4" stroke="#d0d0d0" stroke-width="0.7" opacity="0.8"/>
<line x1="396.17" y1="184" x2="396.17" y2="199.4" stroke="#a8a8a8" stroke-width="0.5" opacity="0.7"/>
<path d="M396.71,183 L398.87,183 L397.79,194.2 Z" fill="url(#kbeat)" opacity="0.72"/>
<line x1="397.79" y1="188.1" x2="397.79" y2="199.4" stroke="#d0d0d0" stroke-width="0.7" opacity="0.8"/>
<line x1="399.77" y1="184" x2="399.77" y2="199.4" stroke="#a8a8a8" stroke-width="0.5" opacity="0.7"/>
<path d="M400.31,183 L402.47,183 L401.39,194.2 Z" fill="url(#kbeat)" opacity="0.75"/>
<line x1="401.39" y1="188.1" x2="401.39" y2="199.4" stroke="#d0d0d0" stroke-width="0.7" opacity="0.8"/>
<line x1="403.37" y1="184" x2="403.37" y2="199.4" stroke="#a8a8a8" stroke-width="0.5" opacity="0.7"/>
<path d="M403.91,183 L406.07,183 L404.99,194.2 Z" fill="url(#kbeat)" opacity="0.81"/>
<line x1="404.99" y1="188.1" x2="404.99" y2="199.4" stroke="#d0d0d0" stroke-width="0.7" opacity="0.8"/>
<line x1="406.97" y1="184" x2="406.97" y2="199.4" stroke="#a8a8a8" stroke-width="0.5" opacity="0.7"/>
<path d="M407.51,183 L409.67,183 L408.59,194.2 Z" fill="url(#kbeat)" opacity="0.89"/>
<line x1="408.59" y1="188.1" x2="408.59" y2="199.4" stroke="#d0d0d0" stroke-width="0.7" opacity="0.8"/>
<line x1="410.57" y1="184" x2="410.57" y2="199.4" stroke="#a8a8a8" stroke-width="0.5" opacity="0.7"/>
<path d="M411.11,183 L413.27,183 L412.19,194.2 Z" fill="url(#kbeat)" opacity="0.7"/>
<line x1="412.19" y1="188.1" x2="412.19" y2="199.4" stroke="#d0d0d0" stroke-width="0.7" opacity="0.8"/>
<line x1="414.17" y1="184" x2="414.17" y2="199.4" stroke="#a8a8a8" stroke-width="0.5" opacity="0.7"/>
<line x1="255.4" y1="182.4" x2="414.7" y2="182.4" stroke="#a0a0a0" stroke-width="0.8"/>
<rect x="255.4" y="199.4" width="159.3" height="7" fill="#6a6a6a"/>
<line x1="255.4" y1="200" x2="414.7" y2="200" stroke="#3a3a3a" stroke-width="1"/>
<line x1="255.4" y1="201.6" x2="414.7" y2="201.6" stroke="#9a9a9a" stroke-width="1"/>
<line x1="255.4" y1="203.2" x2="414.7" y2="203.2" stroke="#eef2f2" stroke-width="1.5"/>
<line x1="255.4" y1="204.9" x2="414.7" y2="204.9" stroke="#8a8a8a" stroke-width="1"/>
<line x1="255.4" y1="206" x2="414.7" y2="206" stroke="#f4b0b0" stroke-width="0.8"/>
<line x1="294.3" y1="182" x2="294.3" y2="199.4" stroke="#000" stroke-width="0.9"/>
<line x1="294.9" y1="196.9" x2="294.9" y2="206.4" stroke="#e81818" stroke-width="0.85" opacity="0.8"/>
<line x1="298.28" y1="196.9" x2="298.28" y2="206.4" stroke="#e81818" stroke-width="0.85" opacity="0.8"/>
<line x1="301.66" y1="196.9" x2="301.66" y2="206.4" stroke="#e81818" stroke-width="0.85" opacity="0.8"/>
<line x1="305.04" y1="196.9" x2="305.04" y2="206.4" stroke="#e81818" stroke-width="0.85" opacity="0.8"/>
<line x1="308.42" y1="196.9" x2="308.42" y2="206.4" stroke="#e81818" stroke-width="0.85" opacity="0.8"/>
<line x1="311.8" y1="196.9" x2="311.8" y2="206.4" stroke="#e81818" stroke-width="0.85" opacity="0.8"/>
<line x1="315.18" y1="196.9" x2="315.18" y2="206.4" stroke="#e81818" stroke-width="0.85" opacity="0.8"/>
<line x1="318.56" y1="196.9" x2="318.56" y2="206.4" stroke="#e81818" stroke-width="0.85" opacity="0.8"/>
<line x1="321.94" y1="196.9" x2="321.94" y2="206.4" stroke="#e81818" stroke-width="0.85" opacity="0.8"/>
<line x1="325.32" y1="196.9" x2="325.32" y2="206.4" stroke="#e81818" stroke-width="0.85" opacity="0.8"/>
<line x1="328.7" y1="196.9" x2="328.7" y2="206.4" stroke="#e81818" stroke-width="0.85" opacity="0.8"/>
<line x1="332.08" y1="196.9" x2="332.08" y2="206.4" stroke="#e81818" stroke-width="0.85" opacity="0.8"/>
<line x1="335.46" y1="196.9" x2="335.46" y2="206.4" stroke="#e81818" stroke-width="0.85" opacity="0.8"/>
<line x1="338.84" y1="196.9" x2="338.84" y2="206.4" stroke="#e81818" stroke-width="0.85" opacity="0.8"/>
<line x1="342.22" y1="196.9" x2="342.22" y2="206.4" stroke="#e81818" stroke-width="0.85" opacity="0.8"/>
<line x1="345.6" y1="196.9" x2="345.6" y2="206.4" stroke="#e81818" stroke-width="0.85" opacity="0.8"/>
<line x1="348.98" y1="196.9" x2="348.98" y2="206.4" stroke="#e81818" stroke-width="0.85" opacity="0.8"/>
<line x1="352.36" y1="196.9" x2="352.36" y2="206.4" stroke="#e81818" stroke-width="0.85" opacity="0.8"/>
<line x1="355.74" y1="196.9" x2="355.74" y2="206.4" stroke="#e81818" stroke-width="0.85" opacity="0.8"/>
<line x1="359.12" y1="196.9" x2="359.12" y2="206.4" stroke="#e81818" stroke-width="0.85" opacity="0.8"/>
<line x1="362.5" y1="196.9" x2="362.5" y2="206.4" stroke="#e81818" stroke-width="0.85" opacity="0.8"/>
<line x1="365.88" y1="196.9" x2="365.88" y2="206.4" stroke="#e81818" stroke-width="0.85" opacity="0.8"/>
<line x1="369.26" y1="196.9" x2="369.26" y2="206.4" stroke="#e81818" stroke-width="0.85" opacity="0.8"/>
<line x1="372.64" y1="196.9" x2="372.64" y2="206.4" stroke="#e81818" stroke-width="0.85" opacity="0.8"/>
<line x1="376.02" y1="196.9" x2="376.02" y2="206.4" stroke="#e81818" stroke-width="0.85" opacity="0.8"/>
<line x1="379.4" y1="196.9" x2="379.4" y2="206.4" stroke="#e81818" stroke-width="0.85" opacity="0.8"/>
<line x1="382.78" y1="196.9" x2="382.78" y2="206.4" stroke="#e81818" stroke-width="0.85" opacity="0.8"/>
<rect x="410.2" y="191.65" width="3" height="8.03" fill="#111111"/>
<rect x="410.8" y="192.25" width="1.8" height="6.83" fill="#ffffff"/>
</g>
<line x1="294.3" y1="179.4" x2="385.3" y2="179.4" stroke="#151515" stroke-width="1.15"/>
<line x1="294.3" y1="176.6" x2="294.3" y2="182.2" stroke="#151515" stroke-width="1.1"/>
<line x1="385.3" y1="176.6" x2="385.3" y2="182.2" stroke="#151515" stroke-width="1.1"/>
<path d="M294.9,179.4 l3.2,-2.1 M294.9,179.4 l3.2,2.1 M384.7,179.4 l-3.2,-2.1 M384.7,179.4 l-3.2,2.1" stroke="#151515" stroke-width="1.05" fill="none"/>
<text x="106" y="23.5" font-size="6.8" font-weight="bold" fill="#ff0000" text-anchor="start" textLength="27.4" lengthAdjust="spacingAndGlyphs">PR 5 Hz,</text>
<text x="135.6" y="23.5" font-size="6.8" font-weight="bold" fill="#1a1a1a" text-anchor="start" textLength="31.8" lengthAdjust="spacingAndGlyphs">HR 3.2 Hz</text>
<text x="126.4" y="62.4" font-size="6.8" font-weight="bold" fill="#ff0000" text-anchor="start" textLength="5.6" lengthAdjust="spacingAndGlyphs">5,</text>
<text x="134.3" y="62.4" font-size="6.8" font-weight="bold" fill="#1a1a1a" text-anchor="start" textLength="10.5" lengthAdjust="spacingAndGlyphs">4.6</text>
<text x="128.7" y="101.4" font-size="6.8" font-weight="bold" fill="#ff0000" text-anchor="start" textLength="5.6" lengthAdjust="spacingAndGlyphs">5,</text>
<text x="136.6" y="101.4" font-size="6.8" font-weight="bold" fill="#1a1a1a" text-anchor="start" textLength="3.8" lengthAdjust="spacingAndGlyphs">5</text>
<text x="130.4" y="138.8" font-size="6.8" font-weight="bold" fill="#ff0000" text-anchor="start" textLength="5.5" lengthAdjust="spacingAndGlyphs">5,</text>
<text x="138.8" y="138.8" font-size="6.8" font-weight="bold" fill="#1a1a1a" text-anchor="start" textLength="3.4" lengthAdjust="spacingAndGlyphs">5</text>
<text x="128.7" y="178.8" font-size="6.8" font-weight="bold" fill="#ff0000" text-anchor="start" textLength="5.5" lengthAdjust="spacingAndGlyphs">5,</text>
<text x="136.9" y="178.8" font-size="6.8" font-weight="bold" fill="#1a1a1a" text-anchor="start" textLength="3.8" lengthAdjust="spacingAndGlyphs">5</text>
<text x="308.2" y="21.3" font-size="6.8" font-weight="bold" fill="#ff0000" text-anchor="start" textLength="33.3" lengthAdjust="spacingAndGlyphs">PR 5.5 Hz,</text>
<text x="343.5" y="21.3" font-size="6.8" font-weight="bold" fill="#1a1a1a" text-anchor="start" textLength="31.3" lengthAdjust="spacingAndGlyphs">HR 3.3 Hz</text>
<text x="329.6" y="60.9" font-size="6.8" font-weight="bold" fill="#ff0000" text-anchor="start" textLength="12" lengthAdjust="spacingAndGlyphs">5.5,</text>
<text x="344" y="60.9" font-size="6.8" font-weight="bold" fill="#1a1a1a" text-anchor="start" textLength="9.8" lengthAdjust="spacingAndGlyphs">5.5</text>
<text x="329.6" y="99.6" font-size="6.8" font-weight="bold" fill="#ff0000" text-anchor="start" textLength="12" lengthAdjust="spacingAndGlyphs">5.5,</text>
<text x="344" y="99.6" font-size="6.8" font-weight="bold" fill="#1a1a1a" text-anchor="start" textLength="9.8" lengthAdjust="spacingAndGlyphs">5.5</text>
<text x="327.7" y="139" font-size="6.8" font-weight="bold" fill="#ff0000" text-anchor="start" textLength="12" lengthAdjust="spacingAndGlyphs">5.5,</text>
<text x="342.1" y="139" font-size="6.8" font-weight="bold" fill="#1a1a1a" text-anchor="start" textLength="9.8" lengthAdjust="spacingAndGlyphs">5.5</text>
<text x="327.6" y="177.4" font-size="6.8" font-weight="bold" fill="#ff0000" text-anchor="start" textLength="12" lengthAdjust="spacingAndGlyphs">5.5,</text>
<text x="342" y="177.4" font-size="6.8" font-weight="bold" fill="#1a1a1a" text-anchor="start" textLength="9.8" lengthAdjust="spacingAndGlyphs">5.5</text>
<text x="0.5" y="38.6" font-size="7.6" fill="#111" stroke="#111" stroke-width="0.2" textLength="44.2" lengthAdjust="spacingAndGlyphs">0.46 mW/mm</text>
<text x="44.9" y="36.9" font-size="4.6" fill="#111">2</text>
<text x="0.5" y="77.9" font-size="7.6" fill="#111" stroke="#111" stroke-width="0.2" textLength="44.2" lengthAdjust="spacingAndGlyphs">0.91 mW/mm</text>
<text x="44.9" y="76.2" font-size="4.6" fill="#111">2</text>
<text x="0.5" y="116.3" font-size="7.6" fill="#111" stroke="#111" stroke-width="0.2" textLength="44.2" lengthAdjust="spacingAndGlyphs">1.86 mW/mm</text>
<text x="44.9" y="114.6" font-size="4.6" fill="#111">2</text>
<text x="0.5" y="154.2" font-size="7.6" fill="#111" stroke="#111" stroke-width="0.2" textLength="44.2" lengthAdjust="spacingAndGlyphs">3.63 mW/mm</text>
<text x="44.9" y="152.5" font-size="4.6" fill="#111">2</text>
<text x="0.5" y="192.1" font-size="7.6" fill="#111" stroke="#111" stroke-width="0.2" textLength="44.2" lengthAdjust="spacingAndGlyphs">7.26 mW/mm</text>
<text x="44.9" y="190.4" font-size="4.6" fill="#111">2</text>
<polyline points="19,45.9 26.6,45.9 26.6,45.4 38.5,45.4 38.5,45.9 45.6,45.9" fill="none" stroke="#ff0000" stroke-width="1.5"/>
<polyline points="17.2,86 23.8,86 23.8,85.3 37.2,85.3 37.2,86 43.7,86" fill="none" stroke="#ff0000" stroke-width="1.5"/>
<polyline points="15.9,126.6 22.9,126.6 22.9,124.7 35.1,124.7 35.1,126.6 42,126.6" fill="none" stroke="#ff0000" stroke-width="1.5"/>
<polyline points="14.2,164.9 21.2,164.9 21.2,160.9 33.8,160.9 33.8,164.9 40.3,164.9" fill="none" stroke="#ff0000" stroke-width="1.5"/>
<polyline points="12,204.1 18.9,204.1 18.9,196.8 32,196.8 32,204.1 38.8,204.1" fill="none" stroke="#ff0000" stroke-width="1.5"/>
<text x="235" y="34.6" font-size="8" font-weight="normal" fill="#111" text-anchor="start" textLength="15" lengthAdjust="spacingAndGlyphs" stroke="#111" stroke-width="0.2">2 ms</text>
<text x="233.6" y="73.6" font-size="8" font-weight="normal" fill="#111" text-anchor="start" textLength="14.7" lengthAdjust="spacingAndGlyphs" stroke="#111" stroke-width="0.2">5 ms</text>
<text x="230.7" y="113.6" font-size="8" font-weight="normal" fill="#111" text-anchor="start" textLength="19" lengthAdjust="spacingAndGlyphs" stroke="#111" stroke-width="0.2">10 ms</text>
<text x="230.7" y="154.6" font-size="8" font-weight="normal" fill="#111" text-anchor="start" textLength="19" lengthAdjust="spacingAndGlyphs" stroke="#111" stroke-width="0.2">20 ms</text>
<text x="230" y="189.7" font-size="8" font-weight="normal" fill="#111" text-anchor="start" textLength="19.7" lengthAdjust="spacingAndGlyphs" stroke="#111" stroke-width="0.2">40 ms</text>
<polyline points="236,47.9 243.75,47.9 243.75,40.3 243.75,40.3 243.75,47.9 251.9,47.9" fill="none" stroke="#ff0000" stroke-width="1.5"/>
<polyline points="234.3,86.4 241.6,86.4 241.6,78.8 243.3,78.8 243.3,86.4 249.7,86.4" fill="none" stroke="#ff0000" stroke-width="1.5"/>
<polyline points="234.3,126.6 239.9,126.6 239.9,120 243.4,120 243.4,126.6 249.7,126.6" fill="none" stroke="#ff0000" stroke-width="1.5"/>
<polyline points="231.4,167.4 238.1,167.4 238.1,160.1 244.3,160.1 244.3,167.4 250.7,167.4" fill="none" stroke="#ff0000" stroke-width="1.5"/>
<polyline points="227.1,200.7 234.3,200.7 234.3,193.6 247.1,193.6 247.1,200.7 254,200.7" fill="none" stroke="#ff0000" stroke-width="1.5"/>
<text x="46.1" y="214.3" font-size="5" font-weight="bold" fill="#222" text-anchor="start" textLength="5" lengthAdjust="spacingAndGlyphs">0</text>
<text x="83.9" y="214.3" font-size="5" font-weight="bold" fill="#222" text-anchor="start" textLength="5" lengthAdjust="spacingAndGlyphs">2</text>
<text x="122" y="214.3" font-size="5" font-weight="bold" fill="#222" text-anchor="start" textLength="5" lengthAdjust="spacingAndGlyphs">4</text>
<text x="159.2" y="214.3" font-size="5" font-weight="bold" fill="#222" text-anchor="start" textLength="5" lengthAdjust="spacingAndGlyphs">6</text>
<text x="197" y="214.3" font-size="5" font-weight="bold" fill="#222" text-anchor="start" textLength="5" lengthAdjust="spacingAndGlyphs">8</text>
<text x="111.4" y="221.6" font-size="7" font-weight="bold" fill="#333" text-anchor="start" textLength="38.6" lengthAdjust="spacingAndGlyphs">Time (s)</text>
<text x="251.4" y="213.2" font-size="5" font-weight="bold" fill="#222" text-anchor="start" textLength="5" lengthAdjust="spacingAndGlyphs">0</text>
<text x="288.7" y="213.2" font-size="5" font-weight="bold" fill="#222" text-anchor="start" textLength="5" lengthAdjust="spacingAndGlyphs">2</text>
<text x="325.9" y="213.2" font-size="5" font-weight="bold" fill="#222" text-anchor="start" textLength="5" lengthAdjust="spacingAndGlyphs">4</text>
<text x="363.7" y="213.2" font-size="5" font-weight="bold" fill="#222" text-anchor="start" textLength="5" lengthAdjust="spacingAndGlyphs">6</text>
<text x="401.1" y="213.2" font-size="5" font-weight="bold" fill="#222" text-anchor="start" textLength="5" lengthAdjust="spacingAndGlyphs">8</text>
<text x="315.8" y="220.9" font-size="7" font-weight="bold" fill="#333" text-anchor="start" textLength="38.8" lengthAdjust="spacingAndGlyphs">Time (s)</text>
<rect x="46.6" y="240" width="164" height="83.3" fill="none" stroke="#d0d0d0" stroke-width="0.8"/>
<line x1="46.6" y1="323.3" x2="210.6" y2="323.3" stroke="#555" stroke-width="0.9"/>
<line x1="46.6" y1="240" x2="46.6" y2="323.3" stroke="#bdbdbd" stroke-width="0.9"/>
<line x1="73.6" y1="240" x2="73.6" y2="241.6" stroke="#999" stroke-width="0.6"/>
<line x1="73.6" y1="323.3" x2="73.6" y2="321.7" stroke="#999" stroke-width="0.6"/>
<line x1="101.2" y1="240" x2="101.2" y2="241.6" stroke="#999" stroke-width="0.6"/>
<line x1="101.2" y1="323.3" x2="101.2" y2="321.7" stroke="#999" stroke-width="0.6"/>
<line x1="128.8" y1="240" x2="128.8" y2="241.6" stroke="#999" stroke-width="0.6"/>
<line x1="128.8" y1="323.3" x2="128.8" y2="321.7" stroke="#999" stroke-width="0.6"/>
<line x1="156.4" y1="240" x2="156.4" y2="241.6" stroke="#999" stroke-width="0.6"/>
<line x1="156.4" y1="323.3" x2="156.4" y2="321.7" stroke="#999" stroke-width="0.6"/>
<line x1="184" y1="240" x2="184" y2="241.6" stroke="#999" stroke-width="0.6"/>
<line x1="184" y1="323.3" x2="184" y2="321.7" stroke="#999" stroke-width="0.6"/>
<line x1="46.6" y1="323.3" x2="48.2" y2="323.3" stroke="#999" stroke-width="0.6"/>
<line x1="210.6" y1="323.3" x2="209" y2="323.3" stroke="#999" stroke-width="0.6"/>
<line x1="46.6" y1="285.65" x2="48.2" y2="285.65" stroke="#999" stroke-width="0.6"/>
<line x1="210.6" y1="285.65" x2="209" y2="285.65" stroke="#999" stroke-width="0.6"/>
<line x1="46.6" y1="248" x2="48.2" y2="248" stroke="#999" stroke-width="0.6"/>
<line x1="210.6" y1="248" x2="209" y2="248" stroke="#999" stroke-width="0.6"/>
<rect x="78.7" y="313.96" width="4.35" height="9.34" fill="#000000" stroke="#000000" stroke-width="0.55"/>
<rect x="91.75" y="312" width="4.35" height="11.3" fill="#ffffff" stroke="#444444" stroke-width="0.55"/>
<rect x="101.45" y="300.71" width="4.35" height="22.59" fill="#808080" stroke="#6a6a6a" stroke-width="0.55"/>
<rect x="106.3" y="305.23" width="4.35" height="18.07" fill="#000000" stroke="#000000" stroke-width="0.55"/>
<rect x="119.35" y="283.39" width="4.35" height="39.91" fill="#ffffff" stroke="#444444" stroke-width="0.55"/>
<rect x="124.2" y="271.34" width="4.35" height="51.96" fill="#cccccc" stroke="#8a8a8a" stroke-width="0.55"/>
<rect x="129.05" y="271.34" width="4.35" height="51.96" fill="#808080" stroke="#6a6a6a" stroke-width="0.55"/>
<rect x="133.9" y="295.44" width="4.35" height="27.86" fill="#000000" stroke="#000000" stroke-width="0.55"/>
<rect x="146.95" y="248" width="4.35" height="75.3" fill="#ffffff" stroke="#444444" stroke-width="0.55"/>
<rect x="151.8" y="248" width="4.35" height="75.3" fill="#cccccc" stroke="#8a8a8a" stroke-width="0.55"/>
<rect x="156.65" y="248" width="4.35" height="75.3" fill="#808080" stroke="#6a6a6a" stroke-width="0.55"/>
<rect x="161.5" y="248" width="4.35" height="75.3" fill="#000000" stroke="#000000" stroke-width="0.55"/>
<rect x="174.55" y="248" width="4.35" height="75.3" fill="#ffffff" stroke="#444444" stroke-width="0.55"/>
<rect x="179.4" y="248" width="4.35" height="75.3" fill="#cccccc" stroke="#8a8a8a" stroke-width="0.55"/>
<rect x="184.25" y="248" width="4.35" height="75.3" fill="#808080" stroke="#6a6a6a" stroke-width="0.55"/>
<rect x="189.1" y="248" width="4.35" height="75.3" fill="#000000" stroke="#000000" stroke-width="0.55"/>
<text x="64.5" y="335.6" font-size="8.4" font-weight="bold" fill="#111" text-anchor="start" textLength="18.2" lengthAdjust="spacingAndGlyphs">0.46</text>
<text x="92" y="335.6" font-size="8.4" font-weight="bold" fill="#111" text-anchor="start" textLength="18.7" lengthAdjust="spacingAndGlyphs">0.91</text>
<text x="119.6" y="335.6" font-size="8.4" font-weight="bold" fill="#111" text-anchor="start" textLength="18.7" lengthAdjust="spacingAndGlyphs">1.86</text>
<text x="147" y="335.6" font-size="8.4" font-weight="bold" fill="#111" text-anchor="start" textLength="19" lengthAdjust="spacingAndGlyphs">3.63</text>
<text x="173.8" y="335.6" font-size="8.4" font-weight="bold" fill="#111" text-anchor="start" textLength="18.7" lengthAdjust="spacingAndGlyphs">7.26</text>
<text x="69.2" y="347" font-size="9" font-weight="bold" fill="#111" text-anchor="start" textLength="118.6" lengthAdjust="spacingAndGlyphs">Power density (mW/mm²)</text>
<text x="20.8" y="253.2" font-size="9" font-weight="bold" fill="#111" text-anchor="start" textLength="23" lengthAdjust="spacingAndGlyphs">100%</text>
<text x="24.3" y="291.05" font-size="9" font-weight="bold" fill="#111" text-anchor="start" textLength="17.6" lengthAdjust="spacingAndGlyphs">50%</text>
<text x="36.1" y="325.3" font-size="9" font-weight="bold" fill="#111" text-anchor="start" textLength="3.9" lengthAdjust="spacingAndGlyphs">0</text>
<text x="0" y="0" font-size="9.6" font-weight="bold" fill="#111" text-anchor="middle" textLength="80.2" lengthAdjust="spacingAndGlyphs" transform="translate(17.4,282.8) rotate(-90)">Pacing probability</text>
<rect x="49.1" y="249" width="10.8" height="3.6" fill="#ffffff" stroke="#333" stroke-width="0.5"/>
<text x="64.7" y="252.2" font-size="8.2" font-weight="bold" fill="#111" text-anchor="start" textLength="19.6" lengthAdjust="spacingAndGlyphs">Larva</text>
<rect x="49.1" y="258" width="10.8" height="3.6" fill="#cccccc" stroke="#333" stroke-width="0.5"/>
<text x="64.7" y="261.5" font-size="8.2" font-weight="bold" fill="#111" text-anchor="start" textLength="37.6" lengthAdjust="spacingAndGlyphs">Early pupa</text>
<rect x="49.1" y="267.7" width="10.8" height="3.6" fill="#808080" stroke="#333" stroke-width="0.5"/>
<text x="64.7" y="270.5" font-size="8.2" font-weight="bold" fill="#111" text-anchor="start" textLength="35.8" lengthAdjust="spacingAndGlyphs">Late pupa</text>
<rect x="49.1" y="277" width="10.8" height="3.6" fill="#000000" stroke="#333" stroke-width="0.5"/>
<text x="64.7" y="279.4" font-size="8.2" font-weight="bold" fill="#111" text-anchor="start" textLength="19.6" lengthAdjust="spacingAndGlyphs">Adult</text>
<rect x="259.2" y="240" width="158.8" height="82.4" fill="none" stroke="#d0d0d0" stroke-width="0.8"/>
<line x1="259.2" y1="322.4" x2="418" y2="322.4" stroke="#555" stroke-width="0.9"/>
<line x1="259.2" y1="240" x2="259.2" y2="322.4" stroke="#bdbdbd" stroke-width="0.9"/>
<line x1="285.6" y1="240" x2="285.6" y2="241.6" stroke="#999" stroke-width="0.6"/>
<line x1="285.6" y1="322.4" x2="285.6" y2="320.8" stroke="#999" stroke-width="0.6"/>
<line x1="312.5" y1="240" x2="312.5" y2="241.6" stroke="#999" stroke-width="0.6"/>
<line x1="312.5" y1="322.4" x2="312.5" y2="320.8" stroke="#999" stroke-width="0.6"/>
<line x1="339.4" y1="240" x2="339.4" y2="241.6" stroke="#999" stroke-width="0.6"/>
<line x1="339.4" y1="322.4" x2="339.4" y2="320.8" stroke="#999" stroke-width="0.6"/>
<line x1="366" y1="240" x2="366" y2="241.6" stroke="#999" stroke-width="0.6"/>
<line x1="366" y1="322.4" x2="366" y2="320.8" stroke="#999" stroke-width="0.6"/>
<line x1="393" y1="240" x2="393" y2="241.6" stroke="#999" stroke-width="0.6"/>
<line x1="393" y1="322.4" x2="393" y2="320.8" stroke="#999" stroke-width="0.6"/>
<line x1="259.2" y1="322.4" x2="260.8" y2="322.4" stroke="#999" stroke-width="0.6"/>
<line x1="418" y1="322.4" x2="416.4" y2="322.4" stroke="#999" stroke-width="0.6"/>
<line x1="259.2" y1="285.2" x2="260.8" y2="285.2" stroke="#999" stroke-width="0.6"/>
<line x1="418" y1="285.2" x2="416.4" y2="285.2" stroke="#999" stroke-width="0.6"/>
<line x1="259.2" y1="248" x2="260.8" y2="248" stroke="#999" stroke-width="0.6"/>
<line x1="418" y1="248" x2="416.4" y2="248" stroke="#999" stroke-width="0.6"/>
<rect x="303.25" y="289.66" width="4.25" height="32.74" fill="#ffffff" stroke="#444444" stroke-width="0.55"/>
<rect x="308" y="300.82" width="4.25" height="21.58" fill="#cccccc" stroke="#8a8a8a" stroke-width="0.55"/>
<rect x="312.75" y="270.32" width="4.25" height="52.08" fill="#808080" stroke="#6a6a6a" stroke-width="0.55"/>
<rect x="317.5" y="280.74" width="4.25" height="41.66" fill="#000000" stroke="#000000" stroke-width="0.55"/>
<rect x="330.15" y="263.62" width="4.25" height="58.78" fill="#ffffff" stroke="#444444" stroke-width="0.55"/>
<rect x="334.9" y="263.62" width="4.25" height="58.78" fill="#cccccc" stroke="#8a8a8a" stroke-width="0.55"/>
<rect x="339.65" y="248" width="4.25" height="74.4" fill="#808080" stroke="#6a6a6a" stroke-width="0.55"/>
<rect x="344.4" y="248" width="4.25" height="74.4" fill="#000000" stroke="#000000" stroke-width="0.55"/>
<rect x="356.75" y="248" width="4.25" height="74.4" fill="#ffffff" stroke="#444444" stroke-width="0.55"/>
<rect x="361.5" y="248" width="4.25" height="74.4" fill="#cccccc" stroke="#8a8a8a" stroke-width="0.55"/>
<rect x="366.25" y="248" width="4.25" height="74.4" fill="#808080" stroke="#6a6a6a" stroke-width="0.55"/>
<rect x="371" y="248" width="4.25" height="74.4" fill="#000000" stroke="#000000" stroke-width="0.55"/>
<rect x="383.75" y="248" width="4.25" height="74.4" fill="#ffffff" stroke="#444444" stroke-width="0.55"/>
<rect x="388.5" y="248" width="4.25" height="74.4" fill="#cccccc" stroke="#8a8a8a" stroke-width="0.55"/>
<rect x="393.25" y="248" width="4.25" height="74.4" fill="#808080" stroke="#6a6a6a" stroke-width="0.55"/>
<rect x="398" y="248" width="4.25" height="74.4" fill="#000000" stroke="#000000" stroke-width="0.55"/>
<text x="283" y="334.8" font-size="8.4" font-weight="bold" fill="#111" text-anchor="start" textLength="4.5" lengthAdjust="spacingAndGlyphs">2</text>
<text x="310.5" y="334.8" font-size="8.4" font-weight="bold" fill="#111" text-anchor="start" textLength="4.5" lengthAdjust="spacingAndGlyphs">5</text>
<text x="333.5" y="334.8" font-size="8.4" font-weight="bold" fill="#111" text-anchor="start" textLength="8.9" lengthAdjust="spacingAndGlyphs">10</text>
<text x="360.9" y="334.8" font-size="8.4" font-weight="bold" fill="#111" text-anchor="start" textLength="9" lengthAdjust="spacingAndGlyphs">20</text>
<text x="387.5" y="334.8" font-size="8.4" font-weight="bold" fill="#111" text-anchor="start" textLength="9.2" lengthAdjust="spacingAndGlyphs">40</text>
<text x="299.8" y="345" font-size="9" font-weight="bold" fill="#111" text-anchor="start" textLength="73.2" lengthAdjust="spacingAndGlyphs">Pulse width (ms)</text>
<text x="232.2" y="253.2" font-size="9" font-weight="bold" fill="#111" text-anchor="start" textLength="23" lengthAdjust="spacingAndGlyphs">100%</text>
<text x="235.7" y="290.6" font-size="9" font-weight="bold" fill="#111" text-anchor="start" textLength="17.6" lengthAdjust="spacingAndGlyphs">50%</text>
<text x="247.5" y="324.4" font-size="9" font-weight="bold" fill="#111" text-anchor="start" textLength="3.9" lengthAdjust="spacingAndGlyphs">0</text>
<text x="0" y="0" font-size="9.6" font-weight="bold" fill="#111" text-anchor="middle" textLength="80.2" lengthAdjust="spacingAndGlyphs" transform="translate(229,281.9) rotate(-90)">Pacing probability</text>
<rect x="261.6" y="249" width="10.8" height="3.6" fill="#ffffff" stroke="#333" stroke-width="0.5"/>
<text x="277.2" y="252.2" font-size="8.2" font-weight="bold" fill="#111" text-anchor="start" textLength="19.6" lengthAdjust="spacingAndGlyphs">Larva</text>
<rect x="261.6" y="258" width="10.8" height="3.6" fill="#cccccc" stroke="#333" stroke-width="0.5"/>
<text x="277.2" y="261.5" font-size="8.2" font-weight="bold" fill="#111" text-anchor="start" textLength="37.6" lengthAdjust="spacingAndGlyphs">Early pupa</text>
<rect x="261.6" y="267.7" width="10.8" height="3.6" fill="#808080" stroke="#333" stroke-width="0.5"/>
<text x="277.2" y="270.5" font-size="8.2" font-weight="bold" fill="#111" text-anchor="start" textLength="35.8" lengthAdjust="spacingAndGlyphs">Late pupa</text>
<rect x="261.6" y="277" width="10.8" height="3.6" fill="#000000" stroke="#333" stroke-width="0.5"/>
<text x="277.2" y="279.4" font-size="8.2" font-weight="bold" fill="#111" text-anchor="start" textLength="19.6" lengthAdjust="spacingAndGlyphs">Adult</text>
<rect x="457.4" y="25.4" width="224.9" height="60.1" fill="none" stroke="#cfcfcf" stroke-width="0.8"/>
<line x1="483.7" y1="85.5" x2="483.7" y2="83.7" stroke="#aaa" stroke-width="0.6"/>
<line x1="483.7" y1="25.4" x2="483.7" y2="27.2" stroke="#aaa" stroke-width="0.6"/>
<text x="483.7" y="96.2" font-size="8.2" font-weight="normal" fill="#262626" text-anchor="middle" stroke="#262626" stroke-width="0.25">4</text>
<line x1="527.75" y1="85.5" x2="527.75" y2="83.7" stroke="#aaa" stroke-width="0.6"/>
<line x1="527.75" y1="25.4" x2="527.75" y2="27.2" stroke="#aaa" stroke-width="0.6"/>
<text x="527.75" y="96.2" font-size="8.2" font-weight="normal" fill="#262626" text-anchor="middle" stroke="#262626" stroke-width="0.25">5</text>
<line x1="571.8" y1="85.5" x2="571.8" y2="83.7" stroke="#aaa" stroke-width="0.6"/>
<line x1="571.8" y1="25.4" x2="571.8" y2="27.2" stroke="#aaa" stroke-width="0.6"/>
<text x="571.8" y="96.2" font-size="8.2" font-weight="normal" fill="#262626" text-anchor="middle" stroke="#262626" stroke-width="0.25">6</text>
<line x1="615.85" y1="85.5" x2="615.85" y2="83.7" stroke="#aaa" stroke-width="0.6"/>
<line x1="615.85" y1="25.4" x2="615.85" y2="27.2" stroke="#aaa" stroke-width="0.6"/>
<text x="615.85" y="96.2" font-size="8.2" font-weight="normal" fill="#262626" text-anchor="middle" stroke="#262626" stroke-width="0.25">7</text>
<line x1="659.9" y1="85.5" x2="659.9" y2="83.7" stroke="#aaa" stroke-width="0.6"/>
<line x1="659.9" y1="25.4" x2="659.9" y2="27.2" stroke="#aaa" stroke-width="0.6"/>
<text x="659.9" y="96.2" font-size="8.2" font-weight="normal" fill="#262626" text-anchor="middle" stroke="#262626" stroke-width="0.25">8</text>
<line x1="457.4" y1="85.5" x2="459.2" y2="85.5" stroke="#aaa" stroke-width="0.6"/>
<line x1="682.3" y1="85.5" x2="680.5" y2="85.5" stroke="#aaa" stroke-width="0.6"/>
<text x="455.4" y="88.5" font-size="8.2" font-weight="normal" fill="#262626" text-anchor="end" stroke="#262626" stroke-width="0.25">2</text>
<line x1="457.4" y1="68.4" x2="459.2" y2="68.4" stroke="#aaa" stroke-width="0.6"/>
<line x1="682.3" y1="68.4" x2="680.5" y2="68.4" stroke="#aaa" stroke-width="0.6"/>
<text x="455.4" y="71.4" font-size="8.2" font-weight="normal" fill="#262626" text-anchor="end" stroke="#262626" stroke-width="0.25">4</text>
<line x1="457.4" y1="51.3" x2="459.2" y2="51.3" stroke="#aaa" stroke-width="0.6"/>
<line x1="682.3" y1="51.3" x2="680.5" y2="51.3" stroke="#aaa" stroke-width="0.6"/>
<text x="455.4" y="54.3" font-size="8.2" font-weight="normal" fill="#262626" text-anchor="end" stroke="#262626" stroke-width="0.25">6</text>
<line x1="457.4" y1="34.2" x2="459.2" y2="34.2" stroke="#aaa" stroke-width="0.6"/>
<line x1="682.3" y1="34.2" x2="680.5" y2="34.2" stroke="#aaa" stroke-width="0.6"/>
<text x="455.4" y="37.2" font-size="8.2" font-weight="normal" fill="#262626" text-anchor="end" stroke="#262626" stroke-width="0.25">8</text>
<text x="464.5" y="42.9" font-size="9" font-weight="bold" fill="#111" text-anchor="start" textLength="26.7" lengthAdjust="spacingAndGlyphs">Larva</text>
<line x1="457.49" y1="72.25" x2="659.9" y2="72.25" stroke="#000" stroke-width="1.2"/>
<circle cx="463.14" cy="72.43" r="1.0" fill="none" stroke="#222" stroke-width="0.6"/>
<circle cx="462.27" cy="72.79" r="1.0" fill="none" stroke="#222" stroke-width="0.6"/>
<circle cx="461" cy="73.21" r="1.0" fill="none" stroke="#222" stroke-width="0.6"/>
<circle cx="460.7" cy="59" r="1.0" fill="none" stroke="#222" stroke-width="0.6"/>
<circle cx="460.54" cy="61.56" r="1.0" fill="none" stroke="#222" stroke-width="0.6"/>
<circle cx="484.76" cy="68.69" r="1.0" fill="none" stroke="#222" stroke-width="0.6"/>
<circle cx="482.22" cy="68.9" r="1.0" fill="none" stroke="#222" stroke-width="0.6"/>
<circle cx="485.2" cy="67.96" r="1.0" fill="none" stroke="#222" stroke-width="0.6"/>
<circle cx="484.15" cy="57.28" r="1.0" fill="none" stroke="#222" stroke-width="0.6"/>
<circle cx="483.12" cy="60.7" r="1.0" fill="none" stroke="#222" stroke-width="0.6"/>
<circle cx="504.59" cy="64.37" r="1.0" fill="none" stroke="#222" stroke-width="0.6"/>
<circle cx="505.55" cy="64.53" r="1.0" fill="none" stroke="#222" stroke-width="0.6"/>
<circle cx="505.49" cy="64.41" r="1.0" fill="none" stroke="#222" stroke-width="0.6"/>
<circle cx="506.95" cy="58.14" r="1.0" fill="none" stroke="#222" stroke-width="0.6"/>
<circle cx="529.83" cy="59.79" r="1.0" fill="none" stroke="#222" stroke-width="0.6"/>
<circle cx="526.62" cy="59.29" r="1.0" fill="none" stroke="#222" stroke-width="0.6"/>
<circle cx="526.91" cy="60.02" r="1.0" fill="none" stroke="#222" stroke-width="0.6"/>
<circle cx="526.43" cy="66.69" r="1.0" fill="none" stroke="#222" stroke-width="0.6"/>
<circle cx="527.44" cy="65.84" r="1.0" fill="none" stroke="#222" stroke-width="0.6"/>
<circle cx="549.66" cy="55.57" r="1.0" fill="none" stroke="#222" stroke-width="0.6"/>
<circle cx="548.46" cy="55.57" r="1.0" fill="none" stroke="#222" stroke-width="0.6"/>
<circle cx="547.59" cy="55.86" r="1.0" fill="none" stroke="#222" stroke-width="0.6"/>
<circle cx="548.69" cy="58.14" r="1.0" fill="none" stroke="#222" stroke-width="0.6"/>
<circle cx="549.51" cy="61.99" r="1.0" fill="none" stroke="#222" stroke-width="0.6"/>
<circle cx="569.78" cy="51.87" r="1.0" fill="none" stroke="#222" stroke-width="0.6"/>
<circle cx="570.94" cy="51.62" r="1.0" fill="none" stroke="#222" stroke-width="0.6"/>
<circle cx="572.18" cy="51.27" r="1.0" fill="none" stroke="#222" stroke-width="0.6"/>
<circle cx="572.46" cy="59.85" r="1.0" fill="none" stroke="#222" stroke-width="0.6"/>
<circle cx="572.22" cy="60.28" r="1.0" fill="none" stroke="#222" stroke-width="0.6"/>
<circle cx="572.37" cy="61.56" r="1.0" fill="none" stroke="#222" stroke-width="0.6"/>
<circle cx="595.49" cy="47.16" r="1.0" fill="none" stroke="#222" stroke-width="0.6"/>
<circle cx="593.06" cy="46.44" r="1.0" fill="none" stroke="#222" stroke-width="0.6"/>
<circle cx="592.28" cy="46.76" r="1.0" fill="none" stroke="#222" stroke-width="0.6"/>
<circle cx="594.2" cy="35.05" r="1.0" fill="none" stroke="#222" stroke-width="0.6"/>
<circle cx="592.62" cy="54.72" r="1.0" fill="none" stroke="#222" stroke-width="0.6"/>
<circle cx="594.71" cy="59.85" r="1.0" fill="none" stroke="#222" stroke-width="0.6"/>
<circle cx="594.86" cy="58.14" r="1.0" fill="none" stroke="#222" stroke-width="0.6"/>
<circle cx="616.41" cy="42.47" r="1.0" fill="none" stroke="#222" stroke-width="0.6"/>
<circle cx="617.23" cy="43.18" r="1.0" fill="none" stroke="#222" stroke-width="0.6"/>
<circle cx="615.95" cy="42.74" r="1.0" fill="none" stroke="#222" stroke-width="0.6"/>
<circle cx="639.35" cy="38.54" r="1.0" fill="none" stroke="#222" stroke-width="0.6"/>
<circle cx="639.31" cy="38.8" r="1.0" fill="none" stroke="#222" stroke-width="0.6"/>
<circle cx="639.61" cy="38.68" r="1.0" fill="none" stroke="#222" stroke-width="0.6"/>
<circle cx="638.39" cy="54.72" r="1.0" fill="none" stroke="#222" stroke-width="0.6"/>
<circle cx="658.71" cy="53.57" r="1.0" fill="none" stroke="#222" stroke-width="0.6"/>
<circle cx="658.28" cy="53.18" r="1.0" fill="none" stroke="#222" stroke-width="0.6"/>
<circle cx="658.16" cy="52.61" r="1.0" fill="none" stroke="#222" stroke-width="0.6"/>
<circle cx="660.05" cy="51.3" r="1.0" fill="none" stroke="#222" stroke-width="0.6"/>
<line x1="461.68" y1="72.67" x2="461.68" y2="58.14" stroke="#ff0000" stroke-width="1.1"/>
<line x1="483.7" y1="70.11" x2="483.7" y2="61.56" stroke="#ff0000" stroke-width="1.1"/>
<line x1="505.72" y1="65.84" x2="505.72" y2="61.99" stroke="#ff0000" stroke-width="1.1"/>
<line x1="527.75" y1="62.41" x2="527.75" y2="57.28" stroke="#ff0000" stroke-width="1.1"/>
<line x1="549.77" y1="57.28" x2="549.77" y2="53.01" stroke="#ff0000" stroke-width="1.1"/>
<line x1="571.8" y1="61.13" x2="571.8" y2="50.45" stroke="#ff0000" stroke-width="1.1"/>
<line x1="593.83" y1="59.85" x2="593.83" y2="41.04" stroke="#ff0000" stroke-width="1.1"/>
<line x1="637.88" y1="48.73" x2="637.88" y2="35.05" stroke="#ff0000" stroke-width="1.1"/>
<polyline points="461.68,66.09 483.7,66.43 505.72,64.12 527.75,59.85 549.77,56.09 571.8,56.09 593.83,48.99 615.85,42.24 637.88,42.75 659.9,53.52" fill="none" stroke="#ff0000" stroke-width="1.2" stroke-linejoin="round"/>
<circle cx="461.68" cy="66.09" r="1.2" fill="#c00000"/>
<circle cx="483.7" cy="66.43" r="1.2" fill="#c00000"/>
<circle cx="505.72" cy="64.12" r="1.2" fill="#c00000"/>
<circle cx="527.75" cy="59.85" r="1.2" fill="#c00000"/>
<circle cx="549.77" cy="56.09" r="1.2" fill="#c00000"/>
<circle cx="571.8" cy="56.09" r="1.2" fill="#c00000"/>
<circle cx="593.83" cy="48.99" r="1.2" fill="#c00000"/>
<circle cx="615.85" cy="42.24" r="1.2" fill="#c00000"/>
<circle cx="637.88" cy="42.75" r="1.2" fill="#c00000"/>
<circle cx="659.9" cy="53.52" r="1.2" fill="#c00000"/>
<line x1="461.68" y1="72.67" x2="659.9" y2="34.2" stroke="#1f77c0" stroke-width="1.3" stroke-dasharray="4,2.6"/>
<rect x="457" y="104.3" width="225.7" height="59.6" fill="none" stroke="#cfcfcf" stroke-width="0.8"/>
<line x1="465" y1="163.9" x2="465" y2="162.1" stroke="#aaa" stroke-width="0.6"/>
<line x1="465" y1="104.3" x2="465" y2="106.1" stroke="#aaa" stroke-width="0.6"/>
<text x="465" y="174.6" font-size="8.2" font-weight="normal" fill="#262626" text-anchor="middle" stroke="#262626" stroke-width="0.25">2</text>
<line x1="504.3" y1="163.9" x2="504.3" y2="162.1" stroke="#aaa" stroke-width="0.6"/>
<line x1="504.3" y1="104.3" x2="504.3" y2="106.1" stroke="#aaa" stroke-width="0.6"/>
<text x="504.3" y="174.6" font-size="8.2" font-weight="normal" fill="#262626" text-anchor="middle" stroke="#262626" stroke-width="0.25">3</text>
<line x1="543.6" y1="163.9" x2="543.6" y2="162.1" stroke="#aaa" stroke-width="0.6"/>
<line x1="543.6" y1="104.3" x2="543.6" y2="106.1" stroke="#aaa" stroke-width="0.6"/>
<text x="543.6" y="174.6" font-size="8.2" font-weight="normal" fill="#262626" text-anchor="middle" stroke="#262626" stroke-width="0.25">4</text>
<line x1="582.9" y1="163.9" x2="582.9" y2="162.1" stroke="#aaa" stroke-width="0.6"/>
<line x1="582.9" y1="104.3" x2="582.9" y2="106.1" stroke="#aaa" stroke-width="0.6"/>
<text x="582.9" y="174.6" font-size="8.2" font-weight="normal" fill="#262626" text-anchor="middle" stroke="#262626" stroke-width="0.25">5</text>
<line x1="622.2" y1="163.9" x2="622.2" y2="162.1" stroke="#aaa" stroke-width="0.6"/>
<line x1="622.2" y1="104.3" x2="622.2" y2="106.1" stroke="#aaa" stroke-width="0.6"/>
<text x="622.2" y="174.6" font-size="8.2" font-weight="normal" fill="#262626" text-anchor="middle" stroke="#262626" stroke-width="0.25">6</text>
<line x1="661.5" y1="163.9" x2="661.5" y2="162.1" stroke="#aaa" stroke-width="0.6"/>
<line x1="661.5" y1="104.3" x2="661.5" y2="106.1" stroke="#aaa" stroke-width="0.6"/>
<text x="661.5" y="174.6" font-size="8.2" font-weight="normal" fill="#262626" text-anchor="middle" stroke="#262626" stroke-width="0.25">7</text>
<line x1="457" y1="149.5" x2="458.8" y2="149.5" stroke="#aaa" stroke-width="0.6"/>
<line x1="682.7" y1="149.5" x2="680.9" y2="149.5" stroke="#aaa" stroke-width="0.6"/>
<text x="455" y="152.5" font-size="8.2" font-weight="normal" fill="#262626" text-anchor="end" stroke="#262626" stroke-width="0.25">2</text>
<line x1="457" y1="134.6" x2="458.8" y2="134.6" stroke="#aaa" stroke-width="0.6"/>
<line x1="682.7" y1="134.6" x2="680.9" y2="134.6" stroke="#aaa" stroke-width="0.6"/>
<text x="455" y="137.6" font-size="8.2" font-weight="normal" fill="#262626" text-anchor="end" stroke="#262626" stroke-width="0.25">4</text>
<line x1="457" y1="119.7" x2="458.8" y2="119.7" stroke="#aaa" stroke-width="0.6"/>
<line x1="682.7" y1="119.7" x2="680.9" y2="119.7" stroke="#aaa" stroke-width="0.6"/>
<text x="455" y="122.7" font-size="8.2" font-weight="normal" fill="#262626" text-anchor="end" stroke="#262626" stroke-width="0.25">6</text>
<line x1="457" y1="104.8" x2="458.8" y2="104.8" stroke="#aaa" stroke-width="0.6"/>
<line x1="682.7" y1="104.8" x2="680.9" y2="104.8" stroke="#aaa" stroke-width="0.6"/>
<text x="455" y="107.8" font-size="8.2" font-weight="normal" fill="#262626" text-anchor="end" stroke="#262626" stroke-width="0.25">8</text>
<text x="464.6" y="122.4" font-size="9" font-weight="bold" fill="#111" text-anchor="start" textLength="51.6" lengthAdjust="spacingAndGlyphs">Early pupa</text>
<line x1="465" y1="148.38" x2="661.5" y2="148.38" stroke="#000" stroke-width="1.2"/>
<circle cx="465.5" cy="149.37" r="1.0" fill="none" stroke="#222" stroke-width="0.6"/>
<circle cx="465.71" cy="149.51" r="1.0" fill="none" stroke="#222" stroke-width="0.6"/>
<circle cx="463.05" cy="149.19" r="1.0" fill="none" stroke="#222" stroke-width="0.6"/>
<circle cx="485.63" cy="145.77" r="1.0" fill="none" stroke="#222" stroke-width="0.6"/>
<circle cx="484.79" cy="145.61" r="1.0" fill="none" stroke="#222" stroke-width="0.6"/>
<circle cx="482.94" cy="145.53" r="1.0" fill="none" stroke="#222" stroke-width="0.6"/>
<circle cx="484.07" cy="144.66" r="1.0" fill="none" stroke="#222" stroke-width="0.6"/>
<circle cx="483.65" cy="152.48" r="1.0" fill="none" stroke="#222" stroke-width="0.6"/>
<circle cx="503.38" cy="141.81" r="1.0" fill="none" stroke="#222" stroke-width="0.6"/>
<circle cx="503.14" cy="141.8" r="1.0" fill="none" stroke="#222" stroke-width="0.6"/>
<circle cx="506.17" cy="142.06" r="1.0" fill="none" stroke="#222" stroke-width="0.6"/>
<circle cx="523.49" cy="138.35" r="1.0" fill="none" stroke="#222" stroke-width="0.6"/>
<circle cx="524.67" cy="138.05" r="1.0" fill="none" stroke="#222" stroke-width="0.6"/>
<circle cx="524.41" cy="138.18" r="1.0" fill="none" stroke="#222" stroke-width="0.6"/>
<circle cx="522.95" cy="142.79" r="1.0" fill="none" stroke="#222" stroke-width="0.6"/>
<circle cx="542.21" cy="134.86" r="1.0" fill="none" stroke="#222" stroke-width="0.6"/>
<circle cx="544.56" cy="134.8" r="1.0" fill="none" stroke="#222" stroke-width="0.6"/>
<circle cx="543.87" cy="135.11" r="1.0" fill="none" stroke="#222" stroke-width="0.6"/>
<circle cx="542.56" cy="133.11" r="1.0" fill="none" stroke="#222" stroke-width="0.6"/>
<circle cx="543.05" cy="136.09" r="1.0" fill="none" stroke="#222" stroke-width="0.6"/>
<circle cx="563.93" cy="130.67" r="1.0" fill="none" stroke="#222" stroke-width="0.6"/>
<circle cx="563.94" cy="131.09" r="1.0" fill="none" stroke="#222" stroke-width="0.6"/>
<circle cx="563.31" cy="130.91" r="1.0" fill="none" stroke="#222" stroke-width="0.6"/>
<circle cx="563.17" cy="132.37" r="1.0" fill="none" stroke="#222" stroke-width="0.6"/>
<circle cx="562.35" cy="142.79" r="1.0" fill="none" stroke="#222" stroke-width="0.6"/>
<circle cx="564.18" cy="135.34" r="1.0" fill="none" stroke="#222" stroke-width="0.6"/>
<circle cx="581.72" cy="135.59" r="1.0" fill="none" stroke="#222" stroke-width="0.6"/>
<circle cx="584.61" cy="136.59" r="1.0" fill="none" stroke="#222" stroke-width="0.6"/>
<circle cx="582.74" cy="135.76" r="1.0" fill="none" stroke="#222" stroke-width="0.6"/>
<circle cx="584" cy="127.15" r="1.0" fill="none" stroke="#222" stroke-width="0.6"/>
<circle cx="582.78" cy="127.52" r="1.0" fill="none" stroke="#222" stroke-width="0.6"/>
<circle cx="582.35" cy="128.64" r="1.0" fill="none" stroke="#222" stroke-width="0.6"/>
<circle cx="582.22" cy="134.6" r="1.0" fill="none" stroke="#222" stroke-width="0.6"/>
<circle cx="604.3" cy="134.9" r="1.0" fill="none" stroke="#222" stroke-width="0.6"/>
<circle cx="602.87" cy="134.97" r="1.0" fill="none" stroke="#222" stroke-width="0.6"/>
<circle cx="602.64" cy="134.13" r="1.0" fill="none" stroke="#222" stroke-width="0.6"/>
<circle cx="601.68" cy="123.42" r="1.0" fill="none" stroke="#222" stroke-width="0.6"/>
<circle cx="603.31" cy="136.84" r="1.0" fill="none" stroke="#222" stroke-width="0.6"/>
<circle cx="622.22" cy="118.95" r="1.0" fill="none" stroke="#222" stroke-width="0.6"/>
<circle cx="623.11" cy="118.58" r="1.0" fill="none" stroke="#222" stroke-width="0.6"/>
<circle cx="622.68" cy="127.15" r="1.0" fill="none" stroke="#222" stroke-width="0.6"/>
<circle cx="621.57" cy="133.85" r="1.0" fill="none" stroke="#222" stroke-width="0.6"/>
<circle cx="643.41" cy="132.38" r="1.0" fill="none" stroke="#222" stroke-width="0.6"/>
<circle cx="639.98" cy="132.88" r="1.0" fill="none" stroke="#222" stroke-width="0.6"/>
<circle cx="641.82" cy="132.42" r="1.0" fill="none" stroke="#222" stroke-width="0.6"/>
<circle cx="660.72" cy="133.86" r="1.0" fill="none" stroke="#222" stroke-width="0.6"/>
<circle cx="660.89" cy="133.67" r="1.0" fill="none" stroke="#222" stroke-width="0.6"/>
<circle cx="662.84" cy="134" r="1.0" fill="none" stroke="#222" stroke-width="0.6"/>
<line x1="484.65" y1="150.25" x2="484.65" y2="144.28" stroke="#ff0000" stroke-width="1.1"/>
<line x1="563.25" y1="133.85" x2="563.25" y2="130.13" stroke="#ff0000" stroke-width="1.1"/>
<line x1="582.9" y1="136.84" x2="582.9" y2="127.89" stroke="#ff0000" stroke-width="1.1"/>
<line x1="602.55" y1="136.84" x2="602.55" y2="127.15" stroke="#ff0000" stroke-width="1.1"/>
<line x1="622.2" y1="133.85" x2="622.2" y2="117.47" stroke="#ff0000" stroke-width="1.1"/>
<polyline points="465,149.5 484.65,146.82 504.3,142.05 523.95,137.58 543.6,134.97 563.25,131.92 582.9,132.51 602.55,132.37 622.2,125.81 641.85,132.51 661.5,133.48" fill="none" stroke="#ff0000" stroke-width="1.2" stroke-linejoin="round"/>
<circle cx="465" cy="149.5" r="1.2" fill="#c00000"/>
<circle cx="484.65" cy="146.82" r="1.2" fill="#c00000"/>
<circle cx="504.3" cy="142.05" r="1.2" fill="#c00000"/>
<circle cx="523.95" cy="137.58" r="1.2" fill="#c00000"/>
<circle cx="543.6" cy="134.97" r="1.2" fill="#c00000"/>
<circle cx="563.25" cy="131.92" r="1.2" fill="#c00000"/>
<circle cx="582.9" cy="132.51" r="1.2" fill="#c00000"/>
<circle cx="602.55" cy="132.37" r="1.2" fill="#c00000"/>
<circle cx="622.2" cy="125.81" r="1.2" fill="#c00000"/>
<circle cx="641.85" cy="132.51" r="1.2" fill="#c00000"/>
<circle cx="661.5" cy="133.48" r="1.2" fill="#c00000"/>
<line x1="465" y1="149.5" x2="661.5" y2="112.25" stroke="#1f77c0" stroke-width="1.3" stroke-dasharray="4,2.6"/>
<rect x="458.3" y="183.5" width="224.4" height="59.6" fill="none" stroke="#cfcfcf" stroke-width="0.8"/>
<line x1="485.8" y1="243.1" x2="485.8" y2="241.3" stroke="#aaa" stroke-width="0.6"/>
<line x1="485.8" y1="183.5" x2="485.8" y2="185.3" stroke="#aaa" stroke-width="0.6"/>
<text x="485.8" y="253.8" font-size="8.2" font-weight="normal" fill="#262626" text-anchor="middle" stroke="#262626" stroke-width="0.25">3</text>
<line x1="525.1" y1="243.1" x2="525.1" y2="241.3" stroke="#aaa" stroke-width="0.6"/>
<line x1="525.1" y1="183.5" x2="525.1" y2="185.3" stroke="#aaa" stroke-width="0.6"/>
<text x="525.1" y="253.8" font-size="8.2" font-weight="normal" fill="#262626" text-anchor="middle" stroke="#262626" stroke-width="0.25">4</text>
<line x1="564.4" y1="243.1" x2="564.4" y2="241.3" stroke="#aaa" stroke-width="0.6"/>
<line x1="564.4" y1="183.5" x2="564.4" y2="185.3" stroke="#aaa" stroke-width="0.6"/>
<text x="564.4" y="253.8" font-size="8.2" font-weight="normal" fill="#262626" text-anchor="middle" stroke="#262626" stroke-width="0.25">5</text>
<line x1="603.7" y1="243.1" x2="603.7" y2="241.3" stroke="#aaa" stroke-width="0.6"/>
<line x1="603.7" y1="183.5" x2="603.7" y2="185.3" stroke="#aaa" stroke-width="0.6"/>
<text x="603.7" y="253.8" font-size="8.2" font-weight="normal" fill="#262626" text-anchor="middle" stroke="#262626" stroke-width="0.25">6</text>
<line x1="643" y1="243.1" x2="643" y2="241.3" stroke="#aaa" stroke-width="0.6"/>
<line x1="643" y1="183.5" x2="643" y2="185.3" stroke="#aaa" stroke-width="0.6"/>
<text x="643" y="253.8" font-size="8.2" font-weight="normal" fill="#262626" text-anchor="middle" stroke="#262626" stroke-width="0.25">7</text>
<line x1="682.3" y1="243.1" x2="682.3" y2="241.3" stroke="#aaa" stroke-width="0.6"/>
<line x1="682.3" y1="183.5" x2="682.3" y2="185.3" stroke="#aaa" stroke-width="0.6"/>
<text x="682.3" y="253.8" font-size="8.2" font-weight="normal" fill="#262626" text-anchor="middle" stroke="#262626" stroke-width="0.25">8</text>
<line x1="458.3" y1="234.9" x2="460.1" y2="234.9" stroke="#aaa" stroke-width="0.6"/>
<line x1="682.7" y1="234.9" x2="680.9" y2="234.9" stroke="#aaa" stroke-width="0.6"/>
<text x="456.3" y="237.9" font-size="8.2" font-weight="normal" fill="#262626" text-anchor="end" stroke="#262626" stroke-width="0.25">2</text>
<line x1="458.3" y1="217.76" x2="460.1" y2="217.76" stroke="#aaa" stroke-width="0.6"/>
<line x1="682.7" y1="217.76" x2="680.9" y2="217.76" stroke="#aaa" stroke-width="0.6"/>
<text x="456.3" y="220.76" font-size="8.2" font-weight="normal" fill="#262626" text-anchor="end" stroke="#262626" stroke-width="0.25">4</text>
<line x1="458.3" y1="200.62" x2="460.1" y2="200.62" stroke="#aaa" stroke-width="0.6"/>
<line x1="682.7" y1="200.62" x2="680.9" y2="200.62" stroke="#aaa" stroke-width="0.6"/>
<text x="456.3" y="203.62" font-size="8.2" font-weight="normal" fill="#262626" text-anchor="end" stroke="#262626" stroke-width="0.25">6</text>
<line x1="458.3" y1="183.48" x2="460.1" y2="183.48" stroke="#aaa" stroke-width="0.6"/>
<line x1="682.7" y1="183.48" x2="680.9" y2="183.48" stroke="#aaa" stroke-width="0.6"/>
<text x="456.3" y="186.48" font-size="8.2" font-weight="normal" fill="#262626" text-anchor="end" stroke="#262626" stroke-width="0.25">8</text>
<text x="464.7" y="201.6" font-size="9" font-weight="bold" fill="#111" text-anchor="start" textLength="47.5" lengthAdjust="spacingAndGlyphs">Late pupa</text>
<line x1="466.15" y1="227.7" x2="662.65" y2="227.7" stroke="#555" stroke-width="2"/>
<circle cx="466.74" cy="232.33" r="1.0" fill="none" stroke="#222" stroke-width="0.6"/>
<circle cx="487.13" cy="227.21" r="1.0" fill="none" stroke="#222" stroke-width="0.6"/>
<circle cx="487.48" cy="226.5" r="1.0" fill="none" stroke="#222" stroke-width="0.6"/>
<circle cx="487.38" cy="227.01" r="1.0" fill="none" stroke="#222" stroke-width="0.6"/>
<circle cx="504.95" cy="222.17" r="1.0" fill="none" stroke="#222" stroke-width="0.6"/>
<circle cx="507.41" cy="221.94" r="1.0" fill="none" stroke="#222" stroke-width="0.6"/>
<circle cx="504.9" cy="222.13" r="1.0" fill="none" stroke="#222" stroke-width="0.6"/>
<circle cx="524.22" cy="219.16" r="1.0" fill="none" stroke="#222" stroke-width="0.6"/>
<circle cx="523.53" cy="218.22" r="1.0" fill="none" stroke="#222" stroke-width="0.6"/>
<circle cx="524.26" cy="218.09" r="1.0" fill="none" stroke="#222" stroke-width="0.6"/>
<circle cx="543.76" cy="213.76" r="1.0" fill="none" stroke="#222" stroke-width="0.6"/>
<circle cx="544.79" cy="213.85" r="1.0" fill="none" stroke="#222" stroke-width="0.6"/>
<circle cx="544.25" cy="212.93" r="1.0" fill="none" stroke="#222" stroke-width="0.6"/>
<circle cx="565.91" cy="208.82" r="1.0" fill="none" stroke="#222" stroke-width="0.6"/>
<circle cx="564.91" cy="208.69" r="1.0" fill="none" stroke="#222" stroke-width="0.6"/>
<circle cx="566.13" cy="209.13" r="1.0" fill="none" stroke="#222" stroke-width="0.6"/>
<circle cx="564.92" cy="210.9" r="1.0" fill="none" stroke="#222" stroke-width="0.6"/>
<circle cx="563.34" cy="223.76" r="1.0" fill="none" stroke="#222" stroke-width="0.6"/>
<circle cx="584.96" cy="204.96" r="1.0" fill="none" stroke="#222" stroke-width="0.6"/>
<circle cx="585.04" cy="204.73" r="1.0" fill="none" stroke="#222" stroke-width="0.6"/>
<circle cx="583.21" cy="205.45" r="1.0" fill="none" stroke="#222" stroke-width="0.6"/>
<circle cx="585.06" cy="216.9" r="1.0" fill="none" stroke="#222" stroke-width="0.6"/>
<circle cx="583.17" cy="217.76" r="1.0" fill="none" stroke="#222" stroke-width="0.6"/>
<circle cx="583.98" cy="222.9" r="1.0" fill="none" stroke="#222" stroke-width="0.6"/>
<circle cx="603.09" cy="200.86" r="1.0" fill="none" stroke="#222" stroke-width="0.6"/>
<circle cx="604.64" cy="200.05" r="1.0" fill="none" stroke="#222" stroke-width="0.6"/>
<circle cx="602.76" cy="200.43" r="1.0" fill="none" stroke="#222" stroke-width="0.6"/>
<circle cx="603.23" cy="216.9" r="1.0" fill="none" stroke="#222" stroke-width="0.6"/>
<circle cx="603.84" cy="217.76" r="1.0" fill="none" stroke="#222" stroke-width="0.6"/>
<circle cx="603.45" cy="227.19" r="1.0" fill="none" stroke="#222" stroke-width="0.6"/>
<circle cx="622.04" cy="196.74" r="1.0" fill="none" stroke="#222" stroke-width="0.6"/>
<circle cx="622.2" cy="195.85" r="1.0" fill="none" stroke="#222" stroke-width="0.6"/>
<circle cx="623.34" cy="196.67" r="1.0" fill="none" stroke="#222" stroke-width="0.6"/>
<circle cx="624.31" cy="209.19" r="1.0" fill="none" stroke="#222" stroke-width="0.6"/>
<circle cx="624.52" cy="216.05" r="1.0" fill="none" stroke="#222" stroke-width="0.6"/>
<circle cx="642.88" cy="192.05" r="1.0" fill="none" stroke="#222" stroke-width="0.6"/>
<circle cx="642.15" cy="206.62" r="1.0" fill="none" stroke="#222" stroke-width="0.6"/>
<circle cx="642.27" cy="212.62" r="1.0" fill="none" stroke="#222" stroke-width="0.6"/>
<circle cx="642.03" cy="216.9" r="1.0" fill="none" stroke="#222" stroke-width="0.6"/>
<circle cx="662.28" cy="204.05" r="1.0" fill="none" stroke="#222" stroke-width="0.6"/>
<circle cx="661.69" cy="207.48" r="1.0" fill="none" stroke="#222" stroke-width="0.6"/>
<circle cx="662.03" cy="210.05" r="1.0" fill="none" stroke="#222" stroke-width="0.6"/>
<line x1="564.4" y1="213.9" x2="564.4" y2="204.91" stroke="#ff0000" stroke-width="1.1"/>
<line x1="584.05" y1="216.9" x2="584.05" y2="200.62" stroke="#ff0000" stroke-width="1.1"/>
<line x1="603.7" y1="219.05" x2="603.7" y2="199.33" stroke="#ff0000" stroke-width="1.1"/>
<line x1="623.35" y1="214.76" x2="623.35" y2="195.48" stroke="#ff0000" stroke-width="1.1"/>
<line x1="643" y1="216.9" x2="643" y2="199.33" stroke="#ff0000" stroke-width="1.1"/>
<line x1="662.65" y1="212.19" x2="662.65" y2="204.48" stroke="#ff0000" stroke-width="1.1"/>
<polyline points="466.15,232.33 485.8,226.76 505.45,222.05 525.1,218.62 544.75,213.47 564.4,210.22 584.05,208.42 603.7,208.42 623.35,204.48 643,208.42 662.65,207.13" fill="none" stroke="#ff0000" stroke-width="1.2" stroke-linejoin="round"/>
<circle cx="466.15" cy="232.33" r="1.2" fill="#c00000"/>
<circle cx="485.8" cy="226.76" r="1.2" fill="#c00000"/>
<circle cx="505.45" cy="222.05" r="1.2" fill="#c00000"/>
<circle cx="525.1" cy="218.62" r="1.2" fill="#c00000"/>
<circle cx="544.75" cy="213.47" r="1.2" fill="#c00000"/>
<circle cx="564.4" cy="210.22" r="1.2" fill="#c00000"/>
<circle cx="584.05" cy="208.42" r="1.2" fill="#c00000"/>
<circle cx="603.7" cy="208.42" r="1.2" fill="#c00000"/>
<circle cx="623.35" cy="204.48" r="1.2" fill="#c00000"/>
<circle cx="643" cy="208.42" r="1.2" fill="#c00000"/>
<circle cx="662.65" cy="207.13" r="1.2" fill="#c00000"/>
<line x1="466.15" y1="230.62" x2="662.65" y2="187.76" stroke="#1f77c0" stroke-width="1.3" stroke-dasharray="4,2.6"/>
<rect x="458" y="261.8" width="225.1" height="59.7" fill="none" stroke="#cfcfcf" stroke-width="0.8"/>
<line x1="483.5" y1="321.5" x2="483.5" y2="319.7" stroke="#aaa" stroke-width="0.6"/>
<line x1="483.5" y1="261.8" x2="483.5" y2="263.6" stroke="#aaa" stroke-width="0.6"/>
<text x="483.5" y="332.2" font-size="8.2" font-weight="normal" fill="#262626" text-anchor="middle" stroke="#262626" stroke-width="0.25">7</text>
<line x1="519.78" y1="321.5" x2="519.78" y2="319.7" stroke="#aaa" stroke-width="0.6"/>
<line x1="519.78" y1="261.8" x2="519.78" y2="263.6" stroke="#aaa" stroke-width="0.6"/>
<text x="519.78" y="332.2" font-size="8.2" font-weight="normal" fill="#262626" text-anchor="middle" stroke="#262626" stroke-width="0.25">8</text>
<line x1="556.06" y1="321.5" x2="556.06" y2="319.7" stroke="#aaa" stroke-width="0.6"/>
<line x1="556.06" y1="261.8" x2="556.06" y2="263.6" stroke="#aaa" stroke-width="0.6"/>
<text x="556.06" y="332.2" font-size="8.2" font-weight="normal" fill="#262626" text-anchor="middle" stroke="#262626" stroke-width="0.25">9</text>
<line x1="592.34" y1="321.5" x2="592.34" y2="319.7" stroke="#aaa" stroke-width="0.6"/>
<line x1="592.34" y1="261.8" x2="592.34" y2="263.6" stroke="#aaa" stroke-width="0.6"/>
<text x="592.34" y="332.2" font-size="8.2" font-weight="normal" fill="#262626" text-anchor="middle" stroke="#262626" stroke-width="0.25">10</text>
<line x1="628.62" y1="321.5" x2="628.62" y2="319.7" stroke="#aaa" stroke-width="0.6"/>
<line x1="628.62" y1="261.8" x2="628.62" y2="263.6" stroke="#aaa" stroke-width="0.6"/>
<text x="628.62" y="332.2" font-size="8.2" font-weight="normal" fill="#262626" text-anchor="middle" stroke="#262626" stroke-width="0.25">11</text>
<line x1="664.9" y1="321.5" x2="664.9" y2="319.7" stroke="#aaa" stroke-width="0.6"/>
<line x1="664.9" y1="261.8" x2="664.9" y2="263.6" stroke="#aaa" stroke-width="0.6"/>
<text x="664.9" y="332.2" font-size="8.2" font-weight="normal" fill="#262626" text-anchor="middle" stroke="#262626" stroke-width="0.25">12</text>
<line x1="458" y1="314.2" x2="459.8" y2="314.2" stroke="#aaa" stroke-width="0.6"/>
<line x1="683.1" y1="314.2" x2="681.3" y2="314.2" stroke="#aaa" stroke-width="0.6"/>
<text x="456" y="317.2" font-size="8.2" font-weight="normal" fill="#262626" text-anchor="end" stroke="#262626" stroke-width="0.25">6</text>
<line x1="458" y1="299" x2="459.8" y2="299" stroke="#aaa" stroke-width="0.6"/>
<line x1="683.1" y1="299" x2="681.3" y2="299" stroke="#aaa" stroke-width="0.6"/>
<text x="456" y="302" font-size="8.2" font-weight="normal" fill="#262626" text-anchor="end" stroke="#262626" stroke-width="0.25">8</text>
<line x1="458" y1="283.8" x2="459.8" y2="283.8" stroke="#aaa" stroke-width="0.6"/>
<line x1="683.1" y1="283.8" x2="681.3" y2="283.8" stroke="#aaa" stroke-width="0.6"/>
<text x="456" y="286.8" font-size="8.2" font-weight="normal" fill="#262626" text-anchor="end" stroke="#262626" stroke-width="0.25">10</text>
<line x1="458" y1="268.6" x2="459.8" y2="268.6" stroke="#aaa" stroke-width="0.6"/>
<line x1="683.1" y1="268.6" x2="681.3" y2="268.6" stroke="#aaa" stroke-width="0.6"/>
<text x="456" y="271.6" font-size="8.2" font-weight="normal" fill="#262626" text-anchor="end" stroke="#262626" stroke-width="0.25">12</text>
<text x="465.3" y="279.4" font-size="9" font-weight="bold" fill="#111" text-anchor="start" textLength="24.9" lengthAdjust="spacingAndGlyphs">Adult</text>
<line x1="458.1" y1="305.69" x2="664.9" y2="305.69" stroke="#555" stroke-width="2"/>
<circle cx="464.83" cy="310.4" r="1.0" fill="none" stroke="#222" stroke-width="0.6"/>
<circle cx="483.65" cy="306.6" r="1.0" fill="none" stroke="#222" stroke-width="0.6"/>
<circle cx="502.48" cy="302.8" r="1.0" fill="none" stroke="#222" stroke-width="0.6"/>
<circle cx="520.69" cy="299.09" r="1.0" fill="none" stroke="#222" stroke-width="0.6"/>
<circle cx="519.47" cy="298.97" r="1.0" fill="none" stroke="#222" stroke-width="0.6"/>
<circle cx="519.33" cy="299.17" r="1.0" fill="none" stroke="#222" stroke-width="0.6"/>
<circle cx="536.33" cy="294.68" r="1.0" fill="none" stroke="#222" stroke-width="0.6"/>
<circle cx="539.62" cy="294.84" r="1.0" fill="none" stroke="#222" stroke-width="0.6"/>
<circle cx="537.93" cy="294.3" r="1.0" fill="none" stroke="#222" stroke-width="0.6"/>
<circle cx="538.71" cy="284.56" r="1.0" fill="none" stroke="#222" stroke-width="0.6"/>
<circle cx="537.3" cy="302.04" r="1.0" fill="none" stroke="#222" stroke-width="0.6"/>
<circle cx="555.23" cy="291.67" r="1.0" fill="none" stroke="#222" stroke-width="0.6"/>
<circle cx="555.7" cy="291.46" r="1.0" fill="none" stroke="#222" stroke-width="0.6"/>
<circle cx="557.71" cy="291.03" r="1.0" fill="none" stroke="#222" stroke-width="0.6"/>
<circle cx="556.87" cy="299" r="1.0" fill="none" stroke="#222" stroke-width="0.6"/>
<circle cx="555.02" cy="319.52" r="1.0" fill="none" stroke="#222" stroke-width="0.6"/>
<circle cx="572.5" cy="287.38" r="1.0" fill="none" stroke="#222" stroke-width="0.6"/>
<circle cx="575.64" cy="287.63" r="1.0" fill="none" stroke="#222" stroke-width="0.6"/>
<circle cx="574.52" cy="288.13" r="1.0" fill="none" stroke="#222" stroke-width="0.6"/>
<circle cx="591.95" cy="283.35" r="1.0" fill="none" stroke="#222" stroke-width="0.6"/>
<circle cx="593.52" cy="283.42" r="1.0" fill="none" stroke="#222" stroke-width="0.6"/>
<circle cx="594.05" cy="284.07" r="1.0" fill="none" stroke="#222" stroke-width="0.6"/>
<circle cx="591.49" cy="291.4" r="1.0" fill="none" stroke="#222" stroke-width="0.6"/>
<circle cx="591.59" cy="300.52" r="1.0" fill="none" stroke="#222" stroke-width="0.6"/>
<circle cx="610.56" cy="279.81" r="1.0" fill="none" stroke="#222" stroke-width="0.6"/>
<circle cx="612.08" cy="279.76" r="1.0" fill="none" stroke="#222" stroke-width="0.6"/>
<circle cx="611.01" cy="279.72" r="1.0" fill="none" stroke="#222" stroke-width="0.6"/>
<circle cx="610.39" cy="297.48" r="1.0" fill="none" stroke="#222" stroke-width="0.6"/>
<circle cx="628.81" cy="276.69" r="1.0" fill="none" stroke="#222" stroke-width="0.6"/>
<circle cx="629.64" cy="276.48" r="1.0" fill="none" stroke="#222" stroke-width="0.6"/>
<circle cx="630.14" cy="276.05" r="1.0" fill="none" stroke="#222" stroke-width="0.6"/>
<circle cx="646.05" cy="272.8" r="1.0" fill="none" stroke="#222" stroke-width="0.6"/>
<circle cx="645.86" cy="272.25" r="1.0" fill="none" stroke="#222" stroke-width="0.6"/>
<circle cx="647.48" cy="272.81" r="1.0" fill="none" stroke="#222" stroke-width="0.6"/>
<circle cx="645.82" cy="276.2" r="1.0" fill="none" stroke="#222" stroke-width="0.6"/>
<circle cx="646.81" cy="302.04" r="1.0" fill="none" stroke="#222" stroke-width="0.6"/>
<circle cx="665.08" cy="286.84" r="1.0" fill="none" stroke="#222" stroke-width="0.6"/>
<line x1="537.92" y1="300.52" x2="537.92" y2="286.84" stroke="#ff0000" stroke-width="1.1"/>
<line x1="556.06" y1="305.08" x2="556.06" y2="284.94" stroke="#ff0000" stroke-width="1.1"/>
<line x1="592.34" y1="291.4" x2="592.34" y2="279.24" stroke="#ff0000" stroke-width="1.1"/>
<line x1="610.48" y1="289.88" x2="610.48" y2="275.82" stroke="#ff0000" stroke-width="1.1"/>
<line x1="646.76" y1="296.72" x2="646.76" y2="270.5" stroke="#ff0000" stroke-width="1.1"/>
<polyline points="465.36,310.63 483.5,306.6 501.64,302.8 519.78,298.77 537.92,294.9 556.06,295.73 574.2,287.6 592.34,285.7 610.48,283.04 628.62,276.73 646.76,284.03 664.9,286.84" fill="none" stroke="#ff0000" stroke-width="1.2" stroke-linejoin="round"/>
<circle cx="465.36" cy="310.63" r="1.2" fill="#c00000"/>
<circle cx="483.5" cy="306.6" r="1.2" fill="#c00000"/>
<circle cx="501.64" cy="302.8" r="1.2" fill="#c00000"/>
<circle cx="519.78" cy="298.77" r="1.2" fill="#c00000"/>
<circle cx="537.92" cy="294.9" r="1.2" fill="#c00000"/>
<circle cx="556.06" cy="295.73" r="1.2" fill="#c00000"/>
<circle cx="574.2" cy="287.6" r="1.2" fill="#c00000"/>
<circle cx="592.34" cy="285.7" r="1.2" fill="#c00000"/>
<circle cx="610.48" cy="283.04" r="1.2" fill="#c00000"/>
<circle cx="628.62" cy="276.73" r="1.2" fill="#c00000"/>
<circle cx="646.76" cy="284.03" r="1.2" fill="#c00000"/>
<circle cx="664.9" cy="286.84" r="1.2" fill="#c00000"/>
<line x1="465.36" y1="310.4" x2="664.9" y2="268.6" stroke="#1f77c0" stroke-width="1.3" stroke-dasharray="4,2.6"/>
<line x1="481.2" y1="18.5" x2="496.2" y2="18.5" stroke="#000" stroke-width="1.2"/>
<text x="501.5" y="21.1" font-size="9" font-weight="bold" fill="#111" text-anchor="start" textLength="20.4" lengthAdjust="spacingAndGlyphs">RHR</text>
<line x1="535" y1="18.5" x2="550.6" y2="18.5" stroke="#ff0000" stroke-width="1.2"/>
<text x="555.7" y="21.1" font-size="9" font-weight="bold" fill="#111" text-anchor="start" textLength="13.6" lengthAdjust="spacingAndGlyphs">HR</text>
<line x1="586.1" y1="18.5" x2="602" y2="18.5" stroke="#1f77c0" stroke-width="1.2" stroke-dasharray="3,1.7"/>
<text x="606.7" y="21.1" font-size="9" font-weight="bold" fill="#111" text-anchor="start" textLength="12.1" lengthAdjust="spacingAndGlyphs">Fit</text>
<text x="0" y="0" font-size="9.2" fill="#262626" text-anchor="middle" textLength="30.8" lengthAdjust="spacingAndGlyphs" stroke="#262626" stroke-width="0.3" transform="translate(445.1,157.5) rotate(-90)">HR (Hz)</text>
<text x="523.6" y="343.4" font-size="8.8" font-weight="normal" fill="#262626" text-anchor="start" textLength="93.6" lengthAdjust="spacingAndGlyphs" stroke="#262626" stroke-width="0.3">Pacing frequency (Hz)</text>
</svg>
</body></html>
